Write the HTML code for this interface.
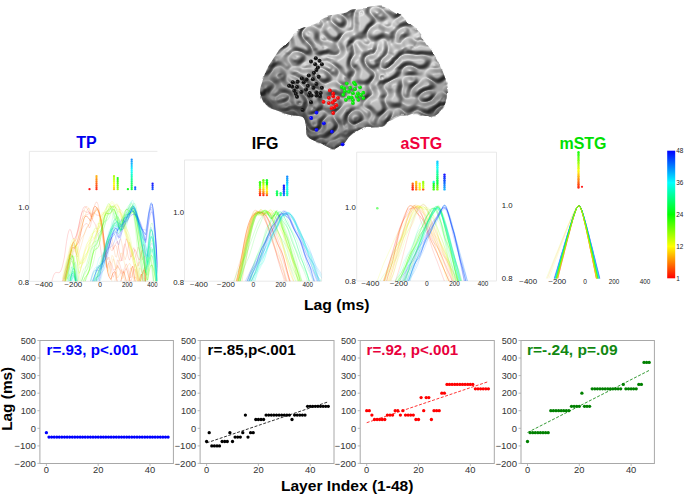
<!DOCTYPE html>
<html><head><meta charset="utf-8"><style>html,body{margin:0;padding:0;background:#fff;}svg{display:block;}</style></head>
<body><svg width="685" height="494" viewBox="0 0 685 494">
<rect width="685" height="494" fill="#fff"/>
<defs>
<clipPath id="bc"><path d="M260.1,90.7 C260.1,88.0 261.1,86.0 262.1,82.6 C263.1,79.2 264.5,74.2 266.2,70.5 C267.9,66.8 270.0,63.9 272.3,60.3 C274.6,56.7 277.6,51.9 280.0,49.0 C282.4,46.1 284.5,45.9 287.0,43.2 C289.5,40.5 292.3,35.2 295.2,32.7 C298.1,30.2 301.2,29.4 304.5,28.0 C307.8,26.6 311.7,26.2 315.0,24.5 C318.3,22.8 321.1,19.1 324.4,17.5 C327.7,15.8 331.4,15.4 334.9,14.6 C338.4,13.8 342.5,13.7 345.4,12.8 C348.3,11.9 348.9,10.1 352.4,9.3 C355.9,8.5 361.8,8.4 366.3,7.9 C370.8,7.5 376.0,6.6 379.5,6.6 C383.0,6.6 383.9,6.4 387.4,7.9 C390.9,9.4 397.0,13.2 400.5,15.8 C404.0,18.4 405.3,21.1 408.4,23.7 C411.5,26.3 415.9,28.1 419.0,31.6 C422.1,35.1 424.2,40.8 426.8,44.7 C429.4,48.7 432.1,50.9 434.7,55.3 C437.3,59.7 440.6,66.2 442.6,71.0 C444.6,75.8 445.9,79.8 446.6,84.2 C447.3,88.6 447.3,93.5 446.6,97.4 C445.9,101.4 444.6,104.8 442.6,107.9 C440.6,111.0 437.8,114.5 434.7,115.8 C431.6,117.1 427.3,116.2 424.2,115.8 C421.1,115.4 419.4,113.2 416.3,113.2 C413.2,113.2 408.5,115.3 405.8,115.8 C403.1,116.3 402.2,115.3 400.0,116.0 C397.8,116.7 394.7,118.7 392.6,119.7 C390.5,120.7 389.2,120.8 387.6,121.9 C386.0,123.0 385.1,125.5 383.2,126.3 C381.2,127.1 378.8,126.9 375.9,127.0 C373.0,127.1 368.8,126.4 365.7,127.0 C362.6,127.6 359.7,129.1 357.0,130.7 C354.3,132.3 351.8,134.3 349.6,136.5 C347.4,138.7 345.7,142.1 343.8,143.8 C341.9,145.5 339.9,145.8 338.0,146.7 C336.1,147.5 334.8,149.4 332.1,148.9 C329.4,148.4 325.3,145.4 321.9,143.8 C318.5,142.2 314.2,140.9 311.7,139.4 C309.1,137.9 307.6,137.4 306.6,135.0 C305.6,132.6 306.5,127.8 305.8,124.8 C305.1,121.8 305.2,118.6 302.6,117.0 C300.1,115.4 294.6,116.0 290.5,115.0 C286.4,114.0 282.0,112.2 278.3,110.9 C274.6,109.6 270.9,108.9 268.2,106.9 C265.5,104.9 263.5,101.5 262.1,98.8 C260.8,96.1 260.1,93.4 260.1,90.7Z"/></clipPath>
<filter id="gy" x="250" y="0" width="205" height="155" filterUnits="userSpaceOnUse" color-interpolation-filters="sRGB"><feTurbulence type="turbulence" baseFrequency="0.062 0.072" numOctaves="1" seed="8" result="t"/><feColorMatrix in="t" type="matrix" values="0 0 0 0 0  0 0 0 0 0  0 0 0 0 0  4 0 0 0 -0.2" result="h"/><feGaussianBlur in="h" stdDeviation="1.3" result="hb"/><feDiffuseLighting in="hb" surfaceScale="4" diffuseConstant="1.0" lighting-color="#ffffff" result="lit0"><feDistantLight azimuth="235" elevation="62"/></feDiffuseLighting><feComponentTransfer in="lit0" result="lit"><feFuncR type="linear" slope="0.64" intercept="0.19"/><feFuncG type="linear" slope="0.64" intercept="0.19"/><feFuncB type="linear" slope="0.64" intercept="0.19"/></feComponentTransfer><feSpecularLighting in="hb" surfaceScale="4" specularConstant="0.35" specularExponent="16" lighting-color="#ffffff" result="spec"><feDistantLight azimuth="240" elevation="60"/></feSpecularLighting><feComposite in="lit" in2="spec" operator="arithmetic" k1="0" k2="1" k3="0.28" k4="0" result="both"/><feTurbulence type="fractalNoise" baseFrequency="0.09" numOctaves="2" seed="4" result="dn"/><feDisplacementMap in="SourceGraphic" in2="dn" scale="5" xChannelSelector="R" yChannelSelector="G" result="shape"/><feComposite in="both" in2="shape" operator="in"/></filter>
<radialGradient id="bsh" gradientUnits="userSpaceOnUse" cx="365" cy="25" r="140"><stop offset="0" stop-color="#000" stop-opacity="0"/><stop offset="0.55" stop-color="#000" stop-opacity="0.06"/><stop offset="1" stop-color="#000" stop-opacity="0.5"/></radialGradient>
<radialGradient id="ball" cx="0.35" cy="0.35" r="0.7"><stop offset="0" stop-color="#fff" stop-opacity="0.35"/><stop offset="0.35" stop-color="#fff" stop-opacity="0"/><stop offset="1" stop-color="#000" stop-opacity="0.25"/></radialGradient>
</defs>
<path d="M260.1,90.7 C260.1,88.0 261.1,86.0 262.1,82.6 C263.1,79.2 264.5,74.2 266.2,70.5 C267.9,66.8 270.0,63.9 272.3,60.3 C274.6,56.7 277.6,51.9 280.0,49.0 C282.4,46.1 284.5,45.9 287.0,43.2 C289.5,40.5 292.3,35.2 295.2,32.7 C298.1,30.2 301.2,29.4 304.5,28.0 C307.8,26.6 311.7,26.2 315.0,24.5 C318.3,22.8 321.1,19.1 324.4,17.5 C327.7,15.8 331.4,15.4 334.9,14.6 C338.4,13.8 342.5,13.7 345.4,12.8 C348.3,11.9 348.9,10.1 352.4,9.3 C355.9,8.5 361.8,8.4 366.3,7.9 C370.8,7.5 376.0,6.6 379.5,6.6 C383.0,6.6 383.9,6.4 387.4,7.9 C390.9,9.4 397.0,13.2 400.5,15.8 C404.0,18.4 405.3,21.1 408.4,23.7 C411.5,26.3 415.9,28.1 419.0,31.6 C422.1,35.1 424.2,40.8 426.8,44.7 C429.4,48.7 432.1,50.9 434.7,55.3 C437.3,59.7 440.6,66.2 442.6,71.0 C444.6,75.8 445.9,79.8 446.6,84.2 C447.3,88.6 447.3,93.5 446.6,97.4 C445.9,101.4 444.6,104.8 442.6,107.9 C440.6,111.0 437.8,114.5 434.7,115.8 C431.6,117.1 427.3,116.2 424.2,115.8 C421.1,115.4 419.4,113.2 416.3,113.2 C413.2,113.2 408.5,115.3 405.8,115.8 C403.1,116.3 402.2,115.3 400.0,116.0 C397.8,116.7 394.7,118.7 392.6,119.7 C390.5,120.7 389.2,120.8 387.6,121.9 C386.0,123.0 385.1,125.5 383.2,126.3 C381.2,127.1 378.8,126.9 375.9,127.0 C373.0,127.1 368.8,126.4 365.7,127.0 C362.6,127.6 359.7,129.1 357.0,130.7 C354.3,132.3 351.8,134.3 349.6,136.5 C347.4,138.7 345.7,142.1 343.8,143.8 C341.9,145.5 339.9,145.8 338.0,146.7 C336.1,147.5 334.8,149.4 332.1,148.9 C329.4,148.4 325.3,145.4 321.9,143.8 C318.5,142.2 314.2,140.9 311.7,139.4 C309.1,137.9 307.6,137.4 306.6,135.0 C305.6,132.6 306.5,127.8 305.8,124.8 C305.1,121.8 305.2,118.6 302.6,117.0 C300.1,115.4 294.6,116.0 290.5,115.0 C286.4,114.0 282.0,112.2 278.3,110.9 C274.6,109.6 270.9,108.9 268.2,106.9 C265.5,104.9 263.5,101.5 262.1,98.8 C260.8,96.1 260.1,93.4 260.1,90.7Z" fill="#000" filter="url(#gy)"/>
<path d="M260.1,90.7 C260.1,88.0 261.1,86.0 262.1,82.6 C263.1,79.2 264.5,74.2 266.2,70.5 C267.9,66.8 270.0,63.9 272.3,60.3 C274.6,56.7 277.6,51.9 280.0,49.0 C282.4,46.1 284.5,45.9 287.0,43.2 C289.5,40.5 292.3,35.2 295.2,32.7 C298.1,30.2 301.2,29.4 304.5,28.0 C307.8,26.6 311.7,26.2 315.0,24.5 C318.3,22.8 321.1,19.1 324.4,17.5 C327.7,15.8 331.4,15.4 334.9,14.6 C338.4,13.8 342.5,13.7 345.4,12.8 C348.3,11.9 348.9,10.1 352.4,9.3 C355.9,8.5 361.8,8.4 366.3,7.9 C370.8,7.5 376.0,6.6 379.5,6.6 C383.0,6.6 383.9,6.4 387.4,7.9 C390.9,9.4 397.0,13.2 400.5,15.8 C404.0,18.4 405.3,21.1 408.4,23.7 C411.5,26.3 415.9,28.1 419.0,31.6 C422.1,35.1 424.2,40.8 426.8,44.7 C429.4,48.7 432.1,50.9 434.7,55.3 C437.3,59.7 440.6,66.2 442.6,71.0 C444.6,75.8 445.9,79.8 446.6,84.2 C447.3,88.6 447.3,93.5 446.6,97.4 C445.9,101.4 444.6,104.8 442.6,107.9 C440.6,111.0 437.8,114.5 434.7,115.8 C431.6,117.1 427.3,116.2 424.2,115.8 C421.1,115.4 419.4,113.2 416.3,113.2 C413.2,113.2 408.5,115.3 405.8,115.8 C403.1,116.3 402.2,115.3 400.0,116.0 C397.8,116.7 394.7,118.7 392.6,119.7 C390.5,120.7 389.2,120.8 387.6,121.9 C386.0,123.0 385.1,125.5 383.2,126.3 C381.2,127.1 378.8,126.9 375.9,127.0 C373.0,127.1 368.8,126.4 365.7,127.0 C362.6,127.6 359.7,129.1 357.0,130.7 C354.3,132.3 351.8,134.3 349.6,136.5 C347.4,138.7 345.7,142.1 343.8,143.8 C341.9,145.5 339.9,145.8 338.0,146.7 C336.1,147.5 334.8,149.4 332.1,148.9 C329.4,148.4 325.3,145.4 321.9,143.8 C318.5,142.2 314.2,140.9 311.7,139.4 C309.1,137.9 307.6,137.4 306.6,135.0 C305.6,132.6 306.5,127.8 305.8,124.8 C305.1,121.8 305.2,118.6 302.6,117.0 C300.1,115.4 294.6,116.0 290.5,115.0 C286.4,114.0 282.0,112.2 278.3,110.9 C274.6,109.6 270.9,108.9 268.2,106.9 C265.5,104.9 263.5,101.5 262.1,98.8 C260.8,96.1 260.1,93.4 260.1,90.7Z" fill="url(#bsh)"/>
<defs><filter id="sb2" x="-20%" y="-20%" width="140%" height="140%"><feGaussianBlur stdDeviation="1.8"/></filter><filter id="sb1" x="-20%" y="-20%" width="140%" height="140%"><feGaussianBlur stdDeviation="1.0"/></filter></defs>
<g clip-path="url(#bc)">
<path d="M261,97 C266,106 276,113 290,117 C298,119 304,121 308,124 L309,116 C300,112 290,110 281,106 C272,102 266,97 263,92Z" fill="#2e2e2e" opacity="0.55" filter="url(#sb2)"/>
<path d="M304,112 C305,120 306,128 308,136 C314,141 322,145 332,150 C340,147 346,141 350,136 C356,131 362,128 372,127 C380,127 386,125 392,120" fill="none" stroke="#2a2a2a" stroke-width="5" opacity="0.5" filter="url(#sb2)"/>
<path d="M398,117 C410,115 425,117 436,115 C441,110 445,104 447,96" fill="none" stroke="#2a2a2a" stroke-width="4" opacity="0.35" filter="url(#sb2)"/>
<path d="M285,104 C295,108 303,108 312,104 C318,100 324,97 330,92" fill="none" stroke="#333" stroke-width="3" opacity="0.35" filter="url(#sb1)"/>
<path d="M313,116 C325,111 340,104 352,102 C368,100 385,99 400,100" fill="none" stroke="#e0e0e0" stroke-width="3" opacity="0.35" filter="url(#sb1)"/>
</g>
<circle cx="315.8" cy="58.3" r="2.0" fill="#0a0a0a"/>
<circle cx="315.8" cy="58.3" r="2.0" fill="url(#ball)"/>
<circle cx="319.5" cy="60.7" r="2.0" fill="#0a0a0a"/>
<circle cx="319.5" cy="60.7" r="2.0" fill="url(#ball)"/>
<circle cx="311.0" cy="61.5" r="2.0" fill="#0a0a0a"/>
<circle cx="311.0" cy="61.5" r="2.0" fill="url(#ball)"/>
<circle cx="315.2" cy="64.3" r="2.0" fill="#0a0a0a"/>
<circle cx="315.2" cy="64.3" r="2.0" fill="url(#ball)"/>
<circle cx="321.9" cy="64.3" r="2.0" fill="#0a0a0a"/>
<circle cx="321.9" cy="64.3" r="2.0" fill="url(#ball)"/>
<circle cx="317.9" cy="67.6" r="2.0" fill="#0a0a0a"/>
<circle cx="317.9" cy="67.6" r="2.0" fill="url(#ball)"/>
<circle cx="316.4" cy="70.0" r="2.0" fill="#0a0a0a"/>
<circle cx="316.4" cy="70.0" r="2.0" fill="url(#ball)"/>
<circle cx="314.0" cy="72.8" r="2.0" fill="#0a0a0a"/>
<circle cx="314.0" cy="72.8" r="2.0" fill="url(#ball)"/>
<circle cx="308.8" cy="75.5" r="2.0" fill="#0a0a0a"/>
<circle cx="308.8" cy="75.5" r="2.0" fill="url(#ball)"/>
<circle cx="318.6" cy="76.7" r="2.0" fill="#0a0a0a"/>
<circle cx="318.6" cy="76.7" r="2.0" fill="url(#ball)"/>
<circle cx="301.9" cy="78.5" r="2.0" fill="#0a0a0a"/>
<circle cx="301.9" cy="78.5" r="2.0" fill="url(#ball)"/>
<circle cx="306.5" cy="79.5" r="2.0" fill="#0a0a0a"/>
<circle cx="306.5" cy="79.5" r="2.0" fill="url(#ball)"/>
<circle cx="312.8" cy="79.2" r="2.0" fill="#0a0a0a"/>
<circle cx="312.8" cy="79.2" r="2.0" fill="url(#ball)"/>
<circle cx="292.8" cy="82.2" r="2.0" fill="#0a0a0a"/>
<circle cx="292.8" cy="82.2" r="2.0" fill="url(#ball)"/>
<circle cx="297.6" cy="81.8" r="2.0" fill="#0a0a0a"/>
<circle cx="297.6" cy="81.8" r="2.0" fill="url(#ball)"/>
<circle cx="303.7" cy="82.2" r="2.0" fill="#0a0a0a"/>
<circle cx="303.7" cy="82.2" r="2.0" fill="url(#ball)"/>
<circle cx="316.4" cy="84.0" r="2.0" fill="#0a0a0a"/>
<circle cx="316.4" cy="84.0" r="2.0" fill="url(#ball)"/>
<circle cx="289.1" cy="85.8" r="2.0" fill="#0a0a0a"/>
<circle cx="289.1" cy="85.8" r="2.0" fill="url(#ball)"/>
<circle cx="292.1" cy="86.4" r="2.0" fill="#0a0a0a"/>
<circle cx="292.1" cy="86.4" r="2.0" fill="url(#ball)"/>
<circle cx="297.0" cy="87.0" r="2.0" fill="#0a0a0a"/>
<circle cx="297.0" cy="87.0" r="2.0" fill="url(#ball)"/>
<circle cx="307.9" cy="85.8" r="2.0" fill="#0a0a0a"/>
<circle cx="307.9" cy="85.8" r="2.0" fill="url(#ball)"/>
<circle cx="313.4" cy="87.7" r="2.0" fill="#0a0a0a"/>
<circle cx="313.4" cy="87.7" r="2.0" fill="url(#ball)"/>
<circle cx="321.9" cy="87.7" r="2.0" fill="#0a0a0a"/>
<circle cx="321.9" cy="87.7" r="2.0" fill="url(#ball)"/>
<circle cx="294.3" cy="90.7" r="2.0" fill="#0a0a0a"/>
<circle cx="294.3" cy="90.7" r="2.0" fill="url(#ball)"/>
<circle cx="301.3" cy="91.9" r="2.0" fill="#0a0a0a"/>
<circle cx="301.3" cy="91.9" r="2.0" fill="url(#ball)"/>
<circle cx="306.1" cy="89.5" r="2.0" fill="#0a0a0a"/>
<circle cx="306.1" cy="89.5" r="2.0" fill="url(#ball)"/>
<circle cx="295.8" cy="93.7" r="2.0" fill="#0a0a0a"/>
<circle cx="295.8" cy="93.7" r="2.0" fill="url(#ball)"/>
<circle cx="309.8" cy="93.1" r="2.0" fill="#0a0a0a"/>
<circle cx="309.8" cy="93.1" r="2.0" fill="url(#ball)"/>
<circle cx="316.4" cy="92.5" r="2.0" fill="#0a0a0a"/>
<circle cx="316.4" cy="92.5" r="2.0" fill="url(#ball)"/>
<circle cx="320.7" cy="93.1" r="2.0" fill="#0a0a0a"/>
<circle cx="320.7" cy="93.1" r="2.0" fill="url(#ball)"/>
<circle cx="297.0" cy="96.8" r="2.0" fill="#0a0a0a"/>
<circle cx="297.0" cy="96.8" r="2.0" fill="url(#ball)"/>
<circle cx="309.2" cy="95.5" r="2.0" fill="#0a0a0a"/>
<circle cx="309.2" cy="95.5" r="2.0" fill="url(#ball)"/>
<circle cx="311.6" cy="95.5" r="2.0" fill="#0a0a0a"/>
<circle cx="311.6" cy="95.5" r="2.0" fill="url(#ball)"/>
<circle cx="316.4" cy="95.5" r="2.0" fill="#0a0a0a"/>
<circle cx="316.4" cy="95.5" r="2.0" fill="url(#ball)"/>
<circle cx="320.1" cy="95.9" r="2.0" fill="#0a0a0a"/>
<circle cx="320.1" cy="95.9" r="2.0" fill="url(#ball)"/>
<circle cx="311.0" cy="102.2" r="2.0" fill="#0a0a0a"/>
<circle cx="311.0" cy="102.2" r="2.0" fill="url(#ball)"/>
<circle cx="302.6" cy="110.1" r="2.0" fill="#0a0a0a"/>
<circle cx="302.6" cy="110.1" r="2.0" fill="url(#ball)"/>
<circle cx="329.9" cy="90.4" r="1.9" fill="#f00"/>
<circle cx="329.9" cy="90.4" r="1.9" fill="url(#ball)"/>
<circle cx="333.2" cy="93.4" r="1.9" fill="#f00"/>
<circle cx="333.2" cy="93.4" r="1.9" fill="url(#ball)"/>
<circle cx="333.2" cy="96.3" r="1.9" fill="#f00"/>
<circle cx="333.2" cy="96.3" r="1.9" fill="url(#ball)"/>
<circle cx="328.9" cy="97.8" r="1.9" fill="#f00"/>
<circle cx="328.9" cy="97.8" r="1.9" fill="url(#ball)"/>
<circle cx="338.0" cy="97.8" r="1.9" fill="#f00"/>
<circle cx="338.0" cy="97.8" r="1.9" fill="url(#ball)"/>
<circle cx="334.7" cy="100.3" r="1.9" fill="#f00"/>
<circle cx="334.7" cy="100.3" r="1.9" fill="url(#ball)"/>
<circle cx="323.5" cy="101.8" r="1.9" fill="#f00"/>
<circle cx="323.5" cy="101.8" r="1.9" fill="url(#ball)"/>
<circle cx="328.9" cy="103.1" r="1.9" fill="#f00"/>
<circle cx="328.9" cy="103.1" r="1.9" fill="url(#ball)"/>
<circle cx="332.7" cy="102.5" r="1.9" fill="#f00"/>
<circle cx="332.7" cy="102.5" r="1.9" fill="url(#ball)"/>
<circle cx="336.4" cy="105.2" r="1.9" fill="#f00"/>
<circle cx="336.4" cy="105.2" r="1.9" fill="url(#ball)"/>
<circle cx="334.2" cy="107.2" r="1.9" fill="#f00"/>
<circle cx="334.2" cy="107.2" r="1.9" fill="url(#ball)"/>
<circle cx="331.6" cy="108.2" r="1.9" fill="#f00"/>
<circle cx="331.6" cy="108.2" r="1.9" fill="url(#ball)"/>
<circle cx="333.2" cy="113.0" r="1.9" fill="#f00"/>
<circle cx="333.2" cy="113.0" r="1.9" fill="url(#ball)"/>
<circle cx="346.8" cy="83.6" r="1.9" fill="#0e0"/>
<circle cx="346.8" cy="83.6" r="1.9" fill="url(#ball)"/>
<circle cx="353.9" cy="82.6" r="1.9" fill="#0e0"/>
<circle cx="353.9" cy="82.6" r="1.9" fill="url(#ball)"/>
<circle cx="355.2" cy="84.3" r="1.9" fill="#0e0"/>
<circle cx="355.2" cy="84.3" r="1.9" fill="url(#ball)"/>
<circle cx="341.8" cy="87.1" r="1.9" fill="#0e0"/>
<circle cx="341.8" cy="87.1" r="1.9" fill="url(#ball)"/>
<circle cx="344.3" cy="88.4" r="1.9" fill="#0e0"/>
<circle cx="344.3" cy="88.4" r="1.9" fill="url(#ball)"/>
<circle cx="350.2" cy="87.7" r="1.9" fill="#0e0"/>
<circle cx="350.2" cy="87.7" r="1.9" fill="url(#ball)"/>
<circle cx="354.9" cy="89.2" r="1.9" fill="#0e0"/>
<circle cx="354.9" cy="89.2" r="1.9" fill="url(#ball)"/>
<circle cx="360.0" cy="87.3" r="1.9" fill="#0e0"/>
<circle cx="360.0" cy="87.3" r="1.9" fill="url(#ball)"/>
<circle cx="344.8" cy="91.2" r="1.9" fill="#0e0"/>
<circle cx="344.8" cy="91.2" r="1.9" fill="url(#ball)"/>
<circle cx="348.8" cy="91.7" r="1.9" fill="#0e0"/>
<circle cx="348.8" cy="91.7" r="1.9" fill="url(#ball)"/>
<circle cx="352.9" cy="93.2" r="1.9" fill="#0e0"/>
<circle cx="352.9" cy="93.2" r="1.9" fill="url(#ball)"/>
<circle cx="358.0" cy="93.4" r="1.9" fill="#0e0"/>
<circle cx="358.0" cy="93.4" r="1.9" fill="url(#ball)"/>
<circle cx="363.3" cy="92.7" r="1.9" fill="#0e0"/>
<circle cx="363.3" cy="92.7" r="1.9" fill="url(#ball)"/>
<circle cx="343.3" cy="94.7" r="1.9" fill="#0e0"/>
<circle cx="343.3" cy="94.7" r="1.9" fill="url(#ball)"/>
<circle cx="361.0" cy="95.0" r="1.9" fill="#0e0"/>
<circle cx="361.0" cy="95.0" r="1.9" fill="url(#ball)"/>
<circle cx="348.8" cy="97.5" r="1.9" fill="#0e0"/>
<circle cx="348.8" cy="97.5" r="1.9" fill="url(#ball)"/>
<circle cx="351.6" cy="97.5" r="1.9" fill="#0e0"/>
<circle cx="351.6" cy="97.5" r="1.9" fill="url(#ball)"/>
<circle cx="356.9" cy="96.3" r="1.9" fill="#0e0"/>
<circle cx="356.9" cy="96.3" r="1.9" fill="url(#ball)"/>
<circle cx="345.8" cy="99.8" r="1.9" fill="#0e0"/>
<circle cx="345.8" cy="99.8" r="1.9" fill="url(#ball)"/>
<circle cx="352.9" cy="100.1" r="1.9" fill="#0e0"/>
<circle cx="352.9" cy="100.1" r="1.9" fill="url(#ball)"/>
<circle cx="358.3" cy="99.8" r="1.9" fill="#0e0"/>
<circle cx="358.3" cy="99.8" r="1.9" fill="url(#ball)"/>
<circle cx="363.3" cy="98.1" r="1.9" fill="#0e0"/>
<circle cx="363.3" cy="98.1" r="1.9" fill="url(#ball)"/>
<circle cx="352.9" cy="103.1" r="1.9" fill="#0e0"/>
<circle cx="352.9" cy="103.1" r="1.9" fill="url(#ball)"/>
<circle cx="316.5" cy="112.6" r="1.9" fill="#00f"/>
<circle cx="316.5" cy="112.6" r="1.9" fill="url(#ball)"/>
<circle cx="311.2" cy="118.0" r="1.9" fill="#00f"/>
<circle cx="311.2" cy="118.0" r="1.9" fill="url(#ball)"/>
<circle cx="323.8" cy="123.3" r="1.9" fill="#00f"/>
<circle cx="323.8" cy="123.3" r="1.9" fill="url(#ball)"/>
<circle cx="316.5" cy="129.8" r="1.9" fill="#00f"/>
<circle cx="316.5" cy="129.8" r="1.9" fill="url(#ball)"/>
<circle cx="331.9" cy="131.6" r="1.9" fill="#00f"/>
<circle cx="331.9" cy="131.6" r="1.9" fill="url(#ball)"/>
<circle cx="342.6" cy="144.3" r="1.9" fill="#00f"/>
<circle cx="342.6" cy="144.3" r="1.9" fill="url(#ball)"/>
<defs>
<clipPath id="pc0"><rect x="29.4" y="151.4" width="128.0" height="129.9"/></clipPath>
<clipPath id="pc1"><rect x="184.5" y="160.0" width="137.1" height="121.2"/></clipPath>
<clipPath id="pc2"><rect x="356.7" y="152.2" width="139.8" height="128.8"/></clipPath>
<clipPath id="pc3"><rect x="500.0" y="150.0" width="160.0" height="128.6"/></clipPath>
</defs>
<path d="M29.4,151.4 V281.3 H157.4 " fill="none" stroke="#e6e6e6" stroke-width="0.9"/>
<path d="M29.4,151.4 H157.4" fill="none" stroke="#e6e6e6" stroke-width="0.9"/>
<g clip-path="url(#pc0)" fill="none" stroke-width="0.6" stroke-linejoin="round">
<path d="M51.4,283.2 52.5,278.7 53.6,275.4 54.7,273.4 55.8,272.5 56.8,272.4 57.9,272.7 59.0,272.7 60.1,272.0 61.2,270.0 62.3,266.8 63.3,262.4 64.4,257.3 65.5,249.1 66.6,241.3 67.7,235.0 68.8,230.9 69.8,229.3 70.9,230.3 72.0,234.4 73.1,238.6 74.2,238.5 75.3,237.4 76.4,235.1 77.4,231.6 78.5,227.0 79.6,221.9 80.7,216.8 81.8,212.4 82.9,209.0 83.9,207.1 85.0,206.5 86.1,207.2 87.2,208.8 88.3,210.8 89.4,213.0 90.4,215.4 91.5,217.8 92.6,219.9 93.7,221.7 94.8,223.5 95.9,225.8 96.9,229.0 98.0,233.4 99.1,239.2 100.2,246.1 101.3,253.9 102.4,262.0 103.5,252.5 104.5,257.1 105.6,253.9 106.7,249.4 107.8,243.9 108.9,238.7 110.0,240.5 111.0,242.7 112.1,245.7 113.2,249.4 114.3,246.3 115.4,244.3 116.5,242.7 117.5,241.3 118.6,247.5 119.7,253.0 120.8,257.6 121.9,261.0 123.0,256.1 124.0,250.2 125.1,244.2 126.2,238.7 127.3,241.0 128.4,245.4 129.5,250.7 130.6,256.8 131.6,256.6 132.7,254.8 133.8,252.4 134.9,249.4 136.0,251.4 137.1,254.8 138.1,257.6 139.2,260.1 140.3,257.3 141.4,252.3 142.5,248.0 143.6,244.4 144.6,246.6 145.7,289.3" stroke="#ff0000" stroke-opacity="0.22" stroke-width="0.7"/>
<path d="M62.3,281.2 63.3,276.9 64.4,273.0 65.5,269.7 66.6,266.9 67.7,264.0 68.8,260.6 69.8,256.5 70.9,252.1 72.0,247.2 73.1,243.2 74.2,241.2 75.3,238.6 76.4,235.8 77.4,232.2 78.5,227.6 79.6,222.3 80.7,217.2 81.8,213.2 82.9,211.0 83.9,210.6 85.0,211.3 86.1,212.2 87.2,212.3 88.3,211.9 89.4,212.2 90.4,213.7 91.5,217.0 92.6,213.5 93.7,212.4 94.8,213.2 95.9,214.5 96.9,215.2 98.0,215.2 99.1,215.4 100.2,216.4 101.3,219.5 102.4,225.6 103.5,234.7 104.5,245.9 105.6,257.4 106.7,267.7 107.8,268.3 108.9,261.6 110.0,261.8 111.0,262.6 112.1,265.2 113.2,270.2 114.3,269.8 115.4,269.4 116.5,268.3 117.5,265.3 118.6,267.4 119.7,269.3 120.8,271.2 121.9,274.3 123.0,272.6 124.0,270.9 125.1,269.8 126.2,268.3 127.3,271.5 128.4,275.6 129.5,278.6 130.6,281.5 131.6,279.4 132.7,275.5 133.8,272.2 134.9,269.2 136.0,270.7 137.1,274.7 138.1,278.1 139.2,281.5 140.3,280.8 141.4,277.0 142.5,273.7 143.6,270.3 144.6,270.3 145.7,289.3" stroke="#ff1600" stroke-opacity="0.22" stroke-width="0.7"/>
<path d="M64.4,284.2 65.5,280.6 66.6,276.8 67.7,273.0 68.8,269.2 69.8,265.5 70.9,262.0 72.0,256.8 73.1,252.5 74.2,249.8 75.3,248.2 76.4,244.7 77.4,241.3 78.5,237.9 79.6,234.7 80.7,231.8 81.8,229.3 82.9,227.2 83.9,225.5 85.0,224.2 86.1,223.6 87.2,223.6 88.3,225.0 89.4,228.0 90.4,226.2 91.5,221.4 92.6,217.0 93.7,213.1 94.8,210.1 95.9,208.3 96.9,207.8 98.0,209.2 99.1,212.4 100.2,216.9 101.3,222.2 102.4,228.1 103.5,234.5 104.5,241.3 105.6,248.7 106.7,256.6 107.8,259.8 108.9,257.0 110.0,261.7 111.0,267.2 112.1,272.5 113.2,277.3 114.3,274.7 115.4,270.1 116.5,265.1 117.5,259.8 118.6,260.9 119.7,264.3 120.8,268.1 121.9,272.6 123.0,271.9 124.0,269.2 125.1,266.6 126.2,263.8 127.3,265.9 128.4,270.4 129.5,274.3 130.6,277.9 131.6,276.7 132.7,272.0 133.8,267.8 134.9,264.1 136.0,265.1 137.1,270.5 138.1,276.1 139.2,281.6 140.3,282.9 141.4,279.2 142.5,274.8 143.6,269.7 144.6,267.5 145.7,289.3" stroke="#ff2b00" stroke-opacity="0.22" stroke-width="0.7"/>
<path d="M61.2,284.9 62.3,282.1 63.3,279.5 64.4,277.1 65.5,274.5 66.6,271.7 67.7,268.7 68.8,263.2 69.8,257.0 70.9,251.4 72.0,246.7 73.1,243.1 74.2,241.0 75.3,240.8 76.4,239.1 77.4,234.6 78.5,230.2 79.6,226.1 80.7,222.4 81.8,219.6 82.9,217.5 83.9,216.2 85.0,215.4 86.1,215.0 87.2,214.5 88.3,214.0 89.4,213.3 90.4,213.1 91.5,214.1 92.6,214.6 93.7,209.1 94.8,204.8 95.9,202.3 96.9,202.0 98.0,204.4 99.1,210.1 100.2,218.0 101.3,227.0 102.4,236.1 103.5,244.7 104.5,252.4 105.6,249.4 106.7,243.1 107.8,241.0 108.9,243.1 110.0,245.9 111.0,249.8 112.1,250.9 113.2,248.6 114.3,246.9 115.4,245.3 116.5,246.6 117.5,252.1 118.6,256.8 119.7,260.7 120.8,261.1 121.9,255.9 123.0,250.7 124.0,245.8 125.1,243.7 126.2,247.9 127.3,252.4 128.4,257.2 129.5,260.2 130.6,256.8 131.6,253.4 132.7,249.9 133.8,247.7 134.9,252.4 136.0,257.2 137.1,262.1 138.1,266.1 139.2,262.6 140.3,258.7 141.4,254.4 142.5,250.0 143.6,253.0 144.6,256.0 145.7,289.3" stroke="#ff4100" stroke-opacity="0.22" stroke-width="0.7"/>
<path d="M64.4,283.5 65.5,276.4 66.6,271.0 67.7,266.5 68.8,262.1 69.8,257.4 70.9,252.6 72.0,248.8 73.1,247.1 74.2,248.7 75.3,246.4 76.4,245.3 77.4,244.3 78.5,242.3 79.6,238.7 80.7,233.6 81.8,227.9 82.9,222.6 83.9,218.7 85.0,216.7 86.1,216.2 87.2,216.6 88.3,217.7 89.4,219.2 90.4,221.2 91.5,217.0 92.6,211.3 93.7,207.7 94.8,206.4 95.9,206.7 96.9,208.0 98.0,210.0 99.1,212.7 100.2,216.2 101.3,220.9 102.4,227.2 103.5,235.5 104.5,245.3 105.6,255.9 106.7,266.0 107.8,272.9 108.9,276.1 110.0,278.6 111.0,279.4 112.1,275.4 113.2,272.9 114.3,271.7 115.4,272.2 116.5,278.4 117.5,283.0 118.6,286.1 M120.8,281.7 121.9,277.0 123.0,273.6 124.0,271.5 125.1,276.7 126.2,280.8 127.3,283.5 128.4,285.0 129.5,278.3 130.6,272.6 131.6,268.5 132.7,266.2 133.8,272.6 134.9,279.3 136.0,285.0 137.1,289.3 M139.2,280.7 140.3,276.7 141.4,274.0 142.5,279.1 143.6,285.8" stroke="#ff5700" stroke-opacity="0.42" stroke-width="0.9"/>
<path d="M64.4,280.3 65.5,273.9 66.6,266.9 67.7,260.1 68.8,254.0 69.8,249.3 70.9,246.3 72.0,245.0 73.1,244.9 74.2,245.9 75.3,249.3 76.4,255.1 77.4,252.2 78.5,247.0 79.6,242.8 80.7,239.7 81.8,237.7 82.9,236.2 83.9,234.6 85.0,232.4 86.1,229.6 87.2,226.8 88.3,224.8 89.4,223.7 90.4,219.3 91.5,216.3 92.6,214.5 93.7,213.2 94.8,211.9 95.9,210.5 96.9,209.5 98.0,209.9 99.1,212.2 100.2,216.8 101.3,223.5 102.4,231.8 103.5,239.5 104.5,245.4 105.6,250.3 106.7,253.8 107.8,251.9 108.9,246.1 110.0,240.9 111.0,237.0 112.1,238.2 113.2,244.6 114.3,250.9 115.4,256.4 116.5,257.2 117.5,252.0 118.6,246.1 119.7,240.5 120.8,238.7 121.9,243.6 123.0,249.6 124.0,256.0 125.1,259.7 126.2,256.5 127.3,251.9 128.4,246.3 129.5,242.2 130.6,245.2 131.6,249.3 132.7,254.8 133.8,259.7 134.9,257.9 136.0,255.3 137.1,251.4 138.1,247.1 139.2,249.5 140.3,252.0 141.4,255.5 142.5,260.0 143.6,257.7 144.6,255.9 145.7,289.3" stroke="#ff6d00" stroke-opacity="0.22" stroke-width="0.7"/>
<path d="M63.3,283.0 64.4,279.6 65.5,276.6 66.6,273.6 67.7,267.8 68.8,260.8 69.8,254.3 70.9,248.7 72.0,244.7 73.1,242.8 74.2,243.3 75.3,247.4 76.4,244.8 77.4,241.4 78.5,237.2 79.6,232.1 80.7,226.5 81.8,220.7 82.9,215.4 83.9,211.0 85.0,208.0 86.1,206.5 87.2,206.6 88.3,207.8 89.4,210.2 90.4,213.9 91.5,218.5 92.6,218.9 93.7,215.5 94.8,212.4 95.9,210.2 96.9,209.1 98.0,210.3 99.1,214.0 100.2,219.4 101.3,225.8 102.4,232.8 103.5,240.3 104.5,248.4 105.6,257.5 106.7,267.0 107.8,264.6 108.9,263.1 110.0,269.6 111.0,276.5 112.1,282.6 113.2,287.6 M114.3,284.2 115.4,278.7 116.5,272.6 117.5,266.4 118.6,267.3 119.7,270.3 120.8,274.2 121.9,278.8 123.0,277.6 124.0,274.6 125.1,271.6 126.2,268.4 127.3,270.8 128.4,275.8 129.5,281.0 130.6,286.5 M132.7,284.3 133.8,281.2 134.9,277.3 136.0,277.1 137.1,279.5 138.1,281.4 139.2,283.2 140.3,281.4 141.4,276.6 142.5,272.9 143.6,270.4 144.6,272.4 145.7,289.3" stroke="#ff8200" stroke-opacity="0.22" stroke-width="0.7"/>
<path d="M65.5,279.1 66.6,272.5 67.7,265.7 68.8,259.2 69.8,253.1 70.9,248.0 72.0,244.3 73.1,242.5 74.2,242.9 75.3,247.0 76.4,254.8 77.4,257.0 78.5,254.1 79.6,250.9 80.7,247.3 81.8,243.4 82.9,239.3 83.9,235.3 85.0,231.7 86.1,228.8 87.2,226.9 88.3,226.2 89.4,224.0 90.4,221.4 91.5,219.0 92.6,216.7 93.7,214.5 94.8,212.5 95.9,210.9 96.9,210.3 98.0,211.6 99.1,214.4 100.2,218.6 101.3,224.0 102.4,230.3 103.5,237.5 104.5,245.2 105.6,253.2 106.7,261.2 107.8,269.1 108.9,276.4 110.0,272.2 111.0,267.7 112.1,263.1 113.2,258.7 114.3,262.8 115.4,267.4 116.5,272.5 117.5,278.1 118.6,276.3 119.7,274.2 120.8,272.0 121.9,269.4 123.0,273.5 124.0,277.9 125.1,281.8 126.2,285.2 127.3,281.7 128.4,276.8 129.5,272.2 130.6,267.8 131.6,270.1 132.7,274.6 133.8,279.2 134.9,283.7 136.0,282.3 137.1,278.0 138.1,273.3 139.2,268.3 140.3,268.4 141.4,271.4 142.5,274.7 143.6,278.5 144.6,278.3 145.7,289.3" stroke="#ff9800" stroke-opacity="0.22" stroke-width="0.7"/>
<path d="M63.3,281.8 64.4,276.6 65.5,271.8 66.6,267.7 67.7,263.9 68.8,260.3 69.8,256.9 70.9,253.8 72.0,251.1 73.1,249.3 74.2,250.3 75.3,252.4 76.4,246.5 77.4,241.2 78.5,236.6 79.6,232.7 80.7,229.3 81.8,226.0 82.9,222.8 83.9,219.4 85.0,216.0 86.1,212.8 87.2,210.2 88.3,208.7 89.4,208.6 90.4,210.6 91.5,214.5 92.6,216.7 93.7,214.1 94.8,211.6 95.9,209.3 96.9,207.7 98.0,207.9 99.1,210.8 100.2,216.1 101.3,223.4 102.4,232.3 103.5,242.4 104.5,253.1 105.6,261.1 106.7,266.6 107.8,271.4 108.9,269.3 110.0,264.9 111.0,260.1 112.1,255.4 113.2,256.7 114.3,260.5 115.4,264.6 116.5,268.7 117.5,267.3 118.6,262.8 119.7,258.1 120.8,253.1 121.9,253.1 123.0,256.8 124.0,261.2 125.1,266.4 126.2,268.1 127.3,266.4 128.4,265.0 129.5,263.3 130.6,264.9 131.6,270.1 132.7,274.5 133.8,278.2 134.9,278.3 136.0,273.3 137.1,268.4 138.1,263.7 139.2,262.0 140.3,265.8 141.4,269.5 142.5,273.0 143.6,274.1 144.6,269.1 145.7,289.3" stroke="#ffae00" stroke-opacity="0.22" stroke-width="0.7"/>
<path d="M63.3,279.2 64.4,272.6 65.5,266.8 66.6,261.9 67.7,258.1 68.8,255.4 69.8,253.9 70.9,253.7 72.0,254.7 73.1,257.6 74.2,262.9 75.3,269.8 76.4,277.9 77.4,282.1 78.5,277.8 79.6,273.2 80.7,268.4 81.8,263.7 82.9,259.2 83.9,255.2 85.0,251.7 86.1,248.9 87.2,246.6 88.3,244.8 89.4,243.4 90.4,242.2 91.5,241.1 92.6,239.9 93.7,238.5 94.8,236.8 95.9,234.9 96.9,232.7 98.0,230.3 99.1,227.9 100.2,225.3 101.3,222.8 102.4,220.5 103.5,218.2 104.5,216.1 105.6,214.2 106.7,212.5 107.8,211.0 108.9,209.7 110.0,208.7 111.0,208.0 112.1,207.3 113.2,206.5 114.3,205.7 115.4,205.0 116.5,204.8 117.5,205.6 118.6,207.5 119.7,210.2 120.8,213.7 121.9,217.6 123.0,221.9 124.0,226.4 125.1,230.9 126.2,235.3 127.3,239.6 128.4,243.8 129.5,247.9 130.6,251.9 131.6,256.0 132.7,260.1 133.8,264.5 134.9,269.1 136.0,274.0 137.1,279.0 138.1,284.2 139.2,289.3" stroke="#ffc300" stroke-opacity="0.22" stroke-width="0.7"/>
<path d="M65.5,283.2 66.6,277.7 67.7,271.7 68.8,265.2 69.8,258.5 70.9,252.0 72.0,246.2 73.1,241.8 74.2,239.4 75.3,240.0 76.4,244.1 77.4,251.1 78.5,260.4 79.6,268.3 80.7,266.9 81.8,265.4 82.9,263.8 83.9,261.9 85.0,259.8 86.1,257.5 87.2,255.2 88.3,253.0 89.4,250.8 90.4,248.5 91.5,246.2 92.6,243.6 93.7,240.7 94.8,237.4 95.9,233.7 96.9,229.8 98.0,225.8 99.1,222.0 100.2,218.6 101.3,216.0 102.4,214.1 103.5,213.0 104.5,212.6 105.6,212.8 106.7,213.1 107.8,213.5 108.9,213.6 110.0,213.4 111.0,213.0 112.1,212.1 113.2,210.7 114.3,209.0 115.4,207.4 116.5,206.0 117.5,205.7 118.6,206.6 119.7,208.7 120.8,211.6 121.9,215.2 123.0,219.1 124.0,223.1 125.1,227.2 126.2,231.3 127.3,235.5 128.4,239.9 129.5,244.4 130.6,249.2 131.6,254.3 132.7,259.3 133.8,264.3 134.9,269.1 136.0,273.4 137.1,277.2 138.1,280.5 139.2,283.3 140.3,286.0" stroke="#ffd900" stroke-opacity="0.22" stroke-width="0.7"/>
<path d="M65.5,282.2 66.6,276.2 67.7,269.7 68.8,262.9 69.8,256.1 70.9,249.8 72.0,244.4 73.1,240.5 74.2,238.5 75.3,238.9 76.4,242.6 77.4,249.3 78.5,258.3 79.6,263.1 80.7,261.6 81.8,259.7 82.9,257.3 83.9,254.4 85.0,251.1 86.1,247.6 87.2,244.2 88.3,241.0 89.4,238.2 90.4,236.0 91.5,234.3 92.6,233.0 93.7,232.0 94.8,231.2 95.9,230.2 96.9,229.0 98.0,227.4 99.1,225.3 100.2,222.8 101.3,220.0 102.4,217.0 103.5,214.0 104.5,211.3 105.6,209.0 106.7,207.2 107.8,206.0 108.9,205.5 110.0,205.6 111.0,206.0 112.1,206.4 113.2,206.8 114.3,207.1 115.4,207.4 116.5,207.6 117.5,208.5 118.6,210.2 119.7,212.8 120.8,216.0 121.9,219.7 123.0,223.6 124.0,227.7 125.1,231.8 126.2,235.7 127.3,239.3 128.4,242.7 129.5,245.8 130.6,248.9 131.6,252.0 132.7,255.4 133.8,259.1 134.9,263.3 136.0,268.0 137.1,273.3 138.1,279.0 139.2,284.8 140.3,289.3" stroke="#ffef00" stroke-opacity="0.22" stroke-width="0.7"/>
<path d="M64.4,284.3 65.5,280.3 66.6,275.5 67.7,269.7 68.8,263.4 69.8,257.2 70.9,252.2 72.0,248.7 73.1,246.6 74.2,245.6 75.3,245.1 76.4,244.9 77.4,246.4 78.5,250.0 79.6,256.1 80.7,264.1 81.8,262.8 82.9,262.7 83.9,262.7 85.0,261.7 86.1,258.9 87.2,254.1 88.3,248.3 89.4,242.6 90.4,238.5 91.5,236.6 92.6,236.8 93.7,238.0 94.8,238.6 95.9,237.5 96.9,234.0 98.0,228.6 99.1,222.3 100.2,216.8 101.3,213.3 102.4,212.2 103.5,213.1 104.5,214.8 105.6,215.9 106.7,215.4 107.8,213.1 108.9,209.7 110.0,206.4 111.0,204.0 112.1,203.1 113.2,204.0 114.3,206.0 115.4,208.4 116.5,210.2 117.5,211.0 118.6,211.3 119.7,211.6 120.8,212.4 121.9,213.9 123.0,216.2 124.0,219.3 125.1,222.8 126.2,226.7 127.3,230.9 128.4,235.3 129.5,240.2 130.6,245.2 131.6,250.0 132.7,254.2 133.8,257.5 134.9,259.9 136.0,261.8 137.1,264.0 138.1,267.4 139.2,272.4 140.3,279.0 141.4,286.5" stroke="#faff00" stroke-opacity="0.22" stroke-width="0.7"/>
<path d="M62.3,278.8 63.3,272.6 64.4,267.5 65.5,263.3 66.6,259.6 67.7,255.7 68.8,251.4 69.8,246.9 70.9,242.8 72.0,239.9 73.1,238.9 74.2,240.8 75.3,246.2 76.4,254.2 77.4,263.7 78.5,273.7 79.6,272.4 80.7,268.8 81.8,265.3 82.9,262.2 83.9,259.7 85.0,257.5 86.1,255.3 87.2,252.6 88.3,249.0 89.4,244.8 90.4,240.4 91.5,236.6 92.6,233.8 93.7,232.3 94.8,231.8 95.9,231.7 96.9,231.3 98.0,230.2 99.1,228.2 100.2,225.6 101.3,222.8 102.4,220.3 103.5,218.3 104.5,216.5 105.6,214.7 106.7,212.4 107.8,209.5 108.9,206.4 110.0,203.7 111.0,202.0 112.1,201.5 113.2,202.3 114.3,204.2 115.4,206.6 116.5,208.9 117.5,211.3 118.6,213.6 119.7,215.9 120.8,218.5 121.9,221.7 123.0,225.6 124.0,230.0 125.1,234.2 126.2,238.0 127.3,240.9 128.4,243.2 129.5,245.4 130.6,248.1 131.6,251.8 132.7,256.7 133.8,262.4 134.9,268.4 136.0,274.0 137.1,278.8 138.1,282.9 139.2,286.6" stroke="#e4ff00" stroke-opacity="0.22" stroke-width="0.7"/>
<path d="M63.3,281.6 64.4,274.8 65.5,269.0 66.6,264.1 67.7,260.0 68.8,256.2 69.8,252.4 70.9,248.4 72.0,244.8 73.1,242.1 74.2,241.8 75.3,245.3 76.4,252.2 77.4,261.9 78.5,265.3 79.6,264.6 80.7,263.0 81.8,260.4 82.9,256.8 83.9,252.7 85.0,248.7 86.1,245.5 87.2,243.2 88.3,241.8 89.4,240.9 90.4,239.8 91.5,238.1 92.6,235.6 93.7,232.4 94.8,229.2 95.9,226.3 96.9,224.4 98.0,223.6 99.1,223.5 100.2,223.6 101.3,223.2 102.4,221.8 103.5,219.3 104.5,216.0 105.6,212.4 106.7,209.2 107.8,207.0 108.9,206.2 110.0,206.6 111.0,207.3 112.1,207.8 113.2,207.5 114.3,206.5 115.4,205.0 116.5,203.8 117.5,204.1 118.6,206.1 119.7,209.6 120.8,214.3 121.9,219.3 123.0,224.0 124.0,227.7 125.1,230.5 126.2,232.7 127.3,234.7 128.4,237.2 129.5,240.6 130.6,244.9 131.6,249.9 132.7,255.0 133.8,259.5 134.9,263.3 136.0,266.2 137.1,268.6 138.1,271.2 139.2,274.4 140.3,278.7 141.4,283.8 142.5,289.3" stroke="#ceff00" stroke-opacity="0.22" stroke-width="0.7"/>
<path d="M66.6,282.6 67.7,275.0 68.8,267.9 69.8,261.6 70.9,256.5 72.0,252.5 73.1,249.5 74.2,247.4 75.3,246.3 76.4,247.2 77.4,250.5 78.5,256.2 79.6,264.2 80.7,263.7 81.8,261.9 82.9,260.6 83.9,259.2 85.0,257.5 86.1,255.3 87.2,252.6 88.3,250.0 89.4,247.8 90.4,246.2 91.5,245.1 92.6,244.1 93.7,242.6 94.8,240.3 95.9,236.8 96.9,232.6 98.0,227.9 99.1,223.5 100.2,219.7 101.3,216.8 102.4,214.7 103.5,212.9 104.5,211.1 105.6,209.1 106.7,207.0 107.8,205.3 108.9,204.3 110.0,204.6 111.0,206.1 112.1,208.3 113.2,210.5 114.3,212.3 115.4,213.1 116.5,212.9 117.5,212.1 118.6,211.7 119.7,212.2 120.8,213.7 121.9,216.2 123.0,219.3 124.0,222.5 125.1,225.4 126.2,227.8 127.3,230.0 128.4,232.4 129.5,235.5 130.6,239.6 131.6,244.7 132.7,250.5 133.8,256.5 134.9,262.2 136.0,267.1 137.1,271.2 138.1,274.8 139.2,278.4 140.3,282.3 141.4,286.7" stroke="#b8ff00" stroke-opacity="0.22" stroke-width="0.7"/>
<path d="M63.3,281.3 64.4,273.3 65.5,266.9 66.6,262.4 67.7,259.4 68.8,257.0 69.8,254.5 70.9,251.4 72.0,248.0 73.1,245.2 74.2,244.2 75.3,246.8 76.4,252.9 77.4,261.5 78.5,271.6 79.6,273.1 80.7,269.5 81.8,265.3 82.9,261.0 83.9,257.5 85.0,255.1 86.1,253.8 87.2,252.7 88.3,251.1 89.4,248.2 90.4,244.0 91.5,239.0 92.6,234.2 93.7,230.5 94.8,228.6 95.9,228.2 96.9,228.7 98.0,228.9 99.1,227.9 100.2,225.5 101.3,222.0 102.4,218.1 103.5,214.8 104.5,212.7 105.6,211.7 106.7,211.3 107.8,211.1 108.9,210.4 110.0,209.3 111.0,207.8 112.1,206.4 113.2,205.9 114.3,206.5 115.4,207.7 116.5,208.8 117.5,209.6 118.6,209.9 119.7,209.7 120.8,209.8 121.9,211.0 123.0,213.9 124.0,218.7 125.1,224.9 126.2,231.4 127.3,237.2 128.4,241.5 129.5,244.4 130.6,246.4 131.6,248.5 132.7,251.5 133.8,255.7 134.9,260.8 136.0,266.2 137.1,271.0 138.1,274.8 139.2,277.7 140.3,280.2 141.4,283.0 142.5,286.7" stroke="#a3ff00" stroke-opacity="0.22" stroke-width="0.7"/>
<path d="M67.7,282.7 68.8,278.4 69.8,274.3 70.9,270.0 72.0,265.4 73.1,260.9 74.2,257.3 75.3,255.5 76.4,257.1 77.4,262.4 78.5,271.0 79.6,281.7 80.7,288.5 M82.9,285.0 83.9,282.5 85.0,279.8 86.1,277.0 87.2,274.3 88.3,271.5 89.4,268.4 90.4,264.7 91.5,260.3 92.6,255.6 93.7,250.9 94.8,246.8 95.9,243.7 96.9,241.5 98.0,240.0 99.1,238.7 100.2,236.8 101.3,233.9 102.4,230.0 103.5,225.5 104.5,220.8 105.6,216.4 106.7,212.9 107.8,210.2 108.9,208.3 110.0,207.0 111.0,206.3 112.1,206.2 113.2,207.1 114.3,209.2 115.4,212.3 116.5,216.3 117.5,220.7 118.6,224.9 119.7,228.4 120.8,229.7 121.9,226.0 123.0,222.1 124.0,218.5 125.1,215.9 126.2,214.4 127.3,213.8 128.4,213.9 129.5,213.9 130.6,213.7 131.6,213.2 132.7,212.7 133.8,213.4 134.9,215.7 136.0,219.3 137.1,223.9 138.1,229.0 139.2,234.2 140.3,239.3 141.4,244.5 142.5,250.1 143.6,256.5 144.6,263.9 145.7,272.2 146.8,275.3 147.9,265.3 149.0,256.0 150.1,247.8 151.1,242.0 152.2,240.0 153.3,242.5 154.4,249.2 155.5,259.0 156.6,271.3 157.7,285.0 158.7,289.3" stroke="#8dff00" stroke-opacity="0.22" stroke-width="0.7"/>
<path d="M64.4,284.9 65.5,280.4 66.6,274.5 67.7,267.4 68.8,260.1 69.8,253.9 70.9,250.4 72.0,250.3 73.1,254.6 74.2,262.7 75.3,272.9 76.4,283.6 77.4,289.3 M79.6,284.8 80.7,279.1 81.8,274.3 82.9,270.8 83.9,268.7 85.0,267.5 86.1,266.6 87.2,265.3 88.3,263.3 89.4,260.4 90.4,256.8 91.5,252.6 92.6,248.0 93.7,243.5 94.8,239.3 95.9,235.7 96.9,233.0 98.0,231.4 99.1,230.6 100.2,230.2 101.3,229.3 102.4,227.2 103.5,223.5 104.5,218.5 105.6,212.7 106.7,207.5 107.8,204.1 108.9,203.3 110.0,205.1 111.0,208.8 112.1,213.3 113.2,217.0 114.3,219.0 115.4,219.1 116.5,218.0 117.5,217.1 118.6,217.6 119.7,220.3 120.8,220.1 121.9,221.1 123.0,222.4 124.0,222.8 125.1,221.6 126.2,218.6 127.3,214.4 128.4,209.9 129.5,206.0 130.6,203.6 131.6,203.1 132.7,205.4 133.8,210.4 134.9,217.4 136.0,225.3 137.1,233.3 138.1,240.9 139.2,247.7 140.3,253.6 141.4,259.0 142.5,264.4 143.6,270.5 144.6,278.0 145.7,287.4 M146.8,281.4 147.9,273.1 149.0,265.7 150.1,258.9 151.1,253.1 152.2,249.5 153.3,249.1 154.4,252.4 155.5,259.8 156.6,271.1 157.7,285.9" stroke="#77ff00" stroke-opacity="0.22" stroke-width="0.7"/>
<path d="M64.4,283.2 65.5,279.6 66.6,275.9 67.7,271.5 68.8,266.3 69.8,261.0 70.9,257.0 72.0,255.4 73.1,258.2 74.2,265.5 75.3,276.2 76.4,288.5 M82.9,284.2 83.9,279.9 85.0,277.4 86.1,276.1 87.2,275.1 88.3,273.3 89.4,270.1 90.4,265.6 91.5,260.4 92.6,255.5 93.7,251.8 94.8,249.7 95.9,248.9 96.9,248.6 98.0,247.6 99.1,244.9 100.2,240.3 101.3,234.0 102.4,227.1 103.5,220.9 104.5,216.3 105.6,213.8 106.7,213.2 107.8,213.6 108.9,214.0 110.0,213.6 111.0,212.2 112.1,210.5 113.2,209.3 114.3,209.5 115.4,211.5 116.5,215.3 117.5,220.3 118.6,225.2 119.7,229.1 120.8,231.4 121.9,228.1 123.0,222.0 124.0,216.2 125.1,211.8 126.2,209.4 127.3,209.2 128.4,210.3 129.5,211.9 130.6,212.8 131.6,212.7 132.7,211.7 133.8,211.6 134.9,213.0 136.0,216.5 137.1,222.2 138.1,229.7 139.2,237.9 140.3,245.9 141.4,252.8 142.5,258.3 143.6,262.7 144.6,267.1 145.7,272.4 146.8,279.5 147.9,279.7 149.0,272.3 150.1,267.4 151.1,265.0 152.2,265.3 153.3,268.2 154.4,273.2 155.5,280.3 156.6,289.3" stroke="#62ff00" stroke-opacity="0.42" stroke-width="0.9"/>
<path d="M67.7,279.3 68.8,272.4 69.8,266.3 70.9,262.2 72.0,261.0 73.1,263.9 74.2,270.2 75.3,279.0 76.4,288.8 M80.7,284.2 81.8,280.5 82.9,277.8 83.9,275.8 85.0,274.1 86.1,271.8 87.2,268.4 88.3,263.9 89.4,258.4 90.4,252.8 91.5,247.9 92.6,244.4 93.7,242.4 94.8,241.6 95.9,241.4 96.9,240.9 98.0,239.5 99.1,237.0 100.2,233.6 101.3,229.8 102.4,226.4 103.5,223.7 104.5,221.7 105.6,220.1 106.7,218.4 107.8,216.1 108.9,213.1 110.0,209.9 111.0,207.2 112.1,205.8 113.2,206.5 114.3,209.1 115.4,213.2 116.5,218.2 117.5,223.0 118.6,226.9 119.7,228.1 120.8,224.2 121.9,219.8 123.0,215.7 124.0,212.6 125.1,210.7 126.2,209.8 127.3,209.3 128.4,208.9 129.5,208.1 130.6,207.3 131.6,207.5 132.7,210.5 133.8,216.4 134.9,224.8 136.0,235.0 137.1,246.1 138.1,257.1 139.2,267.2 140.3,275.9 141.4,283.4 142.5,289.3 M145.7,281.8 146.8,271.5 147.9,263.7 149.0,258.9 150.1,257.6 151.1,260.2 152.2,266.0 153.3,274.5 154.4,285.3 155.5,289.3" stroke="#4cff00" stroke-opacity="0.22" stroke-width="0.7"/>
<path d="M69.8,285.2 70.9,278.9 72.0,272.5 73.1,266.9 74.2,263.1 75.3,262.1 76.4,265.1 77.4,272.0 78.5,281.5 79.6,289.3 M85.0,282.8 86.1,277.8 87.2,274.1 88.3,271.7 89.4,270.3 90.4,269.3 91.5,267.9 92.6,265.3 93.7,261.3 94.8,256.2 95.9,250.5 96.9,245.1 98.0,240.5 99.1,237.2 100.2,235.2 101.3,233.8 102.4,232.4 103.5,230.2 104.5,226.8 105.6,222.3 106.7,217.1 107.8,212.1 108.9,208.2 110.0,206.2 111.0,206.3 112.1,208.4 113.2,211.6 114.3,215.0 115.4,218.0 116.5,220.1 117.5,221.5 118.6,222.5 119.7,223.9 120.8,225.0 121.9,222.0 123.0,220.1 124.0,218.9 125.1,217.9 126.2,216.7 127.3,214.9 128.4,212.6 129.5,210.1 130.6,208.0 131.6,207.1 132.7,208.7 133.8,212.9 134.9,219.2 136.0,226.8 137.1,235.0 138.1,243.2 139.2,251.1 140.3,258.6 141.4,265.9 142.5,273.2 143.6,280.7 144.6,288.5 M147.9,274.9 149.0,265.3 150.1,258.3 151.1,254.9 152.2,255.9 153.3,261.0 154.4,269.0 155.5,279.0 156.6,289.3" stroke="#36ff00" stroke-opacity="0.22" stroke-width="0.7"/>
<path d="M65.5,279.8 66.6,271.8 67.7,264.6 68.8,258.8 69.8,255.1 70.9,253.9 72.0,255.6 73.1,260.7 74.2,268.7 75.3,278.5 76.4,289.2 M83.9,285.0 85.0,281.9 86.1,279.1 87.2,276.4 88.3,273.4 89.4,269.8 90.4,265.5 91.5,260.6 92.6,255.2 93.7,249.7 94.8,244.5 95.9,240.1 96.9,236.7 98.0,234.2 99.1,232.7 100.2,231.8 101.3,231.0 102.4,229.8 103.5,228.1 104.5,225.6 105.6,222.3 106.7,218.6 107.8,214.9 108.9,211.8 110.0,209.8 111.0,209.2 112.1,210.2 113.2,212.5 114.3,215.6 115.4,219.0 116.5,222.2 117.5,225.1 118.6,227.4 119.7,229.5 120.8,228.7 121.9,225.1 123.0,222.0 124.0,219.7 125.1,218.3 126.2,217.5 127.3,217.0 128.4,216.6 129.5,215.8 130.6,214.6 131.6,212.9 132.7,211.1 133.8,210.5 134.9,211.3 136.0,213.5 137.1,217.3 138.1,222.4 139.2,228.9 140.3,236.4 141.4,244.5 142.5,252.8 143.6,260.9 144.6,268.5 145.7,266.7 146.8,256.9 147.9,249.6 149.0,246.3 150.1,248.1 151.1,254.6 152.2,264.7 153.3,277.2 154.4,289.3" stroke="#21ff00" stroke-opacity="0.22" stroke-width="0.7"/>
<path d="M64.4,278.9 65.5,271.9 66.6,266.2 67.7,262.0 68.8,259.4 69.8,258.3 70.9,258.6 72.0,260.3 73.1,264.1 74.2,270.0 75.3,277.3 76.4,285.8 M80.7,283.5 81.8,280.4 82.9,277.2 83.9,273.9 85.0,270.3 86.1,266.4 87.2,262.2 88.3,258.1 89.4,254.4 90.4,251.2 91.5,248.9 92.6,247.3 93.7,246.4 94.8,245.8 95.9,245.1 96.9,243.8 98.0,241.8 99.1,238.7 100.2,234.9 101.3,230.3 102.4,225.6 103.5,221.1 104.5,217.1 105.6,213.9 106.7,211.6 107.8,210.1 108.9,209.2 110.0,208.7 111.0,208.6 112.1,208.8 113.2,209.5 114.3,210.7 115.4,212.4 116.5,214.6 117.5,217.4 118.6,220.7 119.7,224.5 120.8,225.1 121.9,223.6 123.0,221.7 124.0,219.3 125.1,216.5 126.2,213.4 127.3,210.4 128.4,207.8 129.5,206.1 130.6,205.5 131.6,206.1 132.7,209.0 133.8,214.0 134.9,220.4 136.0,227.3 137.1,234.1 138.1,240.7 139.2,246.9 140.3,253.0 141.4,259.3 142.5,266.1 143.6,273.8 144.6,282.3 145.7,289.3 M146.8,284.4 147.9,274.5 149.0,265.8 150.1,259.2 151.1,255.5 152.2,255.9 153.3,260.3 154.4,268.0 155.5,277.9 156.6,289.3" stroke="#0bff00" stroke-opacity="0.22" stroke-width="0.7"/>
<path d="M67.7,278.8 68.8,271.4 69.8,264.7 70.9,259.5 72.0,256.4 73.1,256.0 74.2,258.5 75.3,264.2 76.4,271.9 77.4,280.6 78.5,289.3 M81.8,280.7 82.9,276.8 83.9,274.0 85.0,272.2 86.1,270.9 87.2,269.5 88.3,267.4 89.4,264.6 90.4,261.0 91.5,257.0 92.6,253.2 93.7,250.0 94.8,247.3 95.9,245.0 96.9,242.7 98.0,239.9 99.1,236.6 100.2,232.9 101.3,229.1 102.4,225.7 103.5,223.2 104.5,221.7 105.6,221.0 106.7,220.6 107.8,219.8 108.9,218.1 110.0,215.4 111.0,212.0 112.1,208.8 113.2,206.5 114.3,205.9 115.4,207.2 116.5,210.0 117.5,213.8 118.6,218.0 119.7,222.1 120.8,224.3 121.9,222.3 123.0,220.2 124.0,218.4 125.1,217.1 126.2,216.0 127.3,215.0 128.4,213.7 129.5,211.7 130.6,209.2 131.6,206.6 132.7,205.8 133.8,207.6 134.9,212.3 136.0,219.4 137.1,228.6 138.1,239.0 139.2,249.6 140.3,259.8 141.4,269.0 142.5,277.2 143.6,284.8 144.6,288.6 M145.7,276.5 146.8,266.6 147.9,259.9 149.0,257.2 150.1,258.9 151.1,264.2 152.2,272.1 153.3,281.9 154.4,289.3" stroke="#00ff0b" stroke-opacity="0.22" stroke-width="0.7"/>
<path d="M66.6,280.4 67.7,277.4 68.8,275.8 69.8,274.4 70.9,272.6 72.0,270.4 73.1,268.4 74.2,268.9 75.3,273.0 76.4,280.6 77.4,289.3 M95.9,282.7 96.9,277.3 98.0,273.4 99.1,270.8 100.2,268.6 101.3,265.9 102.4,262.1 103.5,257.1 104.5,251.6 105.6,246.2 106.7,241.7 107.8,238.5 108.9,236.3 110.0,234.6 111.0,232.7 112.1,230.1 113.2,226.6 114.3,222.8 115.4,219.6 116.5,217.8 117.5,217.9 118.6,219.9 119.7,223.5 120.8,227.9 121.9,229.5 123.0,228.2 124.0,226.4 125.1,223.9 126.2,221.0 127.3,217.8 128.4,214.6 129.5,211.6 130.6,209.0 131.6,207.1 132.7,206.2 133.8,206.5 134.9,208.4 136.0,211.7 137.1,215.8 138.1,220.1 139.2,224.4 140.3,228.8 141.4,233.4 142.5,238.4 143.6,243.9 144.6,249.7 145.7,255.5 146.8,260.9 147.9,262.2 149.0,251.0 150.1,241.9 151.1,236.6 152.2,236.7 153.3,242.5 154.4,252.9 155.5,266.2 156.6,280.8 157.7,289.3" stroke="#00ff21" stroke-opacity="0.22" stroke-width="0.7"/>
<path d="M69.8,280.8 70.9,276.4 72.0,273.7 73.1,273.0 74.2,275.1 75.3,280.0 76.4,287.3 M95.9,283.7 96.9,278.8 98.0,274.1 99.1,269.7 100.2,265.5 101.3,261.8 102.4,258.4 103.5,255.4 104.5,252.5 105.6,249.7 106.7,246.8 107.8,243.7 108.9,240.2 110.0,236.2 111.0,231.9 112.1,227.5 113.2,223.2 114.3,219.5 115.4,216.9 116.5,215.7 117.5,216.1 118.6,218.0 119.7,221.3 120.8,225.6 121.9,226.8 123.0,226.5 124.0,226.2 125.1,225.5 126.2,224.2 127.3,222.2 128.4,219.4 129.5,216.0 130.6,212.1 131.6,208.4 132.7,205.2 133.8,203.1 134.9,203.6 136.0,206.5 137.1,211.4 138.1,217.9 139.2,225.5 140.3,233.9 141.4,242.6 142.5,251.2 143.6,259.4 144.6,266.8 145.7,273.4 146.8,264.1 147.9,251.1 149.0,239.2 150.1,229.6 151.1,223.8 152.2,223.1 153.3,227.3 154.4,235.5 155.5,246.7 156.6,259.9 157.7,274.5 158.7,289.3" stroke="#00ff36" stroke-opacity="0.22" stroke-width="0.7"/>
<path d="M69.8,281.0 70.9,277.6 72.0,275.7 73.1,275.2 74.2,276.6 75.3,280.4 76.4,286.1 M91.5,283.8 92.6,281.2 93.7,279.5 94.8,278.5 95.9,277.8 96.9,276.1 98.0,273.4 99.1,270.0 100.2,266.0 101.3,261.7 102.4,257.3 103.5,253.2 104.5,249.4 105.6,245.8 106.7,242.3 107.8,238.8 108.9,235.3 110.0,231.8 111.0,228.7 112.1,226.1 113.2,224.4 114.3,223.6 115.4,223.6 116.5,224.4 117.5,225.6 118.6,227.1 119.7,225.7 120.8,222.1 121.9,218.9 123.0,216.5 124.0,215.2 125.1,214.7 126.2,214.7 127.3,214.7 128.4,214.2 129.5,213.0 130.6,211.1 131.6,209.2 132.7,208.0 133.8,208.8 134.9,211.6 136.0,216.0 137.1,221.5 138.1,227.5 139.2,233.6 140.3,239.3 141.4,244.5 142.5,249.4 143.6,254.0 144.6,258.7 145.7,263.6 146.8,268.7 147.9,258.9 149.0,248.8 150.1,241.1 151.1,237.0 152.2,237.6 153.3,242.7 154.4,251.5 155.5,262.8 156.6,275.7 157.7,289.3" stroke="#00ff4c" stroke-opacity="0.22" stroke-width="0.7"/>
<path d="M69.8,281.5 70.9,277.2 72.0,274.0 73.1,272.3 74.2,273.1 75.3,276.9 76.4,283.3 77.4,289.3 M90.4,282.5 91.5,279.1 92.6,275.9 93.7,273.2 94.8,271.1 95.9,269.4 96.9,268.2 98.0,267.3 99.1,266.4 100.2,265.6 101.3,264.5 102.4,263.2 103.5,261.4 104.5,257.5 105.6,253.3 106.7,249.1 107.8,244.9 108.9,241.0 110.0,237.5 111.0,234.6 112.1,232.3 113.2,230.7 114.3,230.0 115.4,230.1 116.5,231.1 117.5,232.5 118.6,234.1 119.7,231.9 120.8,228.4 121.9,224.7 123.0,220.7 124.0,216.9 125.1,213.3 126.2,210.2 127.3,207.6 128.4,205.8 129.5,204.6 130.6,204.1 131.6,204.3 132.7,205.1 133.8,207.1 134.9,210.6 136.0,215.2 137.1,220.2 138.1,225.4 139.2,230.8 140.3,236.3 141.4,242.0 142.5,248.0 143.6,254.4 144.6,261.1 145.7,268.2 146.8,275.5 147.9,266.2 149.0,257.4 150.1,250.9 151.1,247.7 152.2,248.6 153.3,253.3 154.4,260.8 155.5,269.9 156.6,280.3 157.7,289.3" stroke="#00ff62" stroke-opacity="0.22" stroke-width="0.7"/>
<path d="M69.8,281.8 70.9,276.3 72.0,272.4 73.1,271.1 74.2,273.4 75.3,279.4 76.4,288.3 M93.7,284.4 94.8,280.8 95.9,278.2 96.9,276.9 98.0,276.4 99.1,275.8 100.2,273.3 101.3,269.8 102.4,265.1 103.5,259.3 104.5,253.1 105.6,247.2 106.7,242.2 107.8,238.5 108.9,235.9 110.0,234.0 111.0,232.3 112.1,230.1 113.2,227.4 114.3,224.5 115.4,222.2 116.5,221.3 117.5,222.1 118.6,225.0 119.7,229.2 120.8,229.5 121.9,229.8 123.0,229.2 124.0,227.4 125.1,224.4 126.2,220.5 127.3,216.3 128.4,212.8 129.5,210.3 130.6,209.1 131.6,209.1 132.7,210.0 133.8,211.9 134.9,214.5 136.0,217.2 137.1,219.9 138.1,222.9 139.2,226.9 140.3,232.3 141.4,239.3 142.5,247.4 143.6,256.2 144.6,264.8 145.7,272.5 146.8,264.4 147.9,252.3 149.0,241.4 150.1,233.2 151.1,229.5 152.2,231.5 153.3,238.6 154.4,249.2 155.5,261.5 156.6,274.1 157.7,286.3" stroke="#00ff77" stroke-opacity="0.42" stroke-width="0.9"/>
<path d="M70.9,281.4 72.0,277.2 73.1,275.4 74.2,276.8 75.3,282.2 76.4,289.3 M93.7,285.1 94.8,280.4 95.9,275.8 96.9,271.8 98.0,268.8 99.1,266.5 100.2,264.8 101.3,263.1 102.4,260.9 103.5,257.9 104.5,253.9 105.6,249.1 106.7,244.0 107.8,239.0 108.9,234.6 110.0,231.1 111.0,228.7 112.1,227.1 113.2,226.1 114.3,225.6 115.4,225.5 116.5,225.8 117.5,226.5 118.6,227.8 119.7,229.7 120.8,227.9 121.9,225.8 123.0,224.3 124.0,223.1 125.1,222.0 126.2,220.6 127.3,218.8 128.4,216.6 129.5,214.0 130.6,211.4 131.6,209.1 132.7,207.4 133.8,207.0 134.9,208.3 136.0,211.0 137.1,214.7 138.1,219.0 139.2,223.5 140.3,228.1 141.4,232.9 142.5,237.8 143.6,242.9 144.6,248.2 145.7,253.7 146.8,259.2 147.9,264.8 149.0,258.8 150.1,252.0 151.1,249.0 152.2,250.4 153.3,256.1 154.4,264.9 155.5,275.5 156.6,287.3" stroke="#00ff8d" stroke-opacity="0.22" stroke-width="0.7"/>
<path d="M68.8,279.4 69.8,273.2 70.9,268.8 72.0,266.8 73.1,267.5 74.2,271.5 75.3,278.4 76.4,287.1 M92.6,285.0 93.7,279.9 94.8,275.4 95.9,271.8 96.9,269.1 98.0,266.9 99.1,264.7 100.2,262.0 101.3,258.8 102.4,255.0 103.5,251.2 104.5,247.4 105.6,244.0 106.7,241.0 107.8,238.1 108.9,235.0 110.0,231.7 111.0,228.1 112.1,224.6 113.2,221.7 114.3,219.9 115.4,219.7 116.5,221.0 117.5,223.6 118.6,226.7 119.7,229.5 120.8,230.5 121.9,226.3 123.0,221.7 124.0,217.5 125.1,214.2 126.2,212.4 127.3,212.0 128.4,212.4 129.5,213.0 130.6,213.0 131.6,212.4 132.7,211.1 133.8,210.1 134.9,210.2 136.0,211.7 137.1,214.7 138.1,219.1 139.2,224.8 140.3,231.2 141.4,237.7 142.5,243.9 143.6,249.6 144.6,254.7 145.7,259.2 146.8,263.3 147.9,253.2 149.0,242.3 150.1,234.0 151.1,229.8 152.2,230.8 153.3,236.7 154.4,246.6 155.5,259.0 156.6,272.8 157.7,287.0" stroke="#00ffa3" stroke-opacity="0.22" stroke-width="0.7"/>
<path d="M69.8,281.9 70.9,276.2 72.0,271.5 73.1,268.7 74.2,268.4 75.3,271.3 76.4,277.4 77.4,285.7 M93.7,281.6 94.8,278.0 95.9,275.5 96.9,274.1 98.0,273.3 99.1,271.1 100.2,268.4 101.3,265.2 102.4,261.4 103.5,257.4 104.5,253.5 105.6,249.9 106.7,246.3 107.8,242.4 108.9,237.7 110.0,232.2 111.0,226.1 112.1,220.4 113.2,215.8 114.3,213.3 115.4,213.2 116.5,215.5 117.5,219.4 118.6,223.8 119.7,227.6 120.8,230.3 121.9,226.6 123.0,222.3 124.0,218.4 125.1,215.7 126.2,214.3 127.3,213.9 128.4,213.8 129.5,213.5 130.6,212.5 131.6,211.2 132.7,209.9 133.8,209.7 134.9,211.0 136.0,213.5 137.1,216.6 138.1,220.0 139.2,223.2 140.3,226.1 141.4,229.2 142.5,233.0 143.6,238.0 144.6,244.4 145.7,251.9 146.8,259.8 147.9,266.9 149.0,264.6 150.1,256.8 151.1,251.2 152.2,249.5 153.3,252.3 154.4,259.5 155.5,270.1 156.6,283.2 157.7,289.3" stroke="#00ffb8" stroke-opacity="0.22" stroke-width="0.7"/>
<path d="M67.7,283.1 68.8,278.0 69.8,274.9 70.9,274.3 72.0,276.3 73.1,281.1 74.2,287.6 M98.0,280.8 99.1,274.6 100.2,268.2 101.3,262.4 102.4,257.7 103.5,254.0 104.5,251.0 105.6,248.1 106.7,245.1 107.8,242.0 108.9,239.0 110.0,236.6 111.0,234.9 112.1,233.6 113.2,232.5 114.3,231.1 115.4,229.1 116.5,226.6 117.5,224.5 118.6,223.3 119.7,224.2 120.8,224.2 121.9,224.3 123.0,226.0 124.0,228.0 125.1,228.8 126.2,227.3 127.3,223.3 128.4,217.2 129.5,210.3 130.6,204.4 131.6,200.8 132.7,200.3 133.8,203.0 134.9,208.3 136.0,214.6 137.1,220.5 138.1,225.2 139.2,228.6 140.3,231.2 141.4,233.8 142.5,237.1 143.6,241.4 144.6,246.4 145.7,251.6 146.8,256.7 147.9,256.6 149.0,246.4 150.1,238.9 151.1,235.7 152.2,238.0 153.3,245.2 154.4,255.6 155.5,267.4 156.6,279.2 157.7,289.3" stroke="#00ffce" stroke-opacity="0.22" stroke-width="0.7"/>
<path d="M66.6,285.2 67.7,277.8 68.8,271.8 69.8,267.9 70.9,266.8 72.0,268.6 73.1,273.5 74.2,280.5 75.3,288.9 M90.4,284.8 91.5,284.0 92.6,282.7 93.7,280.4 94.8,276.9 95.9,271.5 96.9,265.9 98.0,261.3 99.1,258.1 100.2,256.6 101.3,256.0 102.4,255.6 103.5,254.1 104.5,251.0 105.6,246.3 106.7,240.7 107.8,235.3 108.9,231.2 110.0,229.1 111.0,228.8 112.1,229.5 113.2,230.2 114.3,229.7 115.4,227.8 116.5,224.9 117.5,222.0 118.6,220.3 119.7,220.8 120.8,222.0 121.9,222.1 123.0,222.9 124.0,223.2 125.1,221.9 126.2,218.6 127.3,213.9 128.4,208.7 129.5,204.4 130.6,202.1 131.6,202.2 132.7,204.4 133.8,208.1 134.9,212.4 136.0,216.2 137.1,218.9 138.1,220.8 139.2,222.8 140.3,225.6 141.4,230.0 142.5,235.9 143.6,242.7 144.6,249.5 145.7,255.6 146.8,260.3 147.9,263.8 149.0,260.6 150.1,251.7 151.1,247.1 152.2,248.0 153.3,254.0 154.4,263.3 155.5,274.4 156.6,286.2" stroke="#00ffe4" stroke-opacity="0.22" stroke-width="0.7"/>
<path d="M70.9,282.1 72.0,278.9 73.1,277.5 74.2,278.1 75.3,280.8 76.4,285.5 M95.9,284.4 96.9,281.8 98.0,278.5 99.1,274.5 100.2,270.1 101.3,265.6 102.4,261.3 103.5,257.4 104.5,253.8 105.6,250.6 106.7,247.3 107.8,243.7 108.9,239.9 110.0,235.8 111.0,231.8 112.1,228.4 113.2,225.9 114.3,224.8 115.4,225.2 116.5,227.1 117.5,230.1 118.6,233.5 119.7,232.3 120.8,230.2 121.9,227.8 123.0,225.1 124.0,222.6 125.1,220.4 126.2,218.6 127.3,217.1 128.4,215.6 129.5,214.0 130.6,212.1 131.6,210.2 132.7,208.6 133.8,208.1 134.9,208.8 136.0,210.7 137.1,213.6 138.1,217.4 139.2,221.8 140.3,226.3 141.4,230.8 142.5,234.9 143.6,238.8 144.6,242.7 145.7,246.7 146.8,251.3 147.9,252.4 149.0,244.0 150.1,238.4 151.1,236.3 152.2,238.3 153.3,243.8 154.4,251.8 155.5,261.3 156.6,272.0 157.7,283.6 158.7,289.3" stroke="#00fffa" stroke-opacity="0.22" stroke-width="0.7"/>
<path d="M69.8,284.8 70.9,277.3 72.0,270.6 73.1,265.6 74.2,263.5 75.3,265.3 76.4,271.2 77.4,280.3 78.5,289.3 M99.1,283.5 100.2,281.3 101.3,278.1 102.4,273.2 103.5,267.0 104.5,260.0 105.6,253.2 106.7,247.3 107.8,242.8 108.9,239.6 110.0,237.0 111.0,234.7 112.1,232.2 113.2,229.6 114.3,227.4 115.4,226.2 116.5,226.2 117.5,227.5 118.6,229.6 119.7,232.3 120.8,231.3 121.9,228.4 123.0,225.6 124.0,223.3 125.1,221.6 126.2,220.5 127.3,219.5 128.4,218.0 129.5,215.6 130.6,212.4 131.6,208.7 132.7,205.7 133.8,204.6 134.9,206.7 136.0,211.4 137.1,218.0 138.1,225.2 139.2,231.7 140.3,236.7 141.4,240.1 142.5,242.5 143.6,244.9 144.6,248.6 145.7,254.3 146.8,262.0 147.9,265.1 149.0,258.8 150.1,253.9 151.1,251.0 152.2,250.8 153.3,253.8 154.4,260.0 155.5,269.1 156.6,281.0 157.7,289.3" stroke="#00efff" stroke-opacity="0.22" stroke-width="0.7"/>
<path d="M70.9,281.5 72.0,277.3 73.1,274.3 74.2,273.2 75.3,274.8 76.4,279.6 77.4,287.1 M90.4,282.8 91.5,278.0 92.6,273.8 93.7,270.5 94.8,268.3 95.9,267.2 96.9,267.1 98.0,267.6 99.1,268.3 100.2,268.8 101.3,268.7 102.4,267.7 103.5,265.7 104.5,262.4 105.6,256.9 106.7,251.0 107.8,245.0 108.9,239.3 110.0,234.2 111.0,230.0 112.1,226.7 113.2,224.4 114.3,223.2 115.4,223.2 116.5,224.2 117.5,226.1 118.6,228.7 119.7,227.3 120.8,225.4 121.9,223.5 123.0,221.6 124.0,219.9 125.1,218.3 126.2,216.9 127.3,215.5 128.4,214.1 129.5,212.5 130.6,210.9 131.6,209.2 132.7,207.9 133.8,207.8 134.9,208.8 136.0,210.9 137.1,214.0 138.1,218.2 139.2,223.4 140.3,229.6 141.4,236.6 142.5,244.0 143.6,251.4 144.6,258.4 145.7,264.6 146.8,269.9 147.9,262.1 149.0,250.7 150.1,241.1 151.1,234.9 152.2,233.4 153.3,236.6 154.4,243.7 155.5,253.9 156.6,266.4 157.7,280.5 158.7,289.3" stroke="#00d9ff" stroke-opacity="0.22" stroke-width="0.7"/>
<path d="M70.9,282.1 72.0,275.3 73.1,270.5 74.2,268.9 75.3,271.7 76.4,278.7 77.4,288.6 M94.8,282.3 95.9,280.6 96.9,280.0 98.0,279.3 99.1,277.2 100.2,273.3 101.3,267.8 102.4,261.6 103.5,256.1 104.5,252.2 105.6,249.9 106.7,248.6 107.8,247.2 108.9,244.6 110.0,240.1 111.0,234.3 112.1,228.0 113.2,222.8 114.3,219.7 115.4,219.4 116.5,221.5 117.5,224.9 118.6,228.3 119.7,230.9 120.8,229.1 121.9,224.6 123.0,220.6 124.0,218.0 125.1,217.1 126.2,217.4 127.3,218.0 128.4,217.8 129.5,216.1 130.6,213.1 131.6,209.6 132.7,207.0 133.8,206.6 134.9,208.6 136.0,212.5 137.1,217.2 138.1,221.6 139.2,224.9 140.3,227.1 141.4,228.7 142.5,230.6 143.6,233.6 144.6,238.2 145.7,244.1 146.8,250.5 147.9,256.5 149.0,249.8 150.1,242.4 151.1,237.9 152.2,237.8 153.3,242.6 154.4,251.6 155.5,263.3 156.6,276.5 157.7,289.3" stroke="#00c3ff" stroke-opacity="0.22" stroke-width="0.7"/>
<path d="M70.9,285.1 72.0,279.9 73.1,276.7 74.2,275.9 75.3,278.1 76.4,283.4 77.4,289.3 M91.5,284.8 92.6,282.7 93.7,281.0 94.8,279.8 95.9,278.7 96.9,277.5 98.0,276.0 99.1,274.1 100.2,271.5 101.3,268.3 102.4,264.7 103.5,259.6 104.5,254.7 105.6,250.3 106.7,246.6 107.8,243.6 108.9,241.5 110.0,239.9 111.0,238.6 112.1,237.4 113.2,236.1 114.3,234.7 115.4,233.4 116.5,232.4 117.5,232.1 118.6,228.1 119.7,224.4 120.8,221.4 121.9,219.4 123.0,218.2 124.0,217.8 125.1,217.8 126.2,217.8 127.3,217.3 128.4,216.0 129.5,214.0 130.6,211.4 131.6,208.6 132.7,206.5 133.8,205.9 134.9,207.2 136.0,210.2 137.1,214.7 138.1,220.5 139.2,227.1 140.3,233.8 141.4,240.2 142.5,245.8 143.6,250.3 144.6,253.7 145.7,256.2 146.8,258.3 147.9,249.4 149.0,237.9 150.1,230.0 151.1,227.0 152.2,229.8 153.3,237.6 154.4,248.8 155.5,261.7 156.6,275.0 157.7,288.1" stroke="#00aeff" stroke-opacity="0.22" stroke-width="0.7"/>
<path d="M72.0,283.5 73.1,282.6 74.2,282.6 75.3,283.6 76.4,286.1 M95.9,283.4 96.9,277.5 98.0,272.3 99.1,268.7 100.2,266.7 101.3,265.6 102.4,264.5 103.5,262.4 104.5,258.8 105.6,253.9 106.7,248.5 107.8,243.6 108.9,239.8 110.0,237.2 111.0,235.4 112.1,233.5 113.2,231.0 114.3,227.7 115.4,224.4 116.5,222.0 117.5,221.6 118.6,223.7 119.7,225.9 120.8,226.2 121.9,226.4 123.0,225.5 124.0,222.9 125.1,219.0 126.2,214.5 127.3,210.7 128.4,208.3 129.5,207.7 130.6,208.4 131.6,209.8 132.7,211.4 133.8,213.0 134.9,214.7 136.0,216.8 137.1,219.8 138.1,224.2 139.2,230.0 140.3,236.3 141.4,242.4 142.5,247.1 143.6,250.2 144.6,252.1 145.7,253.6 146.8,255.8 147.9,243.6 149.0,234.8 150.1,229.7 151.1,228.6 152.2,231.2 153.3,236.7 154.4,244.0 155.5,252.8 156.6,263.2 157.7,275.6 158.7,289.3" stroke="#0098ff" stroke-opacity="0.22" stroke-width="0.7"/>
<path d="M67.7,282.8 68.8,279.9 69.8,277.7 70.9,275.6 72.0,273.9 73.1,273.6 74.2,275.7 75.3,280.7 76.4,289.1 M92.6,285.1 93.7,281.1 94.8,276.2 95.9,271.4 96.9,267.7 98.0,265.8 99.1,265.5 100.2,266.3 101.3,267.2 102.4,267.0 103.5,265.3 104.5,262.1 105.6,256.7 106.7,251.0 107.8,246.1 108.9,242.4 110.0,240.0 111.0,238.4 112.1,237.1 113.2,235.6 114.3,233.8 115.4,232.1 116.5,231.0 117.5,229.8 118.6,227.2 119.7,225.5 120.8,224.8 121.9,224.6 123.0,224.3 124.0,223.5 125.1,221.9 126.2,219.5 127.3,216.5 128.4,213.4 129.5,210.4 130.6,208.0 131.6,206.5 132.7,205.9 133.8,206.5 134.9,208.4 136.0,211.2 137.1,214.4 138.1,217.8 139.2,221.1 140.3,224.4 141.4,227.9 142.5,231.7 143.6,236.0 144.6,240.8 145.7,246.0 146.8,251.2 147.9,255.9 149.0,257.4 150.1,249.2 151.1,244.0 152.2,243.1 153.3,246.8 154.4,254.4 155.5,265.4 156.6,278.6 157.7,288.7" stroke="#0082ff" stroke-opacity="0.22" stroke-width="0.7"/>
<path d="M96.9,284.4 98.0,280.5 99.1,277.2 100.2,274.6 101.3,272.9 102.4,271.7 103.5,270.7 104.5,268.0 105.6,264.8 106.7,260.7 107.8,255.7 108.9,250.2 110.0,244.5 111.0,239.3 112.1,235.0 113.2,232.1 114.3,230.9 115.4,231.2 116.5,233.0 117.5,236.8 118.6,236.9 119.7,234.5 120.8,231.3 121.9,227.4 123.0,223.5 124.0,219.8 125.1,217.0 126.2,215.2 127.3,214.4 128.4,214.3 129.5,214.6 130.6,214.9 131.6,214.9 132.7,214.6 133.8,214.2 134.9,214.1 136.0,214.3 137.1,215.2 138.1,217.0 139.2,219.8 140.3,223.5 141.4,227.8 142.5,232.2 143.6,236.2 144.6,239.5 145.7,241.9 146.8,233.7 147.9,223.9 149.0,215.0 150.1,208.1 151.1,204.3 152.2,204.7 153.3,211.3 154.4,222.8 155.5,237.4 156.6,253.5 157.7,270.1 158.7,274.5 159.8,276.5 160.9,278.2" stroke="#006dff" stroke-opacity="0.22" stroke-width="0.7"/>
<path d="M91.5,283.7 92.6,280.8 93.7,277.9 94.8,275.1 95.9,272.5 96.9,270.3 98.0,268.4 99.1,266.7 100.2,265.4 101.3,264.2 102.4,263.1 103.5,261.9 104.5,260.5 105.6,258.8 106.7,255.3 107.8,251.6 108.9,247.6 110.0,243.6 111.0,239.5 112.1,235.8 113.2,232.5 114.3,229.9 115.4,228.4 116.5,228.4 117.5,230.7 118.6,229.1 119.7,227.6 120.8,226.2 121.9,224.9 123.0,223.5 124.0,222.0 125.1,220.4 126.2,218.7 127.3,217.0 128.4,215.2 129.5,213.6 130.6,212.2 131.6,211.3 132.7,211.1 133.8,211.7 134.9,213.3 136.0,215.5 137.1,218.0 138.1,220.6 139.2,223.2 140.3,225.6 141.4,227.9 142.5,229.9 143.6,231.6 144.6,233.2 145.7,234.7 146.8,228.0 147.9,219.1 149.0,211.4 150.1,205.7 151.1,202.8 152.2,203.8 153.3,210.7 154.4,222.4 155.5,237.3 156.6,254.2 157.7,270.9 158.7,275.2 159.8,279.1 160.9,282.6" stroke="#0057ff" stroke-opacity="0.42" stroke-width="0.9"/>
<path d="M90.4,281.1 91.5,277.1 92.6,273.8 93.7,271.5 94.8,270.4 95.9,270.2 96.9,270.5 98.0,270.8 99.1,270.6 100.2,269.5 101.3,267.3 102.4,264.1 103.5,260.3 104.5,256.3 105.6,252.8 106.7,250.1 107.8,248.4 108.9,247.6 110.0,247.4 111.0,246.8 112.1,245.8 113.2,244.1 114.3,241.9 115.4,238.6 116.5,234.2 117.5,229.6 118.6,225.5 119.7,222.4 120.8,220.5 121.9,219.8 123.0,220.1 124.0,220.9 125.1,221.5 126.2,221.4 127.3,220.2 128.4,217.9 129.5,214.8 130.6,211.4 131.6,208.5 132.7,206.8 133.8,206.9 134.9,208.9 136.0,212.4 137.1,216.7 138.1,221.1 139.2,224.9 140.3,227.6 141.4,229.2 142.5,229.7 143.6,229.7 144.6,229.7 145.7,230.4 146.8,224.5 147.9,217.1 149.0,211.9 150.1,209.2 151.1,209.0 152.2,211.8 153.3,219.0 154.4,229.4 155.5,241.6 156.6,254.7 157.7,267.1 158.7,268.0 159.8,269.7 160.9,272.6" stroke="#0041ff" stroke-opacity="0.22" stroke-width="0.7"/>
<path d="M99.1,282.9 100.2,278.5 101.3,274.7 102.4,270.2 103.5,266.3 104.5,262.5 105.6,258.5 106.7,254.1 107.8,249.3 108.9,244.4 110.0,239.9 111.0,236.3 112.1,234.1 113.2,233.3 114.3,234.0 115.4,236.0 116.5,238.8 117.5,242.9 118.6,244.7 119.7,241.3 120.8,236.9 121.9,231.9 123.0,227.1 124.0,222.9 125.1,219.7 126.2,217.4 127.3,215.8 128.4,214.5 129.5,213.2 130.6,211.6 131.6,210.0 132.7,208.7 133.8,208.4 134.9,209.6 136.0,212.2 137.1,216.1 138.1,220.9 139.2,226.0 140.3,230.8 141.4,234.7 142.5,237.6 143.6,239.3 144.6,240.3 145.7,240.0 146.8,229.5 147.9,220.5 149.0,213.5 150.1,208.9 151.1,207.1 152.2,208.7 153.3,215.1 154.4,225.3 155.5,237.6 156.6,251.4 157.7,266.2 158.7,274.9 159.8,278.0 160.9,282.1" stroke="#002bff" stroke-opacity="0.22" stroke-width="0.7"/>
<path d="M92.6,285.0 93.7,283.4 94.8,282.0 95.9,280.4 96.9,278.4 98.0,276.0 99.1,272.9 100.2,269.2 101.3,264.9 102.4,260.2 103.5,255.2 104.5,250.2 105.6,245.5 106.7,241.1 107.8,237.3 108.9,234.2 110.0,231.8 111.0,230.0 112.1,228.8 113.2,228.0 114.3,227.8 115.4,228.1 116.5,229.1 117.5,231.9 118.6,236.3 119.7,237.8 120.8,235.0 121.9,232.2 123.0,229.4 124.0,226.7 125.1,224.4 126.2,222.3 127.3,220.4 128.4,218.8 129.5,217.4 130.6,216.1 131.6,215.1 132.7,214.4 133.8,214.3 134.9,214.7 136.0,215.5 137.1,216.6 138.1,218.0 139.2,219.8 140.3,222.1 141.4,224.9 142.5,228.2 143.6,232.0 144.6,236.2 145.7,240.4 146.8,233.4 147.9,226.7 149.0,220.6 150.1,215.5 151.1,212.2 152.2,211.8 153.3,216.4 154.4,225.3 155.5,237.1 156.6,250.9 157.7,266.2 158.7,270.6 159.8,273.5 160.9,276.9" stroke="#0016ff" stroke-opacity="0.22" stroke-width="0.7"/>
<path d="M99.1,281.7 100.2,275.4 101.3,269.1 102.4,263.2 103.5,258.5 104.5,255.1 105.6,252.8 106.7,251.0 107.8,249.1 108.9,246.7 110.0,243.7 111.0,240.2 112.1,236.8 113.2,234.1 114.3,232.4 115.4,231.8 116.5,232.4 117.5,234.8 118.6,238.4 119.7,235.8 120.8,232.1 121.9,228.7 123.0,226.2 124.0,224.5 125.1,223.5 126.2,222.5 127.3,221.0 128.4,218.7 129.5,215.7 130.6,212.5 131.6,209.8 132.7,208.4 133.8,208.6 134.9,210.4 136.0,213.0 137.1,215.9 138.1,218.7 139.2,221.4 140.3,224.0 141.4,227.1 142.5,230.7 143.6,234.8 144.6,239.1 145.7,243.0 146.8,237.3 147.9,228.4 149.0,219.3 150.1,211.3 151.1,205.7 152.2,204.2 153.3,209.1 154.4,219.4 155.5,233.3 156.6,249.1 157.7,263.7 158.7,266.8 159.8,270.0 160.9,273.5" stroke="#0000ff" stroke-opacity="0.22" stroke-width="0.7"/>
</g>
<g font-family="Liberation Sans, sans-serif" font-size="6.6" fill="#222">
<text x="44.1" y="287.2" text-anchor="middle" textLength="17.8" lengthAdjust="spacingAndGlyphs">−400</text>
<text x="73.3" y="287.2" text-anchor="middle" textLength="17.8" lengthAdjust="spacingAndGlyphs">−200</text>
<text x="100.2" y="287.2" text-anchor="middle" textLength="3.7" lengthAdjust="spacingAndGlyphs">0</text>
<text x="127.2" y="287.2" text-anchor="middle" textLength="10.6" lengthAdjust="spacingAndGlyphs">200</text>
<text x="152.6" y="287.2" text-anchor="middle" textLength="10.6" lengthAdjust="spacingAndGlyphs" clip-path="url(#tpclip)">400</text>
<text x="29.0" y="210.1" text-anchor="end" textLength="10.8" lengthAdjust="spacingAndGlyphs">1.0</text>
<text x="29.0" y="284.9" text-anchor="end" textLength="10.8" lengthAdjust="spacingAndGlyphs">0.8</text>
</g>
<text x="86.4" y="147.6" text-anchor="middle" font-family="Liberation Sans, sans-serif" font-weight="bold" font-size="16" fill="#0000ee">TP</text>
<path d="M184.5,160.0 V281.2 H321.6 V160.0" fill="none" stroke="#e6e6e6" stroke-width="0.9"/>
<path d="M184.5,160.0 H321.6" fill="none" stroke="#e6e6e6" stroke-width="0.9"/>
<g clip-path="url(#pc1)" fill="none" stroke-width="0.6" stroke-linejoin="round">
<path d="M237.1,284.4 238.2,278.7 239.3,273.4 240.4,268.4 241.5,263.7 242.6,259.0 243.6,254.3 244.7,249.3 245.8,244.1 246.9,238.8 248.0,233.5 249.1,228.5 250.1,224.0 251.2,220.1 252.3,217.1 253.4,214.9 254.5,213.5 255.6,213.2 256.7,213.1 257.7,212.7 258.8,212.0 259.9,211.3 261.0,211.1 262.1,212.0 263.2,213.8 264.2,216.4 265.3,219.5 266.4,222.9 267.5,226.2 268.6,229.4 269.7,232.5 270.7,235.4 271.8,238.4 272.9,241.6 274.0,245.2 275.1,249.0 276.2,253.1 277.2,257.3 278.3,261.3 279.4,264.9 280.5,268.2 281.6,271.2 282.7,273.9 283.8,276.6 284.8,279.5 285.9,282.7 287.0,286.1" stroke="#ff0000" stroke-opacity="0.22" stroke-width="0.7"/>
<path d="M237.1,284.0 238.2,280.1 239.3,276.3 240.4,272.3 241.5,267.9 242.6,263.0 243.6,257.7 244.7,252.3 245.8,247.0 246.9,242.0 248.0,237.3 249.1,232.8 250.1,228.6 251.2,224.6 252.3,220.7 253.4,217.1 254.5,214.2 255.6,212.3 256.7,211.5 257.7,211.8 258.8,212.3 259.9,212.7 261.0,212.9 262.1,212.8 263.2,212.6 264.2,212.7 265.3,213.6 266.4,215.5 267.5,218.2 268.6,221.2 269.7,224.3 270.7,227.2 271.8,229.7 272.9,231.9 274.0,233.9 275.1,236.0 276.2,238.5 277.2,241.4 278.3,244.8 279.4,248.5 280.5,252.3 281.6,256.0 282.7,259.5 283.8,262.9 284.8,266.3 285.9,269.7 287.0,273.3 288.1,277.0 289.2,280.7 290.3,284.3 291.3,287.7" stroke="#ff1600" stroke-opacity="0.22" stroke-width="0.7"/>
<path d="M237.1,284.7 238.2,280.3 239.3,275.8 240.4,270.9 241.5,265.5 242.6,259.7 243.6,253.8 244.7,248.2 245.8,243.2 246.9,238.8 248.0,234.9 249.1,231.3 250.1,227.8 251.2,224.1 252.3,220.5 253.4,217.3 254.5,214.8 255.6,213.4 256.7,213.3 257.7,213.7 258.8,213.8 259.9,213.5 261.0,213.1 262.1,213.2 263.2,213.8 264.2,215.2 265.3,217.5 266.4,220.8 267.5,224.7 268.6,229.0 269.7,233.1 270.7,236.9 271.8,240.2 272.9,243.2 274.0,246.0 275.1,249.0 276.2,252.2 277.2,255.6 278.3,258.8 279.4,261.9 280.5,264.6 281.6,267.1 282.7,269.7 283.8,272.7 284.8,276.3 285.9,280.5 287.0,285.2" stroke="#ff2b00" stroke-opacity="0.22" stroke-width="0.7"/>
<path d="M237.1,280.2 238.2,274.9 239.3,269.5 240.4,263.9 241.5,258.4 242.6,253.1 243.6,248.1 244.7,243.4 245.8,239.0 246.9,234.9 248.0,230.7 249.1,226.6 250.1,222.4 251.2,218.3 252.3,214.6 253.4,211.8 254.5,210.4 255.6,210.2 256.7,210.6 257.7,211.5 258.8,212.7 259.9,214.0 261.0,215.0 262.1,215.6 263.2,215.5 264.2,214.9 265.3,213.8 266.4,212.5 267.5,211.5 268.6,211.5 269.7,212.9 270.7,215.3 271.8,218.5 272.9,222.3 274.0,226.2 275.1,230.1 276.2,233.8 277.2,237.2 278.3,240.5 279.4,243.7 280.5,247.1 281.6,250.7 282.7,254.6 283.8,258.7 284.8,262.8 285.9,266.9 287.0,270.8 288.1,274.5 289.2,278.0 290.3,281.5 291.3,285.0 292.4,288.7" stroke="#ff4100" stroke-opacity="0.22" stroke-width="0.7"/>
<path d="M236.1,282.2 237.1,277.6 238.2,273.0 239.3,268.2 240.4,262.9 241.5,257.3 242.6,251.3 243.6,245.3 244.7,239.5 245.8,234.2 246.9,229.5 248.0,225.6 249.1,222.4 250.1,219.9 251.2,217.8 252.3,216.2 253.4,215.1 254.5,214.6 255.6,214.3 256.7,213.7 257.7,213.1 258.8,212.7 259.9,212.6 261.0,212.7 262.1,213.1 263.2,213.6 264.2,214.1 265.3,215.1 266.4,216.5 267.5,218.0 268.6,219.9 269.7,222.0 270.7,224.5 271.8,227.4 272.9,230.6 274.0,233.9 275.1,237.2 276.2,240.3 277.2,243.0 278.3,245.4 279.4,247.5 280.5,249.6 281.6,251.9 282.7,254.7 283.8,257.9 284.8,261.8 285.9,266.0 287.0,270.4 288.1,274.7 289.2,278.7 290.3,282.3 291.3,285.3" stroke="#ff5700" stroke-opacity="0.42" stroke-width="0.9"/>
<path d="M241.5,282.4 242.6,276.3 243.6,270.9 244.7,265.9 245.8,260.8 246.9,255.4 248.0,249.4 249.1,243.2 250.1,237.1 251.2,231.6 252.3,226.8 253.4,223.0 254.5,219.8 255.6,217.1 256.7,214.8 257.7,213.2 258.8,212.2 259.9,211.4 261.0,211.4 262.1,212.7 263.2,215.1 264.2,218.1 265.3,221.1 266.4,223.7 267.5,225.8 268.6,227.6 269.7,229.5 270.7,232.0 271.8,235.2 272.9,239.1 274.0,243.3 275.1,247.2 276.2,250.6 277.2,253.3 278.3,255.5 279.4,257.7 280.5,260.2 281.6,263.4 282.7,267.1 283.8,271.3 284.8,275.3 285.9,279.0 287.0,282.1 288.1,284.7 289.2,287.2" stroke="#ff6d00" stroke-opacity="0.22" stroke-width="0.7"/>
<path d="M233.9,285.0 235.0,279.4 236.1,274.3 237.1,270.1 238.2,266.6 239.3,263.3 240.4,259.9 241.5,255.9 242.6,251.3 243.6,246.1 244.7,240.7 245.8,235.6 246.9,231.2 248.0,227.7 249.1,224.9 250.1,222.7 251.2,220.6 252.3,218.4 253.4,216.1 254.5,214.2 255.6,212.9 256.7,211.9 257.7,211.4 258.8,211.6 259.9,212.3 261.0,213.5 262.1,215.3 263.2,217.3 264.2,219.1 265.3,220.8 266.4,222.6 267.5,224.8 268.6,227.5 269.7,231.0 270.7,234.9 271.8,239.0 272.9,243.1 274.0,246.8 275.1,250.2 276.2,253.3 277.2,256.4 278.3,259.6 279.4,263.2 280.5,267.1 281.6,271.3 282.7,275.5 283.8,279.5 284.8,283.2 285.9,286.7" stroke="#ff8200" stroke-opacity="0.22" stroke-width="0.7"/>
<path d="M236.1,284.8 237.1,279.8 238.2,274.7 239.3,269.4 240.4,263.9 241.5,258.2 242.6,252.3 243.6,246.5 244.7,241.0 245.8,235.8 246.9,231.1 248.0,226.8 249.1,223.1 250.1,219.8 251.2,217.0 252.3,214.8 253.4,213.5 254.5,213.1 255.6,212.8 256.7,212.5 257.7,212.2 258.8,212.2 259.9,212.3 261.0,212.7 262.1,213.1 263.2,213.6 264.2,214.2 265.3,215.4 266.4,217.1 267.5,219.2 268.6,221.5 269.7,224.0 270.7,226.9 271.8,229.9 272.9,233.3 274.0,236.8 275.1,240.6 276.2,244.3 277.2,248.1 278.3,251.7 279.4,255.3 280.5,258.7 281.6,262.1 282.7,265.6 283.8,269.1 284.8,272.8 285.9,276.7 287.0,280.6 288.1,284.7 289.2,288.7" stroke="#ff9800" stroke-opacity="0.22" stroke-width="0.7"/>
<path d="M237.1,282.5 238.2,278.4 239.3,273.9 240.4,269.0 241.5,263.6 242.6,258.2 243.6,252.7 244.7,247.3 245.8,242.0 246.9,236.8 248.0,231.8 249.1,227.2 250.1,223.2 251.2,220.0 252.3,217.7 253.4,216.3 254.5,215.4 255.6,215.1 256.7,214.4 257.7,213.0 258.8,211.3 259.9,209.9 261.0,209.5 262.1,210.0 263.2,211.5 264.2,213.3 265.3,214.7 266.4,215.3 267.5,214.8 268.6,213.5 269.7,212.2 270.7,212.0 271.8,213.3 272.9,216.0 274.0,219.6 275.1,223.4 276.2,226.9 277.2,229.9 278.3,232.5 279.4,234.9 280.5,237.7 281.6,241.0 282.7,245.0 283.8,249.2 284.8,253.4 285.9,257.2 287.0,260.4 288.1,263.2 289.2,265.9 290.3,268.9 291.3,272.3 292.4,276.1 293.5,280.2 294.6,284.3 295.7,288.2" stroke="#ffae00" stroke-opacity="0.22" stroke-width="0.7"/>
<path d="M239.3,281.3 240.4,276.1 241.5,271.1 242.6,266.2 243.6,261.6 244.7,257.1 245.8,252.7 246.9,248.2 248.0,243.6 249.1,238.9 250.1,233.9 251.2,228.9 252.3,224.1 253.4,219.6 254.5,215.7 255.6,212.9 256.7,211.4 257.7,211.3 258.8,212.2 259.9,213.1 261.0,214.0 262.1,214.7 263.2,214.9 264.2,214.6 265.3,213.9 266.4,213.0 267.5,212.0 268.6,211.1 269.7,210.5 270.7,210.3 271.8,210.8 272.9,212.3 274.0,214.6 275.1,217.2 276.2,220.0 277.2,222.8 278.3,225.3 279.4,227.6 280.5,229.8 281.6,231.9 282.7,234.1 283.8,236.5 284.8,239.1 285.9,242.0 287.0,245.0 288.1,248.0 289.2,251.1 290.3,254.1 291.3,256.9 292.4,259.6 293.5,262.3 294.6,265.1 295.7,267.9 296.8,271.0 297.8,274.2 298.9,277.5 300.0,280.9 301.1,284.2 302.2,287.3" stroke="#ffc300" stroke-opacity="0.22" stroke-width="0.7"/>
<path d="M239.3,285.1 240.4,277.6 241.5,270.4 242.6,264.2 243.6,259.1 244.7,254.7 245.8,250.6 246.9,246.2 248.0,241.3 249.1,235.8 250.1,230.1 251.2,224.6 252.3,219.8 253.4,216.1 254.5,213.7 255.6,212.6 256.7,212.6 257.7,212.6 258.8,212.4 259.9,212.1 261.0,212.1 262.1,212.3 263.2,212.8 264.2,213.4 265.3,213.8 266.4,213.6 267.5,213.0 268.6,212.3 269.7,212.3 270.7,213.4 271.8,215.6 272.9,218.8 274.0,222.6 275.1,226.6 276.2,230.3 277.2,233.4 278.3,236.0 279.4,238.2 280.5,240.5 281.6,243.1 282.7,246.3 283.8,250.0 284.8,254.1 285.9,258.4 287.0,262.5 288.1,266.4 289.2,269.9 290.3,273.1 291.3,276.1 292.4,279.1 293.5,282.1 294.6,285.2" stroke="#ffd900" stroke-opacity="0.22" stroke-width="0.7"/>
<path d="M238.2,281.3 239.3,275.3 240.4,269.1 241.5,262.9 242.6,256.8 243.6,251.0 244.7,245.6 245.8,240.7 246.9,236.3 248.0,232.2 249.1,228.1 250.1,223.9 251.2,219.7 252.3,215.9 253.4,212.8 254.5,211.1 255.6,210.9 256.7,211.4 257.7,212.4 258.8,213.5 259.9,214.5 261.0,215.0 262.1,214.9 263.2,214.4 264.2,213.6 265.3,212.7 266.4,212.0 267.5,211.6 268.6,212.0 269.7,213.2 270.7,215.0 271.8,217.1 272.9,219.6 274.0,222.4 275.1,225.4 276.2,228.6 277.2,232.0 278.3,235.4 279.4,238.6 280.5,241.5 281.6,244.3 282.7,247.0 283.8,249.9 284.8,253.3 285.9,257.1 287.0,261.3 288.1,265.5 289.2,269.6 290.3,273.1 291.3,275.9 292.4,278.3 293.5,280.3 294.6,282.4 295.7,285.0 296.8,288.0" stroke="#ffef00" stroke-opacity="0.22" stroke-width="0.7"/>
<path d="M236.1,283.2 237.1,278.7 238.2,274.3 239.3,270.1 240.4,265.8 241.5,261.4 242.6,256.9 243.6,252.2 244.7,247.2 245.8,242.2 246.9,237.2 248.0,232.3 249.1,227.8 250.1,223.7 251.2,220.1 252.3,217.3 253.4,215.3 254.5,214.2 255.6,214.0 256.7,214.7 257.7,215.3 258.8,215.6 259.9,215.6 261.0,215.2 262.1,214.7 263.2,213.9 264.2,213.1 265.3,212.4 266.4,211.8 267.5,211.5 268.6,211.9 269.7,213.0 270.7,214.7 271.8,216.7 272.9,218.9 274.0,221.3 275.1,223.7 276.2,226.2 277.2,228.7 278.3,231.4 279.4,234.2 280.5,237.3 281.6,240.5 282.7,243.9 283.8,247.3 284.8,250.7 285.9,254.0 287.0,257.2 288.1,260.1 289.2,262.7 290.3,265.2 291.3,267.5 292.4,269.9 293.5,272.3 294.6,274.9 295.7,277.8 296.8,280.9 297.8,284.3 298.9,287.8" stroke="#faff00" stroke-opacity="0.22" stroke-width="0.7"/>
<path d="M241.5,283.8 242.6,277.9 243.6,272.0 244.7,266.1 245.8,260.3 246.9,254.6 248.0,249.0 249.1,243.6 250.1,238.4 251.2,233.4 252.3,228.7 253.4,224.2 254.5,220.2 255.6,216.8 256.7,214.1 257.7,212.5 258.8,212.1 259.9,212.0 261.0,211.9 262.1,211.9 263.2,211.8 264.2,211.9 265.3,211.9 266.4,212.1 267.5,212.4 268.6,212.7 269.7,213.1 270.7,213.5 271.8,213.9 272.9,214.4 274.0,215.4 275.1,217.0 276.2,219.0 277.2,221.2 278.3,223.5 279.4,225.9 280.5,228.2 281.6,230.6 282.7,232.9 283.8,235.4 284.8,237.9 285.9,240.5 287.0,243.4 288.1,246.4 289.2,249.6 290.3,253.1 291.3,256.7 292.4,260.5 293.5,264.4 294.6,268.4 295.7,272.5 296.8,276.4 297.8,280.3 298.9,284.1 300.0,287.7" stroke="#e4ff00" stroke-opacity="0.22" stroke-width="0.7"/>
<path d="M237.1,283.3 238.2,279.3 239.3,275.1 240.4,270.4 241.5,265.0 242.6,259.3 243.6,253.7 244.7,248.8 245.8,244.6 246.9,241.2 248.0,237.9 249.1,234.4 250.1,230.2 251.2,225.4 252.3,220.5 253.4,216.2 254.5,213.2 255.6,211.8 256.7,212.2 257.7,213.6 258.8,214.6 259.9,214.6 261.0,213.6 262.1,212.1 263.2,210.7 264.2,210.2 265.3,210.7 266.4,212.0 267.5,213.6 268.6,214.8 269.7,214.8 270.7,213.9 271.8,212.2 272.9,210.7 274.0,210.1 275.1,211.3 276.2,214.1 277.2,217.9 278.3,221.6 279.4,224.5 280.5,226.4 281.6,227.8 282.7,229.4 283.8,231.8 284.8,235.5 285.9,240.2 287.0,245.4 288.1,250.2 289.2,253.9 290.3,256.6 291.3,258.4 292.4,260.3 293.5,262.9 294.6,266.6 295.7,271.4 296.8,276.7 297.8,281.6 298.9,285.6" stroke="#ceff00" stroke-opacity="0.22" stroke-width="0.7"/>
<path d="M238.2,283.8 239.3,276.6 240.4,269.9 241.5,264.3 242.6,260.1 243.6,257.0 244.7,254.1 245.8,250.4 246.9,245.4 248.0,239.1 249.1,232.4 250.1,226.3 251.2,221.7 252.3,218.8 253.4,217.4 254.5,216.8 255.6,216.2 256.7,215.3 257.7,213.7 258.8,211.6 259.9,209.9 261.0,209.4 262.1,210.3 263.2,212.3 264.2,214.4 265.3,215.6 266.4,215.3 267.5,213.7 268.6,211.6 269.7,209.8 270.7,209.4 271.8,210.4 272.9,212.4 274.0,214.8 275.1,217.1 276.2,218.5 277.2,219.1 278.3,219.5 279.4,220.5 280.5,222.9 281.6,227.0 282.7,232.1 283.8,237.3 284.8,241.7 285.9,244.6 287.0,246.4 288.1,247.6 289.2,249.2 290.3,252.2 291.3,256.6 292.4,261.9 293.5,267.3 294.6,271.8 295.7,275.0 296.8,276.8 297.8,278.2 298.9,280.0 300.0,283.1 301.1,287.5" stroke="#b8ff00" stroke-opacity="0.22" stroke-width="0.7"/>
<path d="M237.1,280.9 238.2,276.0 239.3,271.1 240.4,266.2 241.5,261.4 242.6,256.7 243.6,252.1 244.7,247.6 245.8,243.3 246.9,239.2 248.0,235.3 249.1,231.6 250.1,228.1 251.2,224.8 252.3,221.7 253.4,219.0 254.5,216.8 255.6,215.3 256.7,214.6 257.7,214.8 258.8,215.0 259.9,215.0 261.0,214.9 262.1,214.6 263.2,214.2 264.2,213.7 265.3,213.2 266.4,212.6 267.5,212.7 268.6,213.5 269.7,214.1 270.7,214.4 271.8,214.3 272.9,213.8 274.0,213.0 275.1,212.0 276.2,211.6 277.2,213.2 278.3,215.7 279.4,218.7 280.5,221.9 281.6,225.3 282.7,228.8 283.8,232.3 284.8,235.8 285.9,239.2 287.0,242.6 288.1,245.8 289.2,248.9 290.3,251.9 291.3,254.8 292.4,257.6 293.5,260.3 294.6,263.0 295.7,265.8 296.8,268.5 297.8,271.3 298.9,274.2 300.0,277.2 301.1,280.3 302.2,283.5 303.3,286.8" stroke="#a3ff00" stroke-opacity="0.22" stroke-width="0.7"/>
<path d="M239.3,281.8 240.4,275.4 241.5,269.3 242.6,263.7 243.6,258.6 244.7,253.5 245.8,248.3 246.9,242.7 248.0,237.0 249.1,231.6 250.1,226.8 251.2,223.1 252.3,220.4 253.4,218.5 254.5,217.1 255.6,216.0 256.7,215.2 257.7,214.0 258.8,212.4 259.9,211.2 261.0,210.6 262.1,210.7 263.2,211.3 264.2,211.8 265.3,212.1 266.4,212.0 267.5,212.5 268.6,213.8 269.7,215.3 270.7,216.8 271.8,218.2 272.9,218.8 274.0,218.4 275.1,216.9 276.2,215.1 277.2,214.8 278.3,215.6 279.4,217.5 280.5,220.4 281.6,224.3 282.7,228.4 283.8,232.4 284.8,236.0 285.9,239.1 287.0,241.9 288.1,245.0 289.2,248.5 290.3,252.3 291.3,256.2 292.4,259.8 293.5,262.8 294.6,265.1 295.7,267.0 296.8,269.1 297.8,271.8 298.9,275.4 300.0,279.8 301.1,284.6 302.2,289.2" stroke="#8dff00" stroke-opacity="0.22" stroke-width="0.7"/>
<path d="M239.3,284.9 240.4,280.0 241.5,274.6 242.6,268.9 243.6,263.1 244.7,257.4 245.8,252.0 246.9,247.0 248.0,242.5 249.1,238.4 250.1,234.4 251.2,230.3 252.3,226.2 253.4,222.1 254.5,218.2 255.6,215.0 256.7,212.8 257.7,212.1 258.8,212.5 259.9,213.1 261.0,213.7 262.1,214.1 263.2,214.1 264.2,213.7 265.3,212.9 266.4,211.9 267.5,211.9 268.6,212.8 269.7,213.9 270.7,214.9 271.8,215.8 272.9,216.2 274.0,215.9 275.1,215.0 276.2,213.5 277.2,213.2 278.3,214.1 279.4,215.9 280.5,218.5 281.6,221.8 282.7,225.5 283.8,229.3 284.8,233.1 285.9,236.5 287.0,239.5 288.1,242.3 289.2,245.0 290.3,247.9 291.3,251.2 292.4,255.0 293.5,259.2 294.6,263.8 295.7,268.4 296.8,272.9 297.8,277.1 298.9,280.9 300.0,284.5 301.1,288.1" stroke="#77ff00" stroke-opacity="0.22" stroke-width="0.7"/>
<path d="M238.2,281.9 239.3,278.3 240.4,274.3 241.5,269.7 242.6,264.4 243.6,258.6 244.7,252.7 245.8,247.3 246.9,242.4 248.0,238.3 249.1,234.6 250.1,231.2 251.2,227.6 252.3,223.9 253.4,220.1 254.5,216.6 255.6,214.1 256.7,212.9 257.7,212.9 258.8,213.1 259.9,213.1 261.0,212.8 262.1,212.2 263.2,211.3 264.2,210.5 265.3,210.2 266.4,210.5 267.5,212.1 268.6,214.8 269.7,217.0 270.7,218.4 271.8,218.4 272.9,217.3 274.0,215.3 275.1,213.1 276.2,211.6 277.2,212.8 278.3,215.7 279.4,219.3 280.5,223.1 281.6,226.5 282.7,229.3 283.8,231.5 284.8,233.5 285.9,235.5 287.0,238.0 288.1,241.1 289.2,244.6 290.3,248.4 291.3,252.1 292.4,255.5 293.5,258.7 294.6,261.8 295.7,265.1 296.8,268.7 297.8,272.7 298.9,276.8 300.0,280.8 301.1,284.3 302.2,287.4" stroke="#62ff00" stroke-opacity="0.42" stroke-width="0.9"/>
<path d="M239.3,282.2 240.4,277.4 241.5,272.7 242.6,268.0 243.6,263.2 244.7,258.2 245.8,253.2 246.9,248.0 248.0,242.9 249.1,237.8 250.1,233.0 251.2,228.4 252.3,224.3 253.4,220.6 254.5,217.4 255.6,215.0 256.7,213.4 257.7,213.0 258.8,212.9 259.9,212.7 261.0,212.4 262.1,212.1 263.2,211.8 264.2,211.7 265.3,211.8 266.4,212.0 267.5,213.0 268.6,214.8 269.7,216.2 270.7,217.1 271.8,217.3 272.9,216.8 274.0,215.7 275.1,214.2 276.2,212.5 277.2,212.3 278.3,213.4 279.4,215.3 280.5,217.9 281.6,220.8 282.7,224.0 283.8,227.1 284.8,230.2 285.9,233.2 287.0,236.2 288.1,239.1 289.2,242.0 290.3,245.1 291.3,248.4 292.4,251.8 293.5,255.4 294.6,259.0 295.7,262.7 296.8,266.3 297.8,269.8 298.9,273.1 300.0,276.3 301.1,279.4 302.2,282.5 303.3,285.7" stroke="#4cff00" stroke-opacity="0.22" stroke-width="0.7"/>
<path d="M238.2,282.5 239.3,277.8 240.4,273.2 241.5,268.8 242.6,264.4 243.6,260.1 244.7,255.6 245.8,250.8 246.9,245.9 248.0,240.8 249.1,235.7 250.1,230.9 251.2,226.7 252.3,223.0 253.4,220.0 254.5,217.7 255.6,216.0 256.7,214.9 257.7,214.5 258.8,214.1 259.9,213.2 261.0,212.2 262.1,211.2 263.2,210.6 264.2,210.5 265.3,211.0 266.4,211.9 267.5,213.7 268.6,216.0 269.7,217.6 270.7,218.3 271.8,217.9 272.9,216.7 274.0,214.9 275.1,213.0 276.2,211.2 277.2,211.5 278.3,213.4 279.4,216.2 280.5,219.4 281.6,222.7 282.7,225.7 283.8,228.5 284.8,231.0 285.9,233.6 287.0,236.4 288.1,239.6 289.2,243.2 290.3,247.3 291.3,251.6 292.4,255.9 293.5,259.9 294.6,263.5 295.7,266.7 296.8,269.7 297.8,272.6 298.9,275.7 300.0,279.0 301.1,282.8 302.2,286.8" stroke="#36ff00" stroke-opacity="0.22" stroke-width="0.7"/>
<path d="M239.3,284.2 240.4,279.9 241.5,275.5 242.6,270.9 243.6,265.9 244.7,260.7 245.8,255.2 246.9,249.8 248.0,244.5 249.1,239.6 250.1,235.0 251.2,230.9 252.3,227.1 253.4,223.5 254.5,220.2 255.6,217.1 256.7,214.5 257.7,212.6 258.8,211.9 259.9,211.8 261.0,211.9 262.1,212.2 263.2,212.6 264.2,213.0 265.3,213.2 266.4,213.3 267.5,213.8 268.6,214.8 269.7,215.4 270.7,215.8 271.8,215.9 272.9,215.7 274.0,215.3 275.1,214.7 276.2,213.9 277.2,214.1 278.3,215.1 279.4,216.5 280.5,218.2 281.6,220.1 282.7,222.2 283.8,224.7 284.8,227.4 285.9,230.3 287.0,233.4 288.1,236.4 289.2,239.4 290.3,242.2 291.3,244.9 292.4,247.7 293.5,250.6 294.6,253.8 295.7,257.4 296.8,261.3 297.8,265.6 298.9,269.8 300.0,274.0 301.1,277.9 302.2,281.5 303.3,284.8 304.3,287.8" stroke="#21ff00" stroke-opacity="0.22" stroke-width="0.7"/>
<path d="M239.3,284.8 240.4,280.3 241.5,276.3 242.6,272.5 243.6,268.7 244.7,264.6 245.8,259.9 246.9,254.8 248.0,249.2 249.1,243.3 250.1,237.6 251.2,232.3 252.3,227.5 253.4,223.5 254.5,220.2 255.6,217.6 256.7,215.7 257.7,214.5 258.8,214.1 259.9,213.9 261.0,213.2 262.1,212.4 263.2,211.5 264.2,211.0 265.3,210.8 266.4,211.1 267.5,212.6 268.6,214.9 269.7,216.9 270.7,218.2 271.8,218.6 272.9,218.0 274.0,216.4 275.1,214.2 276.2,211.9 277.2,211.9 278.3,213.4 279.4,216.0 280.5,219.5 281.6,223.6 282.7,228.0 283.8,232.3 284.8,236.3 285.9,240.0 287.0,243.3 288.1,246.2 289.2,249.0 290.3,251.9 291.3,255.0 292.4,258.5 293.5,262.4 294.6,266.6 295.7,271.1 296.8,275.6 297.8,280.0 298.9,284.2 300.0,288.2" stroke="#0bff00" stroke-opacity="0.22" stroke-width="0.7"/>
<path d="M239.3,285.1 240.4,280.9 241.5,276.7 242.6,272.8 243.6,269.3 244.7,266.2 245.8,263.6 246.9,261.2 248.0,258.8 249.1,256.1 250.1,253.1 251.2,249.6 252.3,245.8 253.4,242.0 254.5,238.3 255.6,235.0 256.7,232.0 257.7,229.4 258.8,226.9 259.9,224.3 261.0,221.6 262.1,218.8 263.2,216.1 264.2,213.7 265.3,211.9 266.4,211.0 267.5,211.0 268.6,212.0 269.7,213.5 270.7,215.5 271.8,217.7 272.9,220.0 274.0,222.4 275.1,224.9 276.2,227.5 277.2,230.1 278.3,232.6 279.4,234.9 280.5,236.9 281.6,238.7 282.7,240.3 283.8,242.1 284.8,244.1 285.9,246.7 287.0,249.7 288.1,253.3 289.2,257.1 290.3,260.8 291.3,264.3 292.4,267.3 293.5,269.8 294.6,271.9 295.7,274.0 296.8,276.2 297.8,278.6 298.9,281.4 300.0,284.3 301.1,287.4" stroke="#00ff0b" stroke-opacity="0.22" stroke-width="0.7"/>
<path d="M232.8,283.7 233.9,280.7 235.0,277.9 236.1,275.2 237.1,272.6 238.2,270.2 239.3,267.9 240.4,265.8 241.5,263.6 242.6,261.5 243.6,259.3 244.7,257.1 245.8,254.7 246.9,252.2 248.0,249.6 249.1,246.8 250.1,243.8 251.2,240.8 252.3,237.7 253.4,234.7 254.5,231.7 255.6,228.8 256.7,226.1 257.7,223.6 258.8,221.4 259.9,219.4 261.0,217.7 262.1,216.2 263.2,215.1 264.2,214.3 265.3,213.8 266.4,213.8 267.5,214.1 268.6,214.9 269.7,216.1 270.7,217.6 271.8,219.3 272.9,221.1 274.0,223.0 275.1,225.0 276.2,227.2 277.2,229.4 278.3,231.8 279.4,234.4 280.5,237.2 281.6,240.1 282.7,243.2 283.8,246.4 284.8,249.7 285.9,253.1 287.0,256.5 288.1,259.9 289.2,263.2 290.3,266.5 291.3,269.6 292.4,272.6 293.5,275.6 294.6,278.4 295.7,281.2 296.8,284.0 297.8,286.7" stroke="#00ff21" stroke-opacity="0.22" stroke-width="0.7"/>
<path d="M246.9,284.8 248.0,282.2 249.1,279.6 250.1,276.8 251.2,273.5 252.3,269.8 253.4,265.8 254.5,262.0 255.6,258.7 256.7,256.1 257.7,254.1 258.8,252.3 259.9,250.4 261.0,247.8 262.1,244.3 263.2,240.2 264.2,235.8 265.3,231.8 266.4,228.6 267.5,226.4 268.6,225.1 269.7,224.1 270.7,222.9 271.8,221.0 272.9,218.4 274.0,215.4 275.1,212.6 276.2,210.7 277.2,210.2 278.3,211.2 279.4,213.3 280.5,216.0 281.6,218.7 282.7,220.9 283.8,222.6 284.8,224.0 285.9,225.5 287.0,227.4 288.1,229.9 289.2,233.0 290.3,236.3 291.3,239.6 292.4,242.6 293.5,245.3 294.6,247.7 295.7,250.2 296.8,252.9 297.8,255.9 298.9,259.0 300.0,262.1 301.1,264.9 302.2,267.4 303.3,269.7 304.3,272.1 305.4,274.9 306.5,278.1 307.6,281.7 308.7,285.5" stroke="#00ff36" stroke-opacity="0.22" stroke-width="0.7"/>
<path d="M250.1,281.8 251.2,278.0 252.3,274.5 253.4,271.5 254.5,268.7 255.6,265.9 256.7,263.0 257.7,259.9 258.8,256.4 259.9,252.8 261.0,249.1 262.1,245.5 263.2,242.1 264.2,239.0 265.3,236.0 266.4,233.1 267.5,230.1 268.6,227.1 269.7,224.0 270.7,221.1 271.8,218.5 272.9,216.3 274.0,214.8 275.1,214.0 276.2,213.9 277.2,214.3 278.3,215.0 279.4,215.8 280.5,216.5 281.6,217.2 282.7,218.1 283.8,219.2 284.8,220.9 285.9,223.1 287.0,225.9 288.1,229.1 289.2,232.5 290.3,235.9 291.3,239.1 292.4,242.2 293.5,245.0 294.6,247.8 295.7,250.6 296.8,253.4 297.8,256.3 298.9,259.0 300.0,261.6 301.1,263.8 302.2,265.9 303.3,267.7 304.3,269.5 305.4,271.6 306.5,274.1 307.6,277.2 308.7,280.7 309.8,284.6 310.9,288.6" stroke="#00ff4c" stroke-opacity="0.22" stroke-width="0.7"/>
<path d="M245.8,284.7 246.9,281.4 248.0,278.4 249.1,275.6 250.1,273.0 251.2,270.4 252.3,267.9 253.4,265.2 254.5,262.4 255.6,259.6 256.7,256.6 257.7,253.7 258.8,250.9 259.9,248.1 261.0,245.5 262.1,242.9 263.2,240.3 264.2,237.7 265.3,235.0 266.4,232.1 267.5,229.0 268.6,225.8 269.7,222.6 270.7,219.4 271.8,216.5 272.9,214.1 274.0,212.3 275.1,211.3 276.2,211.1 277.2,211.7 278.3,212.9 279.4,214.6 280.5,216.6 281.6,218.5 282.7,220.4 283.8,222.1 284.8,223.7 285.9,225.3 287.0,227.0 288.1,228.8 289.2,231.0 290.3,233.5 291.3,236.3 292.4,239.4 293.5,242.6 294.6,245.7 295.7,248.7 296.8,251.4 297.8,253.8 298.9,255.9 300.0,257.8 301.1,259.6 302.2,261.5 303.3,263.6 304.3,266.0 305.4,268.8 306.5,272.0 307.6,275.4 308.7,279.0 309.8,282.5 310.9,285.9" stroke="#00ff62" stroke-opacity="0.22" stroke-width="0.7"/>
<path d="M250.1,283.8 251.2,281.3 252.3,279.0 253.4,276.6 254.5,274.2 255.6,271.6 256.7,268.7 257.7,265.6 258.8,262.2 259.9,258.6 261.0,255.0 262.1,251.4 263.2,248.0 264.2,244.9 265.3,241.9 266.4,239.3 267.5,236.8 268.6,234.4 269.7,232.0 270.7,229.5 271.8,226.9 272.9,224.2 274.0,221.5 275.1,218.8 276.2,216.4 277.2,214.3 278.3,212.8 279.4,212.0 280.5,211.9 281.6,212.7 282.7,214.1 283.8,216.0 284.8,218.1 285.9,220.4 287.0,222.6 288.1,224.8 289.2,226.9 290.3,229.0 291.3,231.1 292.4,233.4 293.5,236.0 294.6,238.7 295.7,241.7 296.8,244.8 297.8,248.1 298.9,251.3 300.0,254.6 301.1,257.7 302.2,260.6 303.3,263.5 304.3,266.4 305.4,269.4 306.5,272.4 307.6,275.6 308.7,279.1 309.8,282.7 310.9,286.4" stroke="#00ff77" stroke-opacity="0.42" stroke-width="0.9"/>
<path d="M248.0,285.0 249.1,282.7 250.1,279.8 251.2,276.5 252.3,272.6 253.4,268.6 254.5,264.6 255.6,261.0 256.7,257.9 257.7,255.4 258.8,253.5 259.9,252.0 261.0,250.6 262.1,249.0 263.2,247.0 264.2,244.4 265.3,241.4 266.4,238.0 267.5,234.5 268.6,231.1 269.7,228.2 270.7,225.9 271.8,224.2 272.9,222.9 274.0,222.0 275.1,221.0 276.2,219.9 277.2,218.5 278.3,216.8 279.4,215.0 280.5,213.4 281.6,212.3 282.7,211.9 283.8,212.4 284.8,213.8 285.9,215.9 287.0,218.5 288.1,221.5 289.2,224.4 290.3,227.1 291.3,229.5 292.4,231.5 293.5,233.3 294.6,235.1 295.7,237.0 296.8,239.2 297.8,241.8 298.9,244.9 300.0,248.3 301.1,251.8 302.2,255.3 303.3,258.6 304.3,261.6 305.4,264.3 306.5,266.7 307.6,269.0 308.7,271.2 309.8,273.4 310.9,275.9 311.9,278.4 313.0,281.1 314.1,283.9 315.2,286.6" stroke="#00ff8d" stroke-opacity="0.22" stroke-width="0.7"/>
<path d="M252.3,283.7 253.4,280.4 254.5,277.4 255.6,274.9 256.7,272.8 257.7,270.9 258.8,269.0 259.9,266.9 261.0,264.6 262.1,261.9 263.2,258.9 264.2,255.8 265.3,252.9 266.4,250.2 267.5,247.8 268.6,245.7 269.7,243.7 270.7,241.6 271.8,239.4 272.9,236.8 274.0,234.0 275.1,231.0 276.2,228.0 277.2,225.3 278.3,223.1 279.4,221.3 280.5,220.0 281.6,219.0 282.7,218.0 283.8,217.0 284.8,216.0 285.9,214.9 287.0,214.0 288.1,213.5 289.2,213.6 290.3,214.4 291.3,215.8 292.4,217.7 293.5,219.9 294.6,222.0 295.7,224.1 296.8,225.9 297.8,227.5 298.9,229.1 300.0,230.9 301.1,233.0 302.2,235.6 303.3,238.7 304.3,242.2 305.4,245.9 306.5,249.5 307.6,252.9 308.7,255.9 309.8,258.5 310.9,260.9 311.9,263.3 313.0,265.7 314.1,268.4 315.2,271.2 316.3,274.2 317.4,277.1 318.4,279.8 319.5,282.1 320.6,284.0 321.7,285.7" stroke="#00ffa3" stroke-opacity="0.22" stroke-width="0.7"/>
<path d="M249.1,284.4 250.1,281.1 251.2,278.3 252.3,276.4 253.4,275.2 254.5,274.4 255.6,273.5 256.7,272.0 257.7,269.4 258.8,265.9 259.9,261.9 261.0,258.0 262.1,254.7 263.2,252.4 264.2,250.9 265.3,249.9 266.4,248.8 267.5,247.2 268.6,244.9 269.7,242.0 270.7,238.9 271.8,236.0 272.9,233.6 274.0,231.7 275.1,230.1 276.2,228.4 277.2,226.3 278.3,223.8 279.4,221.1 280.5,218.4 281.6,216.2 282.7,214.8 283.8,214.1 284.8,214.0 285.9,214.2 287.0,214.3 288.1,214.3 289.2,214.3 290.3,214.6 291.3,215.3 292.4,216.6 293.5,218.5 294.6,220.8 295.7,223.4 296.8,226.0 297.8,228.6 298.9,231.2 300.0,233.9 301.1,236.8 302.2,239.7 303.3,242.6 304.3,245.1 305.4,247.1 306.5,248.7 307.6,250.1 308.7,251.8 309.8,254.1 310.9,257.3 311.9,261.2 313.0,265.4 314.1,269.4 315.2,272.6 316.3,274.9 317.4,276.3 318.4,277.5 319.5,278.8 320.6,280.8 321.7,283.7 322.8,287.3" stroke="#00ffb8" stroke-opacity="0.22" stroke-width="0.7"/>
<path d="M254.5,282.9 255.6,278.4 256.7,273.8 257.7,269.8 258.8,266.8 259.9,265.0 261.0,264.1 262.1,263.5 263.2,262.5 264.2,260.4 265.3,257.2 266.4,253.0 267.5,248.6 268.6,244.6 269.7,241.5 270.7,239.4 271.8,238.1 272.9,237.2 274.0,235.9 275.1,234.0 276.2,231.2 277.2,227.9 278.3,224.4 279.4,221.3 280.5,218.9 281.6,217.3 282.7,216.2 283.8,215.4 284.8,214.5 285.9,213.6 287.0,212.8 288.1,212.4 289.2,212.6 290.3,213.7 291.3,215.6 292.4,218.0 293.5,220.5 294.6,222.8 295.7,224.6 296.8,226.0 297.8,227.4 298.9,229.0 300.0,231.3 301.1,234.3 302.2,237.8 303.3,241.6 304.3,244.9 305.4,247.6 306.5,249.6 307.6,250.9 308.7,252.0 309.8,253.5 310.9,255.7 311.9,258.7 313.0,262.5 314.1,266.5 315.2,270.3 316.3,273.4 317.4,275.8 318.4,277.4 319.5,278.6 320.6,280.0 321.7,281.8 322.8,284.3 323.9,287.6" stroke="#00ffce" stroke-opacity="0.22" stroke-width="0.7"/>
<path d="M249.1,284.6 250.1,282.9 251.2,281.2 252.3,279.2 253.4,276.9 254.5,274.3 255.6,271.4 256.7,268.6 257.7,265.9 258.8,263.7 259.9,262.0 261.0,260.5 262.1,259.2 263.2,257.7 264.2,255.7 265.3,253.1 266.4,249.9 267.5,246.3 268.6,242.8 269.7,239.5 270.7,236.7 271.8,234.6 272.9,233.0 274.0,231.6 275.1,230.2 276.2,228.4 277.2,226.2 278.3,223.5 279.4,220.7 280.5,218.0 281.6,215.7 282.7,214.1 283.8,213.3 284.8,213.2 285.9,213.6 287.0,214.3 288.1,215.1 289.2,215.9 290.3,216.6 291.3,217.5 292.4,218.5 293.5,219.9 294.6,221.7 295.7,223.9 296.8,226.4 297.8,229.0 298.9,231.6 300.0,234.1 301.1,236.4 302.2,238.6 303.3,240.8 304.3,243.1 305.4,245.5 306.5,248.2 307.6,251.0 308.7,253.9 309.8,256.8 310.9,259.7 311.9,262.6 313.0,265.5 314.1,268.5 315.2,271.6 316.3,274.8 317.4,277.9 318.4,280.8 319.5,283.5 320.6,285.9" stroke="#00ffe4" stroke-opacity="0.22" stroke-width="0.7"/>
<path d="M252.3,283.3 253.4,280.2 254.5,277.3 255.6,274.4 256.7,271.8 257.7,269.3 258.8,267.0 259.9,264.8 261.0,262.6 262.1,260.4 263.2,258.1 264.2,255.8 265.3,253.3 266.4,250.7 267.5,248.1 268.6,245.4 269.7,242.7 270.7,240.0 271.8,237.5 272.9,235.1 274.0,232.9 275.1,230.8 276.2,228.8 277.2,226.9 278.3,225.1 279.4,223.3 280.5,221.5 281.6,219.7 282.7,217.9 283.8,216.2 284.8,214.8 285.9,213.6 287.0,212.8 288.1,212.6 289.2,213.0 290.3,214.0 291.3,215.4 292.4,217.2 293.5,219.3 294.6,221.7 295.7,224.2 296.8,226.8 297.8,229.4 298.9,232.1 300.0,234.7 301.1,237.4 302.2,240.1 303.3,242.7 304.3,245.4 305.4,248.2 306.5,251.0 307.6,253.9 308.7,256.9 309.8,259.9 310.9,262.9 311.9,265.9 313.0,269.0 314.1,271.9 315.2,274.8 316.3,277.7 317.4,280.5 318.4,283.2 319.5,285.9" stroke="#00fffa" stroke-opacity="0.22" stroke-width="0.7"/>
<path d="M253.4,283.9 254.5,281.0 255.6,278.2 256.7,275.6 257.7,273.1 258.8,270.8 259.9,268.6 261.0,266.4 262.1,264.2 263.2,261.8 264.2,259.2 265.3,256.2 266.4,253.0 267.5,249.8 268.6,246.9 269.7,244.4 270.7,242.4 271.8,240.7 272.9,239.1 274.0,237.3 275.1,235.0 276.2,232.1 277.2,228.8 278.3,225.3 279.4,222.0 280.5,219.1 281.6,216.9 282.7,215.5 283.8,214.6 284.8,214.0 285.9,213.6 287.0,213.3 288.1,213.1 289.2,213.0 290.3,213.2 291.3,214.0 292.4,215.3 293.5,217.2 294.6,219.5 295.7,222.1 296.8,224.8 297.8,227.4 298.9,230.0 300.0,232.5 301.1,234.9 302.2,237.3 303.3,239.6 304.3,241.8 305.4,244.0 306.5,246.1 307.6,248.2 308.7,250.4 309.8,252.9 310.9,255.7 311.9,258.7 313.0,261.6 314.1,264.3 315.2,266.6 316.3,268.5 317.4,269.9 318.4,271.3 319.5,272.8 320.6,274.7 321.7,277.2 322.8,280.3 323.9,283.6 324.9,286.9" stroke="#00efff" stroke-opacity="0.22" stroke-width="0.7"/>
<path d="M248.0,283.7 249.1,280.8 250.1,277.8 251.2,274.6 252.3,271.7 253.4,269.1 254.5,266.8 255.6,265.0 256.7,263.4 257.7,262.0 258.8,260.4 259.9,258.6 261.0,256.6 262.1,254.3 263.2,251.9 264.2,249.6 265.3,247.5 266.4,245.6 267.5,243.9 268.6,242.4 269.7,240.8 270.7,238.9 271.8,236.7 272.9,234.2 274.0,231.3 275.1,228.3 276.2,225.4 277.2,222.8 278.3,220.6 279.4,218.8 280.5,217.4 281.6,216.3 282.7,215.4 283.8,214.4 284.8,213.5 285.9,212.7 287.0,212.2 288.1,212.2 289.2,212.8 290.3,214.2 291.3,216.2 292.4,218.6 293.5,221.3 294.6,223.8 295.7,226.2 296.8,228.3 297.8,230.0 298.9,231.5 300.0,233.0 301.1,234.6 302.2,236.6 303.3,239.0 304.3,241.7 305.4,244.6 306.5,247.5 307.6,250.4 308.7,253.0 309.8,255.5 310.9,257.8 311.9,260.1 313.0,262.6 314.1,265.4 315.2,268.5 316.3,271.8 317.4,275.3 318.4,278.6 319.5,281.7 320.6,284.4 321.7,286.6" stroke="#00d9ff" stroke-opacity="0.22" stroke-width="0.7"/>
<path d="M249.1,283.9 250.1,280.5 251.2,277.1 252.3,274.2 253.4,272.0 254.5,270.4 255.6,269.2 256.7,268.0 257.7,266.4 258.8,264.0 259.9,261.0 261.0,257.7 262.1,254.4 263.2,251.6 264.2,249.6 265.3,248.1 266.4,246.9 267.5,245.6 268.6,243.8 269.7,241.4 270.7,238.4 271.8,235.2 272.9,232.2 274.0,229.8 275.1,228.1 276.2,226.8 277.2,225.7 278.3,224.3 279.4,222.5 280.5,220.2 281.6,217.6 282.7,215.2 283.8,213.3 284.8,212.3 285.9,212.2 287.0,212.8 288.1,213.7 289.2,214.7 290.3,215.6 291.3,216.3 292.4,217.1 293.5,218.3 294.6,220.2 295.7,222.9 296.8,226.1 297.8,229.4 298.9,232.4 300.0,234.8 301.1,236.6 302.2,238.0 303.3,239.5 304.3,241.4 305.4,244.1 306.5,247.5 307.6,251.3 308.7,255.0 309.8,258.0 310.9,260.3 311.9,261.9 313.0,263.2 314.1,264.6 315.2,266.8 316.3,269.8 317.4,273.5 318.4,277.6 319.5,281.4 320.6,284.4 321.7,286.5" stroke="#00c3ff" stroke-opacity="0.22" stroke-width="0.7"/>
<path d="M248.0,283.2 249.1,280.8 250.1,278.5 251.2,276.2 252.3,273.9 253.4,271.6 254.5,269.5 255.6,267.6 256.7,265.9 257.7,264.4 258.8,262.9 259.9,261.3 261.0,259.2 262.1,256.7 263.2,253.7 264.2,250.4 265.3,247.0 266.4,244.0 267.5,241.4 268.6,239.5 269.7,238.1 270.7,237.0 271.8,235.9 272.9,234.5 274.0,232.7 275.1,230.3 276.2,227.5 277.2,224.5 278.3,221.7 279.4,219.4 280.5,217.6 281.6,216.4 282.7,215.7 283.8,215.3 284.8,214.9 285.9,214.6 287.0,214.2 288.1,214.0 289.2,214.0 290.3,214.4 291.3,215.2 292.4,216.4 293.5,218.0 294.6,219.8 295.7,221.8 296.8,223.9 297.8,226.1 298.9,228.5 300.0,231.0 301.1,233.7 302.2,236.5 303.3,239.4 304.3,242.2 305.4,244.7 306.5,246.9 307.6,248.6 308.7,250.2 309.8,251.7 310.9,253.4 311.9,255.5 313.0,258.1 314.1,261.2 315.2,264.5 316.3,267.7 317.4,270.6 318.4,273.0 319.5,274.9 320.6,276.3 321.7,277.6 322.8,279.1 323.9,281.0 324.9,283.6" stroke="#00aeff" stroke-opacity="0.22" stroke-width="0.7"/>
<path d="M246.9,284.5 248.0,282.7 249.1,280.8 250.1,278.8 251.2,276.5 252.3,274.1 253.4,271.5 254.5,268.9 255.6,266.4 256.7,264.0 257.7,261.8 258.8,259.9 259.9,258.0 261.0,256.3 262.1,254.4 263.2,252.4 264.2,250.3 265.3,248.0 266.4,245.6 267.5,243.2 268.6,240.8 269.7,238.5 270.7,236.4 271.8,234.4 272.9,232.5 274.0,230.7 275.1,228.8 276.2,226.8 277.2,224.8 278.3,222.7 279.4,220.6 280.5,218.7 281.6,217.0 282.7,215.6 283.8,214.6 284.8,213.8 285.9,213.3 287.0,213.2 288.1,213.3 289.2,213.7 290.3,214.3 291.3,215.1 292.4,216.2 293.5,217.7 294.6,219.5 295.7,221.7 296.8,224.3 297.8,226.9 298.9,229.6 300.0,232.2 301.1,234.5 302.2,236.5 303.3,238.2 304.3,239.7 305.4,241.1 306.5,242.8 307.6,244.7 308.7,247.0 309.8,249.7 310.9,252.7 311.9,255.9 313.0,259.0 314.1,261.8 315.2,264.3 316.3,266.3 317.4,268.0 318.4,269.5 319.5,271.0 320.6,272.6 321.7,274.5 322.8,276.8 323.9,279.5 324.9,282.5" stroke="#0098ff" stroke-opacity="0.22" stroke-width="0.7"/>
<path d="M251.2,282.9 252.3,280.1 253.4,277.4 254.5,274.7 255.6,272.3 256.7,269.9 257.7,267.5 258.8,265.1 259.9,262.7 261.0,260.3 262.1,258.1 263.2,256.0 264.2,254.1 265.3,252.3 266.4,250.4 267.5,248.2 268.6,245.7 269.7,242.9 270.7,239.9 271.8,236.9 272.9,234.3 274.0,232.0 275.1,230.2 276.2,228.7 277.2,227.0 278.3,225.1 279.4,222.7 280.5,219.8 281.6,216.9 282.7,214.2 283.8,212.2 284.8,211.1 285.9,211.1 287.0,212.0 288.1,213.5 289.2,215.1 290.3,216.6 291.3,217.7 292.4,218.7 293.5,219.8 294.6,221.4 295.7,223.7 296.8,226.7 297.8,230.3 298.9,234.0 300.0,237.5 301.1,240.4 302.2,242.6 303.3,244.2 304.3,245.6 305.4,247.2 306.5,249.4 307.6,252.2 308.7,255.7 309.8,259.4 310.9,263.1 311.9,266.4 313.0,269.3 314.1,271.6 315.2,273.8 316.3,276.1 317.4,278.6 318.4,281.7 319.5,285.1 320.6,288.8" stroke="#0082ff" stroke-opacity="0.22" stroke-width="0.7"/>
<path d="M249.1,284.7 250.1,282.7 251.2,280.7 252.3,278.4 253.4,275.8 254.5,273.0 255.6,270.0 256.7,267.1 257.7,264.5 258.8,262.4 259.9,260.6 261.0,258.8 262.1,256.7 263.2,253.9 264.2,250.5 265.3,246.7 266.4,242.8 267.5,239.4 268.6,236.8 269.7,234.9 270.7,233.5 271.8,232.0 272.9,230.0 274.0,227.3 275.1,224.0 276.2,220.7 277.2,217.7 278.3,215.7 279.4,214.7 280.5,214.6 281.6,215.0 282.7,215.3 283.8,215.3 284.8,215.0 285.9,214.6 287.0,214.7 288.1,215.5 289.2,217.4 290.3,220.0 291.3,223.1 292.4,226.2 293.5,228.8 294.6,230.7 295.7,232.1 296.8,233.4 297.8,235.0 298.9,237.2 300.0,240.0 301.1,243.2 302.2,246.7 303.3,250.0 304.3,253.0 305.4,255.6 306.5,258.1 307.6,260.6 308.7,263.3 309.8,266.2 310.9,269.3 311.9,272.4 313.0,275.5 314.1,278.6 315.2,281.6 316.3,284.4 317.4,287.1" stroke="#006dff" stroke-opacity="0.22" stroke-width="0.7"/>
<path d="M245.8,284.0 246.9,282.1 248.0,279.7 249.1,276.9 250.1,274.3 251.2,271.9 252.3,269.9 253.4,268.3 254.5,266.6 255.6,264.7 256.7,262.3 257.7,259.3 258.8,256.1 259.9,252.9 261.0,250.0 262.1,247.6 263.2,245.7 264.2,243.8 265.3,241.8 266.4,239.5 267.5,236.7 268.6,233.8 269.7,230.9 270.7,228.6 271.8,226.8 272.9,225.5 274.0,224.4 275.1,223.3 276.2,221.7 277.2,219.8 278.3,217.8 279.4,215.9 280.5,214.6 281.6,213.9 282.7,214.0 283.8,214.6 284.8,215.3 285.9,216.2 287.0,216.9 288.1,217.6 289.2,218.6 290.3,220.1 291.3,222.2 292.4,224.8 293.5,227.6 294.6,230.2 295.7,232.5 296.8,234.5 297.8,236.2 298.9,238.0 300.0,240.2 301.1,242.9 302.2,246.2 303.3,249.7 304.3,253.2 305.4,256.3 306.5,259.0 307.6,261.4 308.7,263.8 309.8,266.6 310.9,269.9 311.9,273.5 313.0,277.3 314.1,281.0 315.2,284.1 316.3,286.7" stroke="#0057ff" stroke-opacity="0.42" stroke-width="0.9"/>
<path d="M248.0,284.2 249.1,281.9 250.1,279.4 251.2,276.8 252.3,274.3 253.4,271.9 254.5,269.4 255.6,266.8 256.7,263.9 257.7,260.7 258.8,257.4 259.9,254.1 261.0,251.0 262.1,248.4 263.2,246.3 264.2,244.5 265.3,243.0 266.4,241.4 267.5,239.6 268.6,237.6 269.7,235.5 270.7,233.3 271.8,231.2 272.9,229.3 274.0,227.4 275.1,225.5 276.2,223.5 277.2,221.2 278.3,218.6 279.4,216.1 280.5,213.7 281.6,212.0 282.7,210.9 283.8,210.8 284.8,211.3 285.9,212.5 287.0,214.0 288.1,215.7 289.2,217.4 290.3,219.2 291.3,221.3 292.4,223.6 293.5,226.2 294.6,229.0 295.7,231.7 296.8,234.1 297.8,236.3 298.9,238.2 300.0,240.0 301.1,241.8 302.2,243.9 303.3,246.3 304.3,249.1 305.4,252.0 306.5,254.8 307.6,257.5 308.7,259.9 309.8,262.2 310.9,264.4 311.9,266.8 313.0,269.3 314.1,272.1 315.2,275.0 316.3,277.8 317.4,280.3 318.4,282.6 319.5,284.7 320.6,286.7" stroke="#0041ff" stroke-opacity="0.22" stroke-width="0.7"/>
<path d="M245.8,283.7 246.9,280.9 248.0,278.1 249.1,275.3 250.1,272.6 251.2,270.2 252.3,268.0 253.4,266.2 254.5,264.5 255.6,263.0 256.7,261.6 257.7,260.2 258.8,258.6 259.9,256.7 261.0,254.5 262.1,251.9 263.2,249.1 264.2,246.1 265.3,242.9 266.4,239.8 267.5,236.7 268.6,233.9 269.7,231.4 270.7,229.1 271.8,227.2 272.9,225.5 274.0,223.9 275.1,222.5 276.2,221.0 277.2,219.6 278.3,218.1 279.4,216.7 280.5,215.3 281.6,214.2 282.7,213.3 283.8,213.0 284.8,213.2 285.9,214.0 287.0,215.4 288.1,217.2 289.2,219.3 290.3,221.6 291.3,223.9 292.4,226.2 293.5,228.4 294.6,230.5 295.7,232.6 296.8,234.8 297.8,237.0 298.9,239.4 300.0,242.0 301.1,244.9 302.2,248.0 303.3,251.3 304.3,254.7 305.4,258.2 306.5,261.6 307.6,265.0 308.7,268.1 309.8,271.0 310.9,273.8 311.9,276.4 313.0,278.9 314.1,281.4 315.2,284.0 316.3,286.7" stroke="#002bff" stroke-opacity="0.22" stroke-width="0.7"/>
<path d="M248.0,283.4 249.1,280.4 250.1,277.6 251.2,275.0 252.3,272.7 253.4,270.7 254.5,268.8 255.6,267.0 256.7,265.1 257.7,263.0 258.8,260.7 259.9,258.1 261.0,255.3 262.1,252.3 263.2,249.4 264.2,246.4 265.3,243.7 266.4,241.1 267.5,238.8 268.6,236.6 269.7,234.6 270.7,232.7 271.8,230.8 272.9,228.9 274.0,226.9 275.1,224.9 276.2,222.8 277.2,220.7 278.3,218.6 279.4,216.5 280.5,214.6 281.6,213.0 282.7,211.9 283.8,211.3 284.8,211.4 285.9,212.2 287.0,213.8 288.1,215.8 289.2,218.3 290.3,220.9 291.3,223.5 292.4,225.9 293.5,228.1 294.6,230.0 295.7,231.7 296.8,233.4 297.8,235.1 298.9,237.1 300.0,239.5 301.1,242.3 302.2,245.4 303.3,248.8 304.3,252.3 305.4,255.7 306.5,258.8 307.6,261.6 308.7,264.0 309.8,266.0 310.9,267.9 311.9,269.8 313.0,271.8 314.1,274.1 315.2,276.8 316.3,279.7 317.4,282.9 318.4,286.2" stroke="#0016ff" stroke-opacity="0.22" stroke-width="0.7"/>
<path d="M243.6,284.9 244.7,282.5 245.8,280.3 246.9,278.0 248.0,275.9 249.1,273.7 250.1,271.5 251.2,269.2 252.3,267.0 253.4,264.8 254.5,262.8 255.6,260.8 256.7,259.0 257.7,257.1 258.8,255.1 259.9,252.8 261.0,250.3 262.1,247.6 263.2,244.9 264.2,242.2 265.3,239.8 266.4,237.7 267.5,236.1 268.6,234.7 269.7,233.4 270.7,231.9 271.8,230.1 272.9,228.0 274.0,225.4 275.1,222.7 276.2,220.1 277.2,217.8 278.3,216.0 279.4,214.7 280.5,214.0 281.6,213.6 282.7,213.5 283.8,213.5 284.8,213.6 285.9,213.7 287.0,214.2 288.1,215.0 289.2,216.4 290.3,218.2 291.3,220.5 292.4,223.1 293.5,225.6 294.6,227.9 295.7,229.9 296.8,231.5 297.8,232.9 298.9,234.4 300.0,236.2 301.1,238.5 302.2,241.3 303.3,244.5 304.3,247.7 305.4,250.8 306.5,253.4 307.6,255.5 308.7,257.0 309.8,258.3 310.9,259.5 311.9,261.2 313.0,263.3 314.1,266.1 315.2,269.2 316.3,272.5 317.4,275.7 318.4,278.5 319.5,280.8 320.6,282.7 321.7,284.3 322.8,285.9" stroke="#0000ff" stroke-opacity="0.22" stroke-width="0.7"/>
</g>
<g font-family="Liberation Sans, sans-serif" font-size="6.6" fill="#222">
<text x="199.0" y="287.0" text-anchor="middle" textLength="17.8" lengthAdjust="spacingAndGlyphs">−400</text>
<text x="226.0" y="287.0" text-anchor="middle" textLength="17.8" lengthAdjust="spacingAndGlyphs">−200</text>
<text x="253.4" y="287.0" text-anchor="middle" textLength="3.7" lengthAdjust="spacingAndGlyphs">0</text>
<text x="280.7" y="287.0" text-anchor="middle" textLength="10.6" lengthAdjust="spacingAndGlyphs">200</text>
<text x="307.7" y="287.0" text-anchor="middle" textLength="10.6" lengthAdjust="spacingAndGlyphs">400</text>
<text x="184.0" y="214.9" text-anchor="end" textLength="10.8" lengthAdjust="spacingAndGlyphs">1.0</text>
<text x="184.0" y="284.5" text-anchor="end" textLength="10.8" lengthAdjust="spacingAndGlyphs">0.8</text>
</g>
<text x="265.1" y="148.8" text-anchor="middle" font-family="Liberation Sans, sans-serif" font-weight="bold" font-size="16" fill="#000000">IFG</text>
<path d="M356.7,152.2 V281.0 H496.5 V152.2" fill="none" stroke="#e6e6e6" stroke-width="0.9"/>
<path d="M356.7,152.2 H496.5" fill="none" stroke="#e6e6e6" stroke-width="0.9"/>
<g clip-path="url(#pc2)" fill="none" stroke-width="0.6" stroke-linejoin="round">
<path d="M382.9,282.9 384.0,279.4 385.2,276.1 386.3,272.8 387.4,269.5 388.5,266.2 389.7,262.7 390.8,259.0 391.9,255.0 393.1,250.8 394.2,246.4 395.3,242.1 396.4,237.9 397.6,234.0 398.7,230.6 399.8,227.6 401.0,225.1 402.1,222.8 403.2,220.6 404.3,218.5 405.5,216.3 406.6,214.0 407.7,211.9 408.9,210.1 410.0,208.9 411.1,208.3 412.2,207.9 413.4,207.6 414.5,207.4 415.6,207.8 416.7,208.7 417.9,209.9 419.0,211.3 420.1,212.9 421.3,214.6 422.4,216.6 423.5,218.8 424.6,221.3 425.8,224.2 426.9,227.2 428.0,230.3 429.2,233.4 430.3,236.2 431.4,238.7 432.5,240.7 433.7,242.4 434.8,243.9 435.9,245.3 437.1,246.8 438.2,248.5 439.3,250.5 440.4,253.0 441.6,255.7 442.7,258.6 443.8,261.5 444.9,264.5 446.1,267.3 447.2,269.9 448.3,272.5 449.5,275.0 450.6,277.5 451.7,280.0 452.8,282.6 454.0,285.2" stroke="#ff0000" stroke-opacity="0.22" stroke-width="0.7"/>
<path d="M382.9,284.3 384.0,280.8 385.2,277.0 386.3,273.1 387.4,269.0 388.5,265.1 389.7,261.5 390.8,258.3 391.9,255.6 393.1,253.2 394.2,250.8 395.3,248.0 396.4,244.7 397.6,240.8 398.7,236.5 399.8,231.9 401.0,227.5 402.1,223.7 403.2,220.7 404.3,218.6 405.5,217.1 406.6,215.9 407.7,214.6 408.9,213.0 410.0,211.2 411.1,209.3 412.2,207.7 413.4,206.3 414.5,205.9 415.6,206.8 416.7,209.0 417.9,212.0 419.0,215.5 420.1,219.1 421.3,222.3 422.4,225.0 423.5,227.2 424.6,229.2 425.8,231.1 426.9,233.3 428.0,236.0 429.2,239.0 430.3,242.4 431.4,245.9 432.5,249.3 433.7,252.5 434.8,255.5 435.9,258.4 437.1,261.2 438.2,264.2 439.3,267.2 440.4,270.4 441.6,273.6 442.7,276.7 443.8,279.6 444.9,282.4 446.1,285.0 447.2,287.6" stroke="#ff1600" stroke-opacity="0.22" stroke-width="0.7"/>
<path d="M384.0,283.3 385.2,278.7 386.3,274.2 387.4,269.7 388.5,265.4 389.7,261.3 390.8,257.4 391.9,253.7 393.1,250.2 394.2,246.8 395.3,243.4 396.4,239.9 397.6,236.4 398.7,232.7 399.8,229.0 401.0,225.3 402.1,221.7 403.2,218.4 404.3,215.4 405.5,212.8 406.6,210.8 407.7,209.4 408.9,208.7 410.0,208.7 411.1,208.7 412.2,208.6 413.4,208.4 414.5,208.0 415.6,207.7 416.7,207.8 417.9,208.6 419.0,209.9 420.1,211.7 421.3,213.8 422.4,216.1 423.5,218.4 424.6,220.8 425.8,223.0 426.9,225.1 428.0,227.1 429.2,229.0 430.3,230.9 431.4,232.8 432.5,235.0 433.7,237.3 434.8,239.8 435.9,242.5 437.1,245.2 438.2,248.0 439.3,250.7 440.4,253.3 441.6,255.8 442.7,258.2 443.8,260.6 444.9,263.0 446.1,265.5 447.2,268.2 448.3,270.9 449.5,273.8 450.6,276.6 451.7,279.4 452.8,282.1 454.0,284.6 455.1,286.8" stroke="#ff2b00" stroke-opacity="0.22" stroke-width="0.7"/>
<path d="M394.2,284.9 395.3,281.3 396.4,277.8 397.6,274.3 398.7,270.7 399.8,267.0 401.0,263.1 402.1,258.9 403.2,254.6 404.3,250.1 405.5,245.7 406.6,241.4 407.7,237.2 408.9,233.2 410.0,229.5 411.1,226.1 412.2,222.7 413.4,219.6 414.5,216.5 415.6,213.6 416.7,210.9 417.9,208.7 419.0,207.2 420.1,206.4 421.3,205.7 422.4,205.1 423.5,204.8 424.6,205.2 425.8,206.6 426.9,208.7 428.0,211.3 429.2,214.3 430.3,217.4 431.4,220.6 432.5,223.6 433.7,226.5 434.8,229.2 435.9,231.8 437.1,234.4 438.2,237.0 439.3,239.8 440.4,242.7 441.6,245.7 442.7,248.9 443.8,252.0 444.9,255.2 446.1,258.1 447.2,260.9 448.3,263.4 449.5,265.7 450.6,267.9 451.7,270.0 452.8,272.1 454.0,274.4 455.1,276.9 456.2,279.8 457.4,283.0 458.5,286.5" stroke="#ff4100" stroke-opacity="0.22" stroke-width="0.7"/>
<path d="M386.3,282.7 387.4,278.0 388.5,274.2 389.7,270.9 390.8,267.6 391.9,264.0 393.1,259.8 394.2,254.8 395.3,249.3 396.4,243.7 397.6,238.3 398.7,233.6 399.8,229.5 401.0,226.2 402.1,223.2 403.2,220.4 404.3,217.3 405.5,214.1 406.6,210.9 407.7,208.1 408.9,206.4 410.0,205.7 411.1,205.7 412.2,206.2 413.4,207.3 414.5,208.8 415.6,210.7 416.7,212.6 417.9,214.1 419.0,215.4 420.1,216.5 421.3,217.7 422.4,219.2 423.5,221.2 424.6,223.7 425.8,226.7 426.9,229.8 428.0,233.0 429.2,236.0 430.3,238.8 431.4,241.4 432.5,243.7 433.7,246.0 434.8,248.3 435.9,250.7 437.1,253.1 438.2,255.6 439.3,258.1 440.4,260.7 441.6,263.3 442.7,266.0 443.8,268.8 444.9,271.6 446.1,274.3 447.2,277.0 448.3,279.5 449.5,282.0 450.6,284.4 451.7,286.9" stroke="#ff5700" stroke-opacity="0.42" stroke-width="0.9"/>
<path d="M382.9,284.5 384.0,281.9 385.2,279.1 386.3,276.1 387.4,272.8 388.5,269.3 389.7,265.8 390.8,262.4 391.9,259.3 393.1,256.5 394.2,254.1 395.3,252.0 396.4,250.0 397.6,247.9 398.7,245.5 399.8,242.8 401.0,239.6 402.1,236.1 403.2,232.3 404.3,228.5 405.5,224.8 406.6,221.5 407.7,218.6 408.9,216.1 410.0,213.9 411.1,212.1 412.2,210.4 413.4,208.9 414.5,207.7 415.6,207.1 416.7,206.8 417.9,207.2 419.0,208.4 420.1,210.3 421.3,212.8 422.4,215.7 423.5,218.8 424.6,221.9 425.8,224.7 426.9,227.3 428.0,229.6 429.2,231.7 430.3,233.8 431.4,236.1 432.5,238.7 433.7,241.6 434.8,244.9 435.9,248.5 437.1,252.2 438.2,255.7 439.3,259.0 440.4,262.0 441.6,264.6 442.7,266.9 443.8,269.0 444.9,271.3 446.1,273.7 447.2,276.5 448.3,279.6 449.5,283.0 450.6,286.6" stroke="#ff6d00" stroke-opacity="0.22" stroke-width="0.7"/>
<path d="M388.5,282.3 389.7,278.6 390.8,275.4 391.9,272.5 393.1,269.3 394.2,265.7 395.3,261.5 396.4,256.7 397.6,251.6 398.7,246.4 399.8,241.7 401.0,237.5 402.1,233.9 403.2,230.7 404.3,227.8 405.5,224.8 406.6,221.4 407.7,217.8 408.9,214.0 410.0,210.5 411.1,207.7 412.2,206.1 413.4,205.7 414.5,205.7 415.6,206.1 416.7,206.6 417.9,207.0 419.0,207.8 420.1,208.8 421.3,210.1 422.4,211.8 423.5,213.9 424.6,216.5 425.8,219.3 426.9,222.3 428.0,225.1 429.2,227.6 430.3,229.7 431.4,231.4 432.5,233.0 433.7,234.7 434.8,236.7 435.9,239.2 437.1,242.1 438.2,245.2 439.3,248.3 440.4,251.1 441.6,253.4 442.7,255.1 443.8,256.4 444.9,257.6 446.1,259.2 447.2,261.4 448.3,264.3 449.5,267.8 450.6,271.8 451.7,275.7 452.8,279.3 454.0,282.3 455.1,284.7 456.2,286.6" stroke="#ff8200" stroke-opacity="0.22" stroke-width="0.7"/>
<path d="M390.8,281.8 391.9,278.3 393.1,274.6 394.2,270.7 395.3,266.7 396.4,262.6 397.6,258.6 398.7,254.7 399.8,250.8 401.0,247.2 402.1,243.6 403.2,240.0 404.3,236.4 405.5,232.7 406.6,228.9 407.7,224.9 408.9,220.8 410.0,216.7 411.1,212.9 412.2,209.5 413.4,206.9 414.5,205.3 415.6,204.9 416.7,205.2 417.9,205.8 419.0,206.7 420.1,207.6 421.3,208.7 422.4,210.3 423.5,212.1 424.6,214.0 425.8,215.8 426.9,217.7 428.0,219.6 429.2,221.6 430.3,223.8 431.4,226.2 432.5,228.8 433.7,231.7 434.8,234.6 435.9,237.7 437.1,240.6 438.2,243.5 439.3,246.2 440.4,248.7 441.6,251.1 442.7,253.5 443.8,255.9 444.9,258.4 446.1,261.1 447.2,264.1 448.3,267.4 449.5,270.8 450.6,274.3 451.7,277.8 452.8,281.2 454.0,284.3 455.1,287.2" stroke="#ff9800" stroke-opacity="0.22" stroke-width="0.7"/>
<path d="M389.7,282.5 390.8,278.1 391.9,273.1 393.1,268.0 394.2,263.0 395.3,258.4 396.4,254.4 397.6,250.9 398.7,247.7 399.8,244.5 401.0,241.0 402.1,237.3 403.2,233.3 404.3,229.3 405.5,225.5 406.6,221.8 407.7,218.4 408.9,215.2 410.0,212.2 411.1,209.4 412.2,207.2 413.4,206.0 414.5,205.7 415.6,206.0 416.7,206.7 417.9,207.7 419.0,208.8 420.1,210.1 421.3,211.4 422.4,212.5 423.5,213.6 424.6,214.9 425.8,216.9 426.9,219.5 428.0,222.8 429.2,226.6 430.3,230.4 431.4,233.9 432.5,236.9 433.7,239.4 434.8,241.5 435.9,243.6 437.1,245.9 438.2,248.4 439.3,251.2 440.4,254.2 441.6,257.1 442.7,260.0 443.8,262.8 444.9,265.7 446.1,268.9 447.2,272.4 448.3,276.1 449.5,279.8 450.6,283.3 451.7,286.3" stroke="#ffae00" stroke-opacity="0.22" stroke-width="0.7"/>
<path d="M384.0,282.6 385.2,278.7 386.3,275.1 387.4,271.9 388.5,268.8 389.7,265.8 390.8,262.5 391.9,259.1 393.1,255.5 394.2,252.0 395.3,248.8 396.4,246.2 397.6,244.0 398.7,242.0 399.8,239.9 401.0,237.4 402.1,234.2 403.2,230.5 404.3,226.5 405.5,222.6 406.6,219.2 407.7,216.4 408.9,214.4 410.0,212.8 411.1,211.5 412.2,210.3 413.4,209.1 414.5,208.2 415.6,207.2 416.7,206.2 417.9,205.6 419.0,205.5 420.1,206.3 421.3,207.7 422.4,209.4 423.5,211.3 424.6,213.1 425.8,215.0 426.9,217.2 428.0,219.7 429.2,222.6 430.3,225.7 431.4,228.8 432.5,231.5 433.7,233.8 434.8,235.5 435.9,237.0 437.1,238.5 438.2,240.4 439.3,242.8 440.4,245.7 441.6,248.9 442.7,251.9 443.8,254.5 444.9,256.5 446.1,258.0 447.2,259.1 448.3,260.4 449.5,262.1 450.6,264.3 451.7,267.2 452.8,270.4 454.0,273.6 455.1,276.7 456.2,279.4 457.4,281.8 458.5,284.1 459.6,286.6" stroke="#ffc300" stroke-opacity="0.22" stroke-width="0.7"/>
<path d="M387.4,282.2 388.5,278.5 389.7,274.7 390.8,271.2 391.9,268.2 393.1,265.6 394.2,263.4 395.3,261.1 396.4,258.4 397.6,255.2 398.7,251.7 399.8,248.1 401.0,244.7 402.1,241.6 403.2,238.8 404.3,236.0 405.5,233.1 406.6,229.8 407.7,226.3 408.9,222.8 410.0,219.4 411.1,216.5 412.2,214.1 413.4,212.1 414.5,210.2 415.6,208.6 416.7,207.2 417.9,206.3 419.0,206.0 420.1,206.2 421.3,206.7 422.4,207.9 423.5,209.5 424.6,211.3 425.8,213.0 426.9,214.7 428.0,216.5 429.2,218.8 430.3,221.5 431.4,224.7 432.5,228.1 433.7,231.3 434.8,233.9 435.9,235.9 437.1,237.6 438.2,239.3 439.3,241.5 440.4,244.4 441.6,247.9 442.7,251.5 443.8,254.8 444.9,257.5 446.1,259.6 447.2,261.4 448.3,263.4 449.5,266.1 450.6,269.6 451.7,273.9 452.8,278.2 454.0,282.2 455.1,285.4" stroke="#ffd900" stroke-opacity="0.22" stroke-width="0.7"/>
<path d="M382.9,284.5 384.0,281.5 385.2,277.7 386.3,273.7 387.4,270.1 388.5,267.3 389.7,265.4 390.8,264.1 391.9,262.8 393.1,260.8 394.2,258.1 395.3,254.6 396.4,250.8 397.6,247.3 398.7,244.5 399.8,242.3 401.0,240.6 402.1,238.9 403.2,236.7 404.3,233.9 405.5,230.6 406.6,227.1 407.7,224.0 408.9,221.3 410.0,219.3 411.1,217.5 412.2,215.8 413.4,213.8 414.5,211.6 415.6,209.5 416.7,207.7 417.9,206.8 419.0,206.7 420.1,207.3 421.3,207.9 422.4,208.1 423.5,208.0 424.6,208.1 425.8,208.8 426.9,210.2 428.0,212.4 429.2,215.3 430.3,218.5 431.4,221.5 432.5,224.0 433.7,226.0 434.8,227.7 435.9,229.6 437.1,232.1 438.2,235.4 439.3,239.2 440.4,243.0 441.6,246.4 442.7,249.0 443.8,250.8 444.9,252.4 446.1,254.1 447.2,256.7 448.3,260.1 449.5,264.2 450.6,268.5 451.7,272.3 452.8,275.2 454.0,277.2 455.1,278.8 456.2,280.6 457.4,283.2 458.5,286.8" stroke="#ffef00" stroke-opacity="0.22" stroke-width="0.7"/>
<path d="M387.4,283.9 388.5,280.5 389.7,276.9 390.8,273.0 391.9,268.9 393.1,264.8 394.2,260.7 395.3,256.7 396.4,252.9 397.6,249.4 398.7,246.1 399.8,243.2 401.0,240.5 402.1,238.1 403.2,235.7 404.3,233.4 405.5,231.0 406.6,228.5 407.7,225.8 408.9,222.9 410.0,219.9 411.1,216.9 412.2,213.9 413.4,211.1 414.5,208.7 415.6,206.9 416.7,206.0 417.9,205.8 419.0,206.1 420.1,206.5 421.3,207.6 422.4,209.5 423.5,212.1 424.6,215.0 425.8,218.0 426.9,221.1 428.0,224.1 429.2,227.0 430.3,229.7 431.4,232.3 432.5,234.8 433.7,237.3 434.8,240.0 435.9,242.8 437.1,245.8 438.2,249.2 439.3,252.8 440.4,256.7 441.6,260.7 442.7,265.0 443.8,269.2 444.9,273.4 446.1,277.5 447.2,281.4 448.3,285.1" stroke="#faff00" stroke-opacity="0.22" stroke-width="0.7"/>
<path d="M376.1,283.6 377.3,280.8 378.4,277.8 379.5,274.7 380.7,271.5 381.8,268.5 382.9,265.6 384.0,262.8 385.2,260.2 386.3,257.8 387.4,255.3 388.5,252.9 389.7,250.3 390.8,247.8 391.9,245.1 393.1,242.5 394.2,239.9 395.3,237.6 396.4,235.4 397.6,233.5 398.7,231.8 399.8,230.3 401.0,228.8 402.1,227.2 403.2,225.5 404.3,223.6 405.5,221.3 406.6,218.9 407.7,216.3 408.9,213.7 410.0,211.3 411.1,209.2 412.2,207.6 413.4,206.6 414.5,206.3 415.6,206.4 416.7,206.5 417.9,206.6 419.0,206.7 420.1,206.7 421.3,206.6 422.4,206.5 423.5,206.6 424.6,207.4 425.8,208.9 426.9,211.0 428.0,213.5 429.2,216.4 430.3,219.5 431.4,222.6 432.5,225.6 433.7,228.4 434.8,231.0 435.9,233.3 437.1,235.4 438.2,237.4 439.3,239.4 440.4,241.5 441.6,243.8 442.7,246.4 443.8,249.2 444.9,252.1 446.1,255.3 447.2,258.4 448.3,261.5 449.5,264.6 450.6,267.5 451.7,270.4 452.8,273.3 454.0,276.2 455.1,279.3 456.2,282.5 457.4,285.9" stroke="#e4ff00" stroke-opacity="0.22" stroke-width="0.7"/>
<path d="M387.4,284.8 388.5,282.5 389.7,280.7 390.8,279.0 391.9,277.0 393.1,274.5 394.2,271.3 395.3,267.7 396.4,264.0 397.6,260.6 398.7,257.5 399.8,254.7 401.0,251.9 402.1,248.9 403.2,245.5 404.3,241.8 405.5,238.1 406.6,234.7 407.7,231.9 408.9,229.7 410.0,228.1 411.1,226.5 412.2,224.7 413.4,222.3 414.5,219.3 415.6,216.1 416.7,213.1 417.9,210.6 419.0,208.9 420.1,208.0 421.3,207.7 422.4,207.8 423.5,208.0 424.6,207.9 425.8,207.6 426.9,207.5 428.0,207.8 429.2,208.7 430.3,210.4 431.4,212.4 432.5,214.4 433.7,216.0 434.8,217.1 435.9,218.1 437.1,219.3 438.2,220.9 439.3,223.3 440.4,226.2 441.6,229.4 442.7,232.5 443.8,235.4 444.9,237.9 446.1,240.2 447.2,242.7 448.3,245.5 449.5,248.7 450.6,252.2 451.7,255.7 452.8,258.8 454.0,261.3 455.1,263.4 456.2,265.3 457.4,267.4 458.5,270.0 459.6,273.4 460.7,277.3 461.9,281.4 463.0,285.4" stroke="#ceff00" stroke-opacity="0.22" stroke-width="0.7"/>
<path d="M382.9,282.3 384.0,278.5 385.2,275.5 386.3,273.6 387.4,272.4 388.5,271.2 389.7,269.4 390.8,266.6 391.9,262.7 393.1,258.1 394.2,253.6 395.3,249.7 396.4,246.7 397.6,244.6 398.7,243.0 399.8,241.4 401.0,239.4 402.1,236.8 403.2,233.8 404.3,230.7 405.5,227.9 406.6,225.3 407.7,223.0 408.9,220.7 410.0,218.2 411.1,215.5 412.2,212.8 413.4,210.4 414.5,208.7 415.6,207.8 416.7,207.6 417.9,208.0 419.0,208.2 420.1,207.9 421.3,207.4 422.4,206.9 423.5,206.8 424.6,207.4 425.8,208.7 426.9,210.7 428.0,212.8 429.2,214.6 430.3,215.6 431.4,216.3 432.5,217.2 433.7,219.0 434.8,221.9 435.9,226.1 437.1,231.0 438.2,236.0 439.3,240.2 440.4,243.4 441.6,245.6 442.7,247.3 443.8,249.2 444.9,251.8 446.1,255.3 447.2,259.4 448.3,263.7 449.5,267.6 450.6,270.7 451.7,273.3 452.8,275.5 454.0,278.0 455.1,281.0 456.2,284.7 457.4,289.0" stroke="#b8ff00" stroke-opacity="0.22" stroke-width="0.7"/>
<path d="M384.0,283.2 385.2,280.6 386.3,277.9 387.4,275.0 388.5,272.0 389.7,269.1 390.8,266.5 391.9,264.4 393.1,262.7 394.2,261.3 395.3,259.6 396.4,257.6 397.6,254.9 398.7,251.6 399.8,247.9 401.0,244.3 402.1,241.0 403.2,238.3 404.3,236.2 405.5,234.5 406.6,232.7 407.7,230.8 408.9,228.5 410.0,225.8 411.1,223.0 412.2,220.3 413.4,217.8 414.5,215.7 415.6,213.8 416.7,212.0 417.9,210.1 419.0,208.1 420.1,206.3 421.3,205.1 422.4,204.3 423.5,204.2 424.6,204.8 425.8,206.0 426.9,208.0 428.0,210.3 429.2,212.6 430.3,214.5 431.4,216.2 432.5,217.9 433.7,219.7 434.8,222.0 435.9,224.7 437.1,227.7 438.2,230.8 439.3,233.8 440.4,236.6 441.6,239.2 442.7,241.7 443.8,244.5 444.9,247.7 446.1,251.2 447.2,254.9 448.3,258.4 449.5,261.5 450.6,263.9 451.7,265.7 452.8,267.2 454.0,268.6 455.1,270.5 456.2,273.0 457.4,276.2 458.5,279.8 459.6,283.5 460.7,287.1" stroke="#a3ff00" stroke-opacity="0.22" stroke-width="0.7"/>
<path d="M378.4,284.4 379.5,282.1 380.7,279.9 381.8,278.0 382.9,276.2 384.0,274.6 385.2,272.9 386.3,271.0 387.4,268.7 388.5,265.9 389.7,262.7 390.8,259.2 391.9,255.8 393.1,252.7 394.2,249.9 395.3,247.7 396.4,245.8 397.6,244.2 398.7,242.7 399.8,240.9 401.0,238.9 402.1,236.6 403.2,234.1 404.3,231.5 405.5,229.1 406.6,226.9 407.7,225.0 408.9,223.4 410.0,221.8 411.1,220.1 412.2,218.3 413.4,216.2 414.5,213.9 415.6,211.6 416.7,209.6 417.9,208.1 419.0,207.3 420.1,207.2 421.3,207.9 422.4,208.7 423.5,209.4 424.6,209.7 425.8,209.6 426.9,209.3 428.0,209.2 429.2,209.6 430.3,210.5 431.4,212.1 432.5,214.3 433.7,217.0 434.8,220.0 435.9,223.3 437.1,226.5 438.2,229.5 439.3,232.4 440.4,235.3 441.6,238.2 442.7,241.4 443.8,244.9 444.9,248.7 446.1,252.7 447.2,256.6 448.3,260.4 449.5,263.7 450.6,266.6 451.7,268.9 452.8,271.0 454.0,273.0 455.1,275.1 456.2,277.6 457.4,280.6 458.5,283.9 459.6,287.6" stroke="#8dff00" stroke-opacity="0.22" stroke-width="0.7"/>
<path d="M403.2,282.9 404.3,279.6 405.5,276.7 406.6,274.1 407.7,271.7 408.9,269.6 410.0,267.4 411.1,265.2 412.2,262.8 413.4,260.2 414.5,257.3 415.6,254.1 416.7,250.7 417.9,247.2 419.0,243.8 420.1,240.4 421.3,237.3 422.4,234.5 423.5,231.8 424.6,229.4 425.8,227.2 426.9,225.0 428.0,222.8 429.2,220.6 430.3,218.3 431.4,216.0 432.5,213.7 433.7,211.5 434.8,209.7 435.9,208.3 437.1,207.5 438.2,207.5 439.3,208.6 440.4,210.5 441.6,213.1 442.7,216.1 443.8,219.5 444.9,223.1 446.1,226.9 447.2,230.8 448.3,234.7 449.5,238.8 450.6,243.0 451.7,247.2 452.8,251.4 454.0,255.7 455.1,259.8 456.2,263.9 457.4,268.0 458.5,271.9 459.6,275.8 460.7,279.7 461.9,283.6 463.0,287.6" stroke="#77ff00" stroke-opacity="0.22" stroke-width="0.7"/>
<path d="M396.4,284.4 397.6,281.7 398.7,279.5 399.8,277.8 401.0,276.3 402.1,274.7 403.2,272.6 404.3,269.9 405.5,266.6 406.6,263.0 407.7,259.6 408.9,256.7 410.0,254.3 411.1,252.4 412.2,250.7 413.4,248.9 414.5,246.7 415.6,244.2 416.7,241.5 417.9,238.8 419.0,236.5 420.1,234.6 421.3,233.1 422.4,231.7 423.5,230.2 424.6,228.3 425.8,225.9 426.9,223.2 428.0,220.3 429.2,217.6 430.3,215.3 431.4,213.3 432.5,211.7 433.7,210.2 434.8,208.9 435.9,207.7 437.1,206.8 438.2,206.5 439.3,207.6 440.4,210.0 441.6,213.4 442.7,217.6 443.8,222.2 444.9,226.9 446.1,231.5 447.2,236.0 448.3,240.5 449.5,245.1 450.6,249.8 451.7,254.7 452.8,259.7 454.0,264.7 455.1,269.4 456.2,273.9 457.4,278.2 458.5,282.5 459.6,286.9" stroke="#62ff00" stroke-opacity="0.42" stroke-width="0.9"/>
<path d="M397.6,284.9 398.7,282.0 399.8,279.0 401.0,276.1 402.1,273.3 403.2,270.8 404.3,268.6 405.5,266.6 406.6,264.4 407.7,262.1 408.9,259.6 410.0,256.8 411.1,254.1 412.2,251.6 413.4,249.4 414.5,247.5 415.6,245.8 416.7,244.1 417.9,242.2 419.0,240.0 420.1,237.5 421.3,234.9 422.4,232.3 423.5,229.8 424.6,227.7 425.8,225.7 426.9,223.7 428.0,221.6 429.2,219.3 430.3,216.7 431.4,214.0 432.5,211.4 433.7,209.2 434.8,207.6 435.9,206.6 437.1,206.4 438.2,206.8 439.3,208.1 440.4,210.1 441.6,212.6 442.7,215.6 443.8,219.0 444.9,223.1 446.1,227.7 447.2,232.6 448.3,237.8 449.5,242.8 450.6,247.7 451.7,252.4 452.8,256.8 454.0,261.3 455.1,265.9 456.2,270.7 457.4,275.8 458.5,280.9 459.6,285.9" stroke="#4cff00" stroke-opacity="0.22" stroke-width="0.7"/>
<path d="M401.0,283.3 402.1,280.6 403.2,277.5 404.3,274.0 405.5,270.3 406.6,266.6 407.7,263.2 408.9,260.3 410.0,257.8 411.1,255.6 412.2,253.5 413.4,251.3 414.5,248.7 415.6,245.8 416.7,242.5 417.9,239.1 419.0,235.7 420.1,232.5 421.3,229.6 422.4,226.9 423.5,224.3 424.6,221.7 425.8,219.0 426.9,216.4 428.0,213.8 429.2,211.6 430.3,209.8 431.4,208.7 432.5,208.3 433.7,208.6 434.8,209.6 435.9,211.3 437.1,213.3 438.2,215.6 439.3,218.2 440.4,221.1 441.6,224.5 442.7,228.4 443.8,233.0 444.9,237.9 446.1,242.9 447.2,247.8 448.3,252.3 449.5,256.5 450.6,260.4 451.7,264.3 452.8,268.3 454.0,272.8 455.1,277.7 456.2,283.0 457.4,288.4" stroke="#36ff00" stroke-opacity="0.22" stroke-width="0.7"/>
<path d="M398.7,283.9 399.8,281.3 401.0,278.4 402.1,275.2 403.2,272.1 404.3,269.3 405.5,266.8 406.6,264.7 407.7,262.5 408.9,260.2 410.0,257.4 411.1,254.3 412.2,250.8 413.4,247.4 414.5,244.2 415.6,241.3 416.7,238.8 417.9,236.4 419.0,234.0 420.1,231.3 421.3,228.4 422.4,225.4 423.5,222.5 424.6,219.9 425.8,217.8 426.9,216.0 428.0,214.5 429.2,213.0 430.3,211.5 431.4,210.0 432.5,208.8 433.7,208.1 434.8,208.4 435.9,209.7 437.1,212.0 438.2,214.8 439.3,217.8 440.4,220.8 441.6,223.7 442.7,226.6 443.8,229.8 444.9,233.3 446.1,237.2 447.2,241.4 448.3,245.8 449.5,250.1 450.6,254.1 451.7,258.0 452.8,261.8 454.0,265.7 455.1,269.8 456.2,274.3 457.4,278.9 458.5,283.5 459.6,287.9" stroke="#21ff00" stroke-opacity="0.22" stroke-width="0.7"/>
<path d="M395.3,282.0 396.4,279.4 397.6,277.5 398.7,276.1 399.8,274.8 401.0,273.2 402.1,271.0 403.2,268.2 404.3,264.9 405.5,261.5 406.6,258.4 407.7,255.9 408.9,253.8 410.0,251.9 411.1,249.9 412.2,247.5 413.4,244.5 414.5,241.0 415.6,237.5 416.7,234.3 417.9,231.8 419.0,230.1 420.1,228.9 421.3,227.9 422.4,226.6 423.5,224.7 424.6,222.0 425.8,218.8 426.9,215.5 428.0,212.6 429.2,210.5 430.3,209.2 431.4,208.6 432.5,208.4 433.7,208.5 434.8,208.7 435.9,209.2 437.1,210.4 438.2,212.3 439.3,215.2 440.4,219.1 441.6,223.8 442.7,228.9 443.8,233.7 444.9,237.8 446.1,241.2 447.2,243.9 448.3,246.5 449.5,249.3 450.6,252.9 451.7,257.2 452.8,262.0 454.0,267.1 455.1,271.8 456.2,276.0 457.4,279.6 458.5,282.9 459.6,286.2" stroke="#0bff00" stroke-opacity="0.22" stroke-width="0.7"/>
<path d="M396.4,283.3 397.6,280.4 398.7,277.6 399.8,275.2 401.0,273.0 402.1,271.1 403.2,269.2 404.3,267.3 405.5,265.2 406.6,262.8 407.7,260.1 408.9,257.0 410.0,253.8 411.1,250.5 412.2,247.2 413.4,244.2 414.5,241.4 415.6,238.9 416.7,236.7 417.9,234.7 419.0,232.7 420.1,230.8 421.3,228.7 422.4,226.5 423.5,224.2 424.6,221.8 425.8,219.4 426.9,217.0 428.0,214.8 429.2,212.8 430.3,211.0 431.4,209.6 432.5,208.4 433.7,207.8 434.8,207.8 435.9,208.9 437.1,210.8 438.2,213.5 439.3,216.9 440.4,221.0 441.6,225.5 442.7,230.6 443.8,236.0 444.9,241.6 446.1,247.2 447.2,252.6 448.3,257.8 449.5,262.7 450.6,267.3 451.7,271.7 452.8,276.1 454.0,280.5 455.1,285.0" stroke="#00ff0b" stroke-opacity="0.22" stroke-width="0.7"/>
<path d="M403.2,282.5 404.3,279.8 405.5,277.2 406.6,274.5 407.7,271.7 408.9,268.8 410.0,265.8 411.1,263.0 412.2,260.5 413.4,258.2 414.5,256.0 415.6,253.7 416.7,251.0 417.9,247.9 419.0,244.5 420.1,241.1 421.3,237.9 422.4,235.2 423.5,232.9 424.6,230.7 425.8,228.5 426.9,225.9 428.0,222.7 429.2,219.2 430.3,215.7 431.4,212.7 432.5,210.4 433.7,209.0 434.8,208.5 435.9,208.7 437.1,209.2 438.2,209.8 439.3,210.8 440.4,212.3 441.6,214.3 442.7,217.1 443.8,220.8 444.9,225.3 446.1,230.2 447.2,235.2 448.3,240.0 449.5,244.3 450.6,248.2 451.7,251.9 452.8,255.7 454.0,259.9 455.1,264.6 456.2,269.7 457.4,275.0 458.5,280.3 459.6,285.4" stroke="#00ff21" stroke-opacity="0.22" stroke-width="0.7"/>
<path d="M401.0,284.5 402.1,282.8 403.2,281.3 404.3,279.6 405.5,277.4 406.6,274.6 407.7,271.1 408.9,267.1 410.0,262.9 411.1,259.0 412.2,255.5 413.4,252.6 414.5,250.5 415.6,248.9 416.7,247.6 417.9,246.1 419.0,244.2 420.1,241.7 421.3,238.5 422.4,235.0 423.5,231.3 424.6,227.8 425.8,224.8 426.9,222.5 428.0,220.8 429.2,219.5 430.3,218.3 431.4,217.0 432.5,215.3 433.7,213.1 434.8,210.7 435.9,208.2 437.1,206.3 438.2,205.4 439.3,206.0 440.4,208.2 441.6,211.6 442.7,215.9 443.8,220.7 444.9,225.4 446.1,229.8 447.2,233.6 448.3,236.9 449.5,240.0 450.6,243.0 451.7,246.5 452.8,250.4 454.0,255.1 455.1,260.3 456.2,265.7 457.4,271.1 458.5,276.2 459.6,280.6 460.7,284.3 461.9,287.5" stroke="#00ff36" stroke-opacity="0.22" stroke-width="0.7"/>
<path d="M405.5,283.5 406.6,280.4 407.7,277.4 408.9,274.4 410.0,271.3 411.1,267.9 412.2,264.4 413.4,260.8 414.5,257.1 415.6,253.5 416.7,250.1 417.9,247.1 419.0,244.4 420.1,242.0 421.3,239.9 422.4,237.8 423.5,235.7 424.6,233.4 425.8,230.8 426.9,228.1 428.0,225.2 429.2,222.3 430.3,219.6 431.4,217.0 432.5,214.7 433.7,212.7 434.8,211.1 435.9,209.8 437.1,209.0 438.2,208.7 439.3,209.1 440.4,210.2 441.6,211.8 442.7,214.0 443.8,216.8 444.9,220.2 446.1,224.0 447.2,228.3 448.3,232.8 449.5,237.4 450.6,241.9 451.7,246.3 452.8,250.5 454.0,254.6 455.1,258.6 456.2,262.6 457.4,266.7 458.5,271.0 459.6,275.4 460.7,279.9 461.9,284.4 463.0,288.8" stroke="#00ff4c" stroke-opacity="0.22" stroke-width="0.7"/>
<path d="M398.7,282.6 399.8,279.8 401.0,276.9 402.1,274.0 403.2,271.3 404.3,268.8 405.5,266.6 406.6,264.5 407.7,262.4 408.9,260.3 410.0,257.9 411.1,255.3 412.2,252.5 413.4,249.8 414.5,247.3 415.6,245.0 416.7,242.9 417.9,241.0 419.0,239.0 420.1,236.9 421.3,234.5 422.4,231.8 423.5,228.9 424.6,226.0 425.8,223.2 426.9,220.9 428.0,218.9 429.2,217.3 430.3,216.0 431.4,214.7 432.5,213.4 433.7,211.8 434.8,210.2 435.9,208.7 437.1,207.5 438.2,207.1 439.3,207.9 440.4,209.8 441.6,212.6 442.7,216.2 443.8,220.1 444.9,224.1 446.1,228.2 447.2,232.2 448.3,236.1 449.5,240.0 450.6,243.9 451.7,247.8 452.8,251.7 454.0,255.7 455.1,259.7 456.2,263.8 457.4,267.9 458.5,272.2 459.6,276.7 460.7,281.4 461.9,286.3" stroke="#00ff62" stroke-opacity="0.22" stroke-width="0.7"/>
<path d="M403.2,284.5 404.3,282.4 405.5,279.9 406.6,277.1 407.7,273.7 408.9,270.1 410.0,266.4 411.1,263.0 412.2,260.0 413.4,257.4 414.5,255.2 415.6,252.9 416.7,250.6 417.9,248.0 419.0,245.3 420.1,242.3 421.3,239.2 422.4,236.1 423.5,233.0 424.6,229.9 425.8,226.8 426.9,223.8 428.0,221.2 429.2,218.9 430.3,217.1 431.4,215.5 432.5,214.1 433.7,212.7 434.8,211.0 435.9,209.2 437.1,207.7 438.2,207.0 439.3,207.7 440.4,210.0 441.6,213.6 442.7,218.1 443.8,223.1 444.9,228.0 446.1,232.6 447.2,236.9 448.3,240.9 449.5,245.1 450.6,249.7 451.7,254.7 452.8,260.1 454.0,265.6 455.1,271.0 456.2,276.1 457.4,280.9 458.5,285.5" stroke="#00ff77" stroke-opacity="0.42" stroke-width="0.9"/>
<path d="M397.6,283.0 398.7,280.3 399.8,278.1 401.0,276.3 402.1,274.6 403.2,272.9 404.3,271.0 405.5,268.7 406.6,266.1 407.7,263.1 408.9,259.9 410.0,256.9 411.1,254.1 412.2,251.6 413.4,249.6 414.5,247.7 415.6,245.9 416.7,244.0 417.9,241.7 419.0,239.1 420.1,236.3 421.3,233.4 422.4,230.6 423.5,228.1 424.6,226.0 425.8,224.2 426.9,222.6 428.0,221.0 429.2,219.2 430.3,217.0 431.4,214.5 432.5,211.9 433.7,209.4 434.8,207.5 435.9,206.3 437.1,206.2 438.2,207.3 439.3,209.5 440.4,212.6 441.6,215.9 442.7,219.1 443.8,222.1 444.9,224.8 446.1,227.4 447.2,230.3 448.3,233.7 449.5,237.7 450.6,242.5 451.7,247.8 452.8,253.4 454.0,258.8 455.1,263.8 456.2,268.3 457.4,272.1 458.5,275.5 459.6,278.8 460.7,282.2 461.9,286.0" stroke="#00ff8d" stroke-opacity="0.22" stroke-width="0.7"/>
<path d="M408.9,282.0 410.0,277.5 411.1,273.0 412.2,269.1 413.4,266.0 414.5,263.6 415.6,261.6 416.7,259.4 417.9,256.6 419.0,252.9 420.1,248.3 421.3,243.5 422.4,238.9 423.5,235.1 424.6,232.4 425.8,230.6 426.9,229.1 428.0,227.4 429.2,224.8 430.3,221.2 431.4,216.9 432.5,212.6 433.7,209.1 434.8,206.9 435.9,206.3 437.1,207.3 438.2,209.2 439.3,211.6 440.4,213.9 441.6,215.7 442.7,217.1 443.8,218.9 444.9,221.3 446.1,225.0 447.2,229.7 448.3,235.3 449.5,241.0 450.6,246.2 451.7,250.5 452.8,253.9 454.0,256.8 455.1,259.6 456.2,263.0 457.4,267.2 458.5,272.2 459.6,277.8 460.7,283.4 461.9,288.6" stroke="#00ffa3" stroke-opacity="0.22" stroke-width="0.7"/>
<path d="M403.2,283.8 404.3,280.1 405.5,276.2 406.6,272.1 407.7,268.3 408.9,264.9 410.0,262.1 411.1,259.7 412.2,257.7 413.4,255.9 414.5,254.0 415.6,251.8 416.7,249.3 417.9,246.6 419.0,243.7 420.1,240.8 421.3,238.0 422.4,235.4 423.5,232.8 424.6,230.3 425.8,227.7 426.9,225.0 428.0,222.2 429.2,219.4 430.3,216.8 431.4,214.4 432.5,212.5 433.7,211.0 434.8,209.9 435.9,209.1 437.1,208.7 438.2,208.6 439.3,209.0 440.4,210.0 441.6,211.6 442.7,213.9 443.8,216.9 444.9,220.6 446.1,225.0 447.2,229.9 448.3,234.9 449.5,239.8 450.6,244.5 451.7,248.8 452.8,252.7 454.0,256.3 455.1,259.9 456.2,263.4 457.4,267.1 458.5,271.0 459.6,274.9 460.7,278.8 461.9,282.7 463.0,286.5" stroke="#00ffb8" stroke-opacity="0.22" stroke-width="0.7"/>
<path d="M393.1,284.2 394.2,282.3 395.3,280.6 396.4,278.7 397.6,276.6 398.7,274.3 399.8,271.8 401.0,269.0 402.1,266.2 403.2,263.3 404.3,260.7 405.5,258.3 406.6,256.1 407.7,254.0 408.9,252.1 410.0,250.1 411.1,247.9 412.2,245.5 413.4,242.7 414.5,239.6 415.6,236.3 416.7,233.1 417.9,229.9 419.0,227.1 420.1,224.6 421.3,222.6 422.4,221.0 423.5,219.8 424.6,218.7 425.8,217.6 426.9,216.4 428.0,215.0 429.2,213.4 430.3,211.8 431.4,210.3 432.5,209.2 433.7,208.6 434.8,208.9 435.9,210.5 437.1,213.0 438.2,216.3 439.3,219.9 440.4,223.8 441.6,227.6 442.7,231.2 443.8,234.8 444.9,238.3 446.1,241.8 447.2,245.4 448.3,249.4 449.5,253.7 450.6,258.5 451.7,263.6 452.8,268.9 454.0,274.4 455.1,279.7 456.2,284.8 457.4,289.0" stroke="#00ffce" stroke-opacity="0.22" stroke-width="0.7"/>
<path d="M408.9,282.8 410.0,279.9 411.1,276.7 412.2,273.2 413.4,269.6 414.5,265.9 415.6,262.3 416.7,258.8 417.9,255.3 419.0,251.8 420.1,248.2 421.3,244.5 422.4,240.8 423.5,237.0 424.6,233.4 425.8,230.1 426.9,227.1 428.0,224.5 429.2,222.1 430.3,219.8 431.4,217.4 432.5,215.0 433.7,212.5 434.8,210.1 435.9,208.1 437.1,206.9 438.2,206.8 439.3,208.1 440.4,210.5 441.6,213.9 442.7,217.9 443.8,222.1 444.9,226.3 446.1,230.5 447.2,234.5 448.3,238.5 449.5,242.5 450.6,246.6 451.7,250.9 452.8,255.3 454.0,259.7 455.1,264.1 456.2,268.5 457.4,272.8 458.5,277.1 459.6,281.6 460.7,286.3" stroke="#00ffe4" stroke-opacity="0.22" stroke-width="0.7"/>
<path d="M407.7,283.9 408.9,280.6 410.0,277.1 411.1,273.4 412.2,269.5 413.4,265.5 414.5,261.6 415.6,257.8 416.7,254.3 417.9,251.1 419.0,248.2 420.1,245.5 421.3,242.9 422.4,240.3 423.5,237.5 424.6,234.6 425.8,231.4 426.9,228.0 428.0,224.5 429.2,221.0 430.3,217.7 431.4,214.8 432.5,212.2 433.7,210.2 434.8,208.8 435.9,208.1 437.1,208.0 438.2,208.7 439.3,210.2 440.4,212.5 441.6,215.2 442.7,218.2 443.8,221.6 444.9,225.3 446.1,229.2 447.2,233.5 448.3,238.0 449.5,242.8 450.6,247.6 451.7,252.4 452.8,257.0 454.0,261.4 455.1,265.6 456.2,269.5 457.4,273.4 458.5,277.2 459.6,281.2 460.7,285.4" stroke="#00fffa" stroke-opacity="0.22" stroke-width="0.7"/>
<path d="M399.8,285.0 401.0,281.8 402.1,278.5 403.2,275.3 404.3,272.2 405.5,269.2 406.6,266.5 407.7,264.0 408.9,261.7 410.0,259.5 411.1,257.3 412.2,255.0 413.4,252.6 414.5,250.1 415.6,247.4 416.7,244.6 417.9,241.8 419.0,239.1 420.1,236.4 421.3,233.9 422.4,231.6 423.5,229.5 424.6,227.5 425.8,225.5 426.9,223.6 428.0,221.6 429.2,219.6 430.3,217.5 431.4,215.4 432.5,213.3 433.7,211.4 434.8,209.8 435.9,208.7 437.1,208.2 438.2,208.5 439.3,209.7 440.4,211.8 441.6,214.4 442.7,217.4 443.8,220.5 444.9,223.7 446.1,226.9 447.2,230.1 448.3,233.4 449.5,236.9 450.6,240.6 451.7,244.6 452.8,248.9 454.0,253.5 455.1,258.3 456.2,263.4 457.4,268.4 458.5,273.5 459.6,278.4 460.7,283.1 461.9,287.5" stroke="#00efff" stroke-opacity="0.22" stroke-width="0.7"/>
<path d="M399.8,284.9 401.0,283.4 402.1,281.8 403.2,279.8 404.3,277.2 405.5,273.9 406.6,270.3 407.7,266.6 408.9,263.1 410.0,260.2 411.1,257.7 412.2,255.6 413.4,253.6 414.5,251.6 415.6,249.3 416.7,246.9 417.9,244.2 419.0,241.5 420.1,238.8 421.3,236.2 422.4,233.6 423.5,231.1 424.6,228.7 425.8,226.2 426.9,223.7 428.0,221.1 429.2,218.5 430.3,215.9 431.4,213.4 432.5,211.2 433.7,209.4 434.8,208.4 435.9,208.0 437.1,208.4 438.2,209.4 439.3,211.1 440.4,213.2 441.6,215.4 442.7,217.6 443.8,220.1 444.9,223.1 446.1,226.8 447.2,231.3 448.3,236.3 449.5,241.6 450.6,246.6 451.7,251.3 452.8,255.4 454.0,259.2 455.1,263.1 456.2,267.3 457.4,272.2 458.5,277.5 459.6,283.1 460.7,288.4" stroke="#00d9ff" stroke-opacity="0.22" stroke-width="0.7"/>
<path d="M404.3,284.0 405.5,280.9 406.6,277.2 407.7,273.2 408.9,269.0 410.0,265.1 411.1,261.6 412.2,259.0 413.4,257.0 414.5,255.6 415.6,254.5 416.7,253.1 417.9,251.2 419.0,248.6 420.1,245.2 421.3,241.4 422.4,237.3 423.5,233.3 424.6,229.7 425.8,226.5 426.9,223.8 428.0,221.4 429.2,219.1 430.3,216.7 431.4,214.2 432.5,211.8 433.7,209.6 434.8,208.0 435.9,207.2 437.1,207.4 438.2,208.5 439.3,210.6 440.4,213.2 441.6,215.9 442.7,218.5 443.8,221.0 444.9,223.4 446.1,226.0 447.2,229.0 448.3,232.7 449.5,236.9 450.6,241.7 451.7,246.6 452.8,251.4 454.0,255.7 455.1,259.5 456.2,262.7 457.4,265.7 458.5,268.7 459.6,272.1 460.7,276.1 461.9,280.9 463.0,286.1" stroke="#00c3ff" stroke-opacity="0.22" stroke-width="0.7"/>
<path d="M405.5,283.8 406.6,281.1 407.7,278.7 408.9,276.6 410.0,274.7 411.1,272.6 412.2,270.2 413.4,267.6 414.5,264.7 415.6,261.7 416.7,258.9 417.9,256.4 419.0,254.3 420.1,252.3 421.3,250.5 422.4,248.5 423.5,246.2 424.6,243.5 425.8,240.4 426.9,237.2 428.0,234.0 429.2,231.3 430.3,229.0 431.4,227.3 432.5,226.0 433.7,224.8 434.8,223.5 435.9,221.8 437.1,219.6 438.2,217.1 439.3,214.3 440.4,211.7 441.6,209.4 442.7,207.8 443.8,207.2 444.9,207.4 446.1,208.9 447.2,211.3 448.3,214.2 449.5,217.3 450.6,220.6 451.7,224.1 452.8,228.0 454.0,232.2 455.1,237.0 456.2,242.1 457.4,247.3 458.5,252.4 459.6,257.2 460.7,261.6 461.9,265.6 463.0,269.4 464.1,273.2 465.3,277.3 466.4,281.9 467.5,287.1" stroke="#00aeff" stroke-opacity="0.22" stroke-width="0.7"/>
<path d="M407.7,282.7 408.9,280.5 410.0,278.5 411.1,276.8 412.2,275.1 413.4,273.5 414.5,271.6 415.6,269.5 416.7,267.1 417.9,264.2 419.0,260.9 420.1,257.3 421.3,253.4 422.4,249.6 423.5,245.8 424.6,242.4 425.8,239.3 426.9,236.8 428.0,234.7 429.2,233.0 430.3,231.7 431.4,230.4 432.5,229.2 433.7,227.7 434.8,225.9 435.9,223.7 437.1,221.1 438.2,218.2 439.3,215.0 440.4,211.9 441.6,209.1 442.7,206.8 443.8,205.4 444.9,205.0 446.1,206.1 447.2,208.5 448.3,211.9 449.5,215.9 450.6,220.2 451.7,224.6 452.8,229.0 454.0,233.2 455.1,237.1 456.2,240.8 457.4,244.4 458.5,247.9 459.6,251.5 460.7,255.2 461.9,259.1 463.0,263.3 464.1,267.7 465.3,272.2 466.4,276.9 467.5,281.6 468.6,286.2" stroke="#0098ff" stroke-opacity="0.22" stroke-width="0.7"/>
<path d="M406.6,282.1 407.7,278.8 408.9,275.4 410.0,272.2 411.1,269.5 412.2,267.2 413.4,265.4 414.5,263.7 415.6,261.9 416.7,259.8 417.9,257.3 419.0,254.5 420.1,251.7 421.3,249.1 422.4,246.9 423.5,245.2 424.6,243.7 425.8,242.3 426.9,240.6 428.0,238.4 429.2,235.7 430.3,232.8 431.4,229.8 432.5,227.0 433.7,224.6 434.8,222.6 435.9,220.9 437.1,219.1 438.2,217.0 439.3,214.6 440.4,211.9 441.6,209.3 442.7,207.2 443.8,205.9 444.9,205.7 446.1,207.2 447.2,210.0 448.3,213.6 449.5,217.4 450.6,221.2 451.7,225.0 452.8,228.9 454.0,233.1 455.1,237.8 456.2,243.1 457.4,248.8 458.5,254.7 459.6,260.4 460.7,265.8 461.9,270.8 463.0,275.4 464.1,280.0 465.3,284.7 466.4,289.0" stroke="#0082ff" stroke-opacity="0.22" stroke-width="0.7"/>
<path d="M408.9,284.5 410.0,281.3 411.1,278.0 412.2,274.8 413.4,271.6 414.5,268.6 415.6,265.9 416.7,263.4 417.9,261.2 419.0,259.1 420.1,257.1 421.3,255.1 422.4,253.0 423.5,250.6 424.6,247.9 425.8,245.0 426.9,241.9 428.0,238.6 429.2,235.2 430.3,231.9 431.4,228.9 432.5,226.0 433.7,223.5 434.8,221.4 435.9,219.5 437.1,217.9 438.2,216.3 439.3,214.9 440.4,213.4 441.6,211.9 442.7,210.6 443.8,209.4 444.9,208.8 446.1,209.1 447.2,210.2 448.3,212.2 449.5,214.9 450.6,218.1 451.7,221.9 452.8,226.2 454.0,230.8 455.1,235.6 456.2,240.5 457.4,245.4 458.5,250.1 459.6,254.6 460.7,258.8 461.9,262.8 463.0,266.6 464.1,270.2 465.3,273.8 466.4,277.5 467.5,281.3 468.6,285.4" stroke="#006dff" stroke-opacity="0.22" stroke-width="0.7"/>
<path d="M406.6,283.9 407.7,281.7 408.9,279.6 410.0,277.0 411.1,274.1 412.2,270.8 413.4,267.5 414.5,264.6 415.6,262.4 416.7,260.6 417.9,259.1 419.0,257.4 420.1,255.1 421.3,252.1 422.4,248.7 423.5,245.2 424.6,242.1 425.8,239.7 426.9,237.9 428.0,236.5 429.2,234.9 430.3,233.0 431.4,230.5 432.5,227.6 433.7,224.8 434.8,222.3 435.9,220.2 437.1,218.5 438.2,216.7 439.3,214.7 440.4,212.2 441.6,209.5 442.7,207.0 443.8,205.4 444.9,205.1 446.1,206.7 447.2,209.9 448.3,214.0 449.5,218.2 450.6,222.3 451.7,226.0 452.8,229.6 454.0,233.4 455.1,237.7 456.2,242.5 457.4,247.6 458.5,252.7 459.6,257.4 460.7,261.6 461.9,265.5 463.0,269.4 464.1,273.7 465.3,278.7 466.4,284.2 467.5,289.0" stroke="#0057ff" stroke-opacity="0.42" stroke-width="0.9"/>
<path d="M406.6,283.0 407.7,280.8 408.9,278.4 410.0,275.8 411.1,273.1 412.2,270.1 413.4,267.1 414.5,264.3 415.6,261.6 416.7,259.2 417.9,257.1 419.0,255.2 420.1,253.4 421.3,251.4 422.4,249.3 423.5,246.8 424.6,244.0 425.8,241.0 426.9,237.9 428.0,235.0 429.2,232.3 430.3,229.8 431.4,227.6 432.5,225.6 433.7,223.6 434.8,221.6 435.9,219.5 437.1,217.2 438.2,214.8 439.3,212.5 440.4,210.5 441.6,209.0 442.7,208.1 443.8,208.0 444.9,208.7 446.1,210.4 447.2,213.0 448.3,216.1 449.5,219.3 450.6,222.4 451.7,225.6 452.8,228.8 454.0,232.2 455.1,235.9 456.2,239.9 457.4,244.1 458.5,248.5 459.6,253.0 460.7,257.3 461.9,261.6 463.0,265.6 464.1,269.6 465.3,273.6 466.4,277.7 467.5,282.1 468.6,286.8" stroke="#0041ff" stroke-opacity="0.22" stroke-width="0.7"/>
<path d="M404.3,281.8 405.5,278.4 406.6,275.3 407.7,272.7 408.9,270.6 410.0,268.9 411.1,267.3 412.2,265.5 413.4,263.4 414.5,260.9 415.6,258.3 416.7,255.8 417.9,253.6 419.0,251.6 420.1,249.7 421.3,247.8 422.4,245.7 423.5,243.1 424.6,240.2 425.8,237.3 426.9,234.6 428.0,232.4 429.2,230.7 430.3,229.3 431.4,228.0 432.5,226.5 433.7,224.5 434.8,222.0 435.9,219.2 437.1,216.4 438.2,213.8 439.3,211.7 440.4,210.1 441.6,208.8 442.7,207.9 443.8,207.2 444.9,207.0 446.1,207.9 447.2,210.1 448.3,213.6 449.5,218.0 450.6,223.2 451.7,228.6 452.8,233.8 454.0,238.7 455.1,242.9 456.2,246.8 457.4,250.4 458.5,254.3 459.6,258.5 460.7,263.3 461.9,268.5 463.0,273.8 464.1,279.1 465.3,284.3 466.4,289.0" stroke="#002bff" stroke-opacity="0.22" stroke-width="0.7"/>
<path d="M402.1,283.4 403.2,280.4 404.3,276.8 405.5,273.0 406.6,269.6 407.7,267.0 408.9,265.2 410.0,264.0 411.1,263.1 412.2,262.1 413.4,260.5 414.5,258.3 415.6,255.6 416.7,252.7 417.9,249.9 419.0,247.6 420.1,245.8 421.3,244.4 422.4,243.2 423.5,241.8 424.6,239.9 425.8,237.6 426.9,234.8 428.0,231.7 429.2,228.8 430.3,226.1 431.4,223.8 432.5,222.0 433.7,220.5 434.8,219.1 435.9,217.8 437.1,216.5 438.2,215.0 439.3,213.5 440.4,212.0 441.6,210.6 442.7,209.3 443.8,208.4 444.9,208.0 446.1,208.7 447.2,210.6 448.3,213.4 449.5,217.1 450.6,221.4 451.7,226.0 452.8,230.6 454.0,235.3 455.1,239.7 456.2,243.9 457.4,248.2 458.5,252.7 459.6,257.7 460.7,263.1 461.9,268.9 463.0,274.8 464.1,280.5 465.3,285.7" stroke="#0016ff" stroke-opacity="0.22" stroke-width="0.7"/>
<path d="M398.7,283.1 399.8,280.7 401.0,278.5 402.1,276.7 403.2,275.0 404.3,273.5 405.5,272.0 406.6,270.5 407.7,268.9 408.9,267.0 410.0,264.9 411.1,262.7 412.2,260.2 413.4,257.8 414.5,255.3 415.6,253.0 416.7,250.8 417.9,248.7 419.0,246.8 420.1,244.9 421.3,243.0 422.4,241.0 423.5,239.1 424.6,237.0 425.8,234.9 426.9,232.8 428.0,230.8 429.2,228.8 430.3,226.9 431.4,225.1 432.5,223.3 433.7,221.6 434.8,219.9 435.9,218.2 437.1,216.4 438.2,214.6 439.3,212.7 440.4,211.0 441.6,209.4 442.7,208.2 443.8,207.4 444.9,207.3 446.1,208.3 447.2,210.4 448.3,213.4 449.5,216.9 450.6,220.8 451.7,224.9 452.8,229.3 454.0,233.8 455.1,238.4 456.2,243.1 457.4,247.8 458.5,252.6 459.6,257.4 460.7,262.1 461.9,266.7 463.0,271.2 464.1,275.6 465.3,279.9 466.4,284.2 467.5,288.6" stroke="#0000ff" stroke-opacity="0.22" stroke-width="0.7"/>
</g>
<g font-family="Liberation Sans, sans-serif" font-size="6.6" fill="#222">
<text x="370.4" y="286.0" text-anchor="middle" textLength="17.8" lengthAdjust="spacingAndGlyphs">−400</text>
<text x="398.9" y="286.0" text-anchor="middle" textLength="17.8" lengthAdjust="spacingAndGlyphs">−200</text>
<text x="426.9" y="286.0" text-anchor="middle" textLength="3.7" lengthAdjust="spacingAndGlyphs">0</text>
<text x="454.5" y="286.0" text-anchor="middle" textLength="10.6" lengthAdjust="spacingAndGlyphs">200</text>
<text x="483.0" y="286.0" text-anchor="middle" textLength="10.6" lengthAdjust="spacingAndGlyphs">400</text>
<text x="355.8" y="210.1" text-anchor="end" textLength="10.8" lengthAdjust="spacingAndGlyphs">1.0</text>
<text x="355.8" y="283.8" text-anchor="end" textLength="10.8" lengthAdjust="spacingAndGlyphs">0.8</text>
</g>
<text x="421.4" y="148.8" text-anchor="middle" font-family="Liberation Sans, sans-serif" font-weight="bold" font-size="16" fill="#f0003c">aSTG</text>
<g clip-path="url(#pc3)" fill="none" stroke-width="0.6" stroke-linejoin="round">
<path d="M557.7,278.6 558.8,273.9 560.0,269.3 561.1,264.7 562.3,260.1 563.5,255.5 564.6,250.9 565.8,246.4 566.9,241.8 568.1,237.3 569.3,232.9 570.4,228.5 571.6,224.2 572.7,220.0 573.9,216.1 575.1,212.4 576.2,209.2 577.4,206.9 578.5,205.7 579.7,206.2 580.9,208.5 582.0,211.9 583.2,216.2 584.3,221.0 585.5,226.0 586.7,231.3 587.8,236.7 589.0,242.2 590.1,247.7 591.3,253.3 592.5,258.9 593.6,264.6 594.8,270.3 595.9,276.0 597.1,281.7 598.3,286.6" stroke="#ff0000" stroke-opacity="0.22" stroke-width="0.7"/>
<path d="M557.7,279.1 558.8,274.4 560.0,269.7 561.1,265.1 562.3,260.4 563.5,255.8 564.6,251.2 565.8,246.6 566.9,242.1 568.1,237.5 569.3,233.1 570.4,228.6 571.6,224.3 572.7,220.1 573.9,216.1 575.1,212.4 576.2,209.3 577.4,206.9 578.5,205.7 579.7,206.2 580.9,208.4 582.0,211.8 583.2,216.0 584.3,220.7 585.5,225.7 586.7,230.9 587.8,236.2 589.0,241.6 590.1,247.0 591.3,252.5 592.5,258.1 593.6,263.7 594.8,269.3 595.9,274.9 597.1,280.5 598.3,286.2" stroke="#ff1600" stroke-opacity="0.22" stroke-width="0.7"/>
<path d="M557.7,278.0 558.8,273.4 560.0,268.8 561.1,264.2 562.3,259.7 563.5,255.1 564.6,250.6 565.8,246.0 566.9,241.5 568.1,237.1 569.3,232.7 570.4,228.3 571.6,224.1 572.7,219.9 573.9,216.0 575.1,212.3 576.2,209.2 577.4,206.9 578.5,205.7 579.7,206.2 580.9,208.4 582.0,211.9 583.2,216.1 584.3,220.9 585.5,225.9 586.7,231.1 587.8,236.4 589.0,241.9 590.1,247.4 591.3,252.9 592.5,258.5 593.6,264.1 594.8,269.8 595.9,275.4 597.1,281.1 598.3,286.6" stroke="#ff2b00" stroke-opacity="0.22" stroke-width="0.7"/>
<path d="M556.5,280.3 557.7,275.8 558.8,271.4 560.0,266.9 561.1,262.5 562.3,258.0 563.5,253.6 564.6,249.2 565.8,244.8 566.9,240.5 568.1,236.1 569.3,231.9 570.4,227.6 571.6,223.5 572.7,219.5 573.9,215.7 575.1,212.1 576.2,209.1 577.4,206.8 578.5,205.7 579.7,206.2 580.9,208.4 582.0,211.8 583.2,216.1 584.3,220.7 585.5,225.7 586.7,230.9 587.8,236.2 589.0,241.6 590.1,247.1 591.3,252.6 592.5,258.2 593.6,263.7 594.8,269.3 595.9,275.0 597.1,280.6 598.3,286.3" stroke="#ff4100" stroke-opacity="0.22" stroke-width="0.7"/>
<path d="M557.7,279.0 558.8,274.3 560.0,269.6 561.1,265.0 562.3,260.4 563.5,255.7 564.6,251.1 565.8,246.6 566.9,242.0 568.1,237.5 569.3,233.0 570.4,228.6 571.6,224.3 572.7,220.1 573.9,216.1 575.1,212.4 576.2,209.2 577.4,206.9 578.5,205.7 579.7,206.2 580.9,208.5 582.0,212.0 583.2,216.3 584.3,221.2 585.5,226.3 586.7,231.6 587.8,237.0 589.0,242.6 590.1,248.2 591.3,253.9 592.5,259.6 593.6,265.3 594.8,271.1 595.9,276.8 597.1,282.6" stroke="#ff5700" stroke-opacity="0.22" stroke-width="0.7"/>
<path d="M557.7,279.0 558.8,274.3 560.0,269.6 561.1,265.0 562.3,260.4 563.5,255.7 564.6,251.1 565.8,246.6 566.9,242.0 568.1,237.5 569.3,233.0 570.4,228.6 571.6,224.3 572.7,220.1 573.9,216.1 575.1,212.4 576.2,209.2 577.4,206.9 578.5,205.7 579.7,206.2 580.9,208.5 582.0,212.0 583.2,216.3 584.3,221.1 585.5,226.2 586.7,231.5 587.8,237.0 589.0,242.5 590.1,248.1 591.3,253.7 592.5,259.4 593.6,265.1 594.8,270.9 595.9,276.7 597.1,282.4 598.3,286.6" stroke="#ff6d00" stroke-opacity="0.22" stroke-width="0.7"/>
<path d="M556.5,280.6 557.7,276.1 558.8,271.6 560.0,267.1 561.1,262.7 562.3,258.2 563.5,253.8 564.6,249.4 565.8,245.0 566.9,240.6 568.1,236.2 569.3,232.0 570.4,227.7 571.6,223.6 572.7,219.5 573.9,215.7 575.1,212.2 576.2,209.1 577.4,206.8 578.5,205.7 579.7,206.2 580.9,208.4 582.0,211.9 583.2,216.2 584.3,220.9 585.5,225.9 586.7,231.1 587.8,236.5 589.0,241.9 590.1,247.5 591.3,253.0 592.5,258.6 593.6,264.3 594.8,269.9 595.9,275.6 597.1,281.3 598.3,286.6" stroke="#ff8200" stroke-opacity="0.22" stroke-width="0.7"/>
<path d="M546.1,281.8 547.2,278.9 548.4,275.9 549.5,272.9 550.7,269.9 551.9,267.0 553.0,264.0 554.2,261.0 555.3,258.1 556.5,255.1 557.7,252.1 558.8,249.2 560.0,246.2 561.1,243.3 562.3,240.3 563.5,237.4 564.6,234.5 565.8,231.6 566.9,228.7 568.1,225.8 569.3,223.0 570.4,220.2 571.6,217.5 572.7,214.8 573.9,212.3 575.1,210.0 576.2,207.9 577.4,206.4 578.5,205.7 579.7,206.2 580.9,208.5 582.0,211.9 583.2,216.2 584.3,221.0 585.5,226.1 586.7,231.3 587.8,236.7 589.0,242.2 590.1,247.8 591.3,253.4 592.5,259.0 593.6,264.7 594.8,270.4 595.9,276.1 597.1,281.8 598.3,286.6" stroke="#ff9800" stroke-opacity="0.22" stroke-width="0.7"/>
<path d="M556.5,281.6 557.7,277.0 558.8,272.5 560.0,267.9 561.1,263.4 562.3,258.9 563.5,254.4 564.6,249.9 565.8,245.5 566.9,241.0 568.1,236.6 569.3,232.3 570.4,228.0 571.6,223.8 572.7,219.7 573.9,215.8 575.1,212.2 576.2,209.2 577.4,206.9 578.5,205.7 579.7,206.2 580.9,208.4 582.0,211.8 583.2,216.0 584.3,220.7 585.5,225.7 586.7,230.8 587.8,236.1 589.0,241.5 590.1,247.0 591.3,252.5 592.5,258.0 593.6,263.6 594.8,269.2 595.9,274.8 597.1,280.4 598.3,286.1" stroke="#ffae00" stroke-opacity="0.22" stroke-width="0.7"/>
<path d="M557.7,278.4 558.8,273.8 560.0,269.1 561.1,264.5 562.3,259.9 563.5,255.4 564.6,250.8 565.8,246.2 566.9,241.7 568.1,237.2 569.3,232.8 570.4,228.4 571.6,224.1 572.7,220.0 573.9,216.0 575.1,212.4 576.2,209.2 577.4,206.9 578.5,205.7 579.7,206.2 580.9,208.5 582.0,212.0 583.2,216.3 584.3,221.1 585.5,226.2 586.7,231.5 587.8,236.9 589.0,242.5 590.1,248.0 591.3,253.7 592.5,259.4 593.6,265.1 594.8,270.8 595.9,276.6 597.1,282.3 598.3,286.6" stroke="#ffc300" stroke-opacity="0.22" stroke-width="0.7"/>
<path d="M554.2,279.7 555.3,275.7 556.5,271.8 557.7,267.8 558.8,263.9 560.0,259.9 561.1,256.0 562.3,252.0 563.5,248.1 564.6,244.2 565.8,240.3 566.9,236.5 568.1,232.7 569.3,228.9 570.4,225.1 571.6,221.5 572.7,217.9 573.9,214.5 575.1,211.4 576.2,208.7 577.4,206.7 578.5,205.7 579.7,206.1 580.9,207.9 582.0,210.7 583.2,214.2 584.3,218.0 585.5,222.1 586.7,226.4 587.8,230.7 589.0,235.1 590.1,239.6 591.3,244.1 592.5,248.7 593.6,253.2 594.8,257.8 595.9,262.4 597.1,267.1 598.3,271.7 599.4,276.3 600.6,281.0 601.7,285.6" stroke="#0000ff" stroke-opacity="0.22" stroke-width="0.7"/>
<path d="M553.0,282.0 554.2,278.1 555.3,274.2 556.5,270.4 557.7,266.5 558.8,262.6 560.0,258.8 561.1,254.9 562.3,251.1 563.5,247.2 564.6,243.4 565.8,239.6 566.9,235.8 568.1,232.1 569.3,228.4 570.4,224.7 571.6,221.1 572.7,217.7 573.9,214.3 575.1,211.3 576.2,208.6 577.4,206.7 578.5,205.7 579.7,206.1 580.9,207.9 582.0,210.8 583.2,214.3 584.3,218.1 585.5,222.3 586.7,226.6 587.8,230.9 589.0,235.4 590.1,239.9 591.3,244.5 592.5,249.1 593.6,253.7 594.8,258.4 595.9,263.0 597.1,267.7 598.3,272.3 599.4,277.0 600.6,281.7 601.7,286.4" stroke="#0016ff" stroke-opacity="0.22" stroke-width="0.7"/>
<path d="M554.2,278.9 555.3,275.0 556.5,271.1 557.7,267.2 558.8,263.3 560.0,259.4 561.1,255.5 562.3,251.6 563.5,247.7 564.6,243.8 565.8,240.0 566.9,236.2 568.1,232.4 569.3,228.6 570.4,224.9 571.6,221.3 572.7,217.8 573.9,214.4 575.1,211.3 576.2,208.7 577.4,206.7 578.5,205.7 579.7,206.1 580.9,208.0 582.0,210.8 583.2,214.3 584.3,218.2 585.5,222.3 586.7,226.6 587.8,231.1 589.0,235.5 590.1,240.1 591.3,244.7 592.5,249.3 593.6,253.9 594.8,258.6 595.9,263.2 597.1,267.9 598.3,272.6 599.4,277.3 600.6,282.0 601.7,286.6" stroke="#002bff" stroke-opacity="0.22" stroke-width="0.7"/>
<path d="M554.2,280.2 555.3,276.2 556.5,272.2 557.7,268.2 558.8,264.2 560.0,260.3 561.1,256.3 562.3,252.4 563.5,248.4 564.6,244.5 565.8,240.6 566.9,236.7 568.1,232.8 569.3,229.0 570.4,225.3 571.6,221.6 572.7,218.0 573.9,214.6 575.1,211.4 576.2,208.7 577.4,206.7 578.5,205.7 579.7,206.1 580.9,208.0 582.0,210.9 583.2,214.4 584.3,218.4 585.5,222.6 586.7,226.9 587.8,231.4 589.0,236.0 590.1,240.6 591.3,245.2 592.5,249.9 593.6,254.6 594.8,259.3 595.9,264.0 597.1,268.8 598.3,273.6 599.4,278.3 600.6,283.1" stroke="#0041ff" stroke-opacity="0.22" stroke-width="0.7"/>
<path d="M554.2,280.4 555.3,276.4 556.5,272.4 557.7,268.4 558.8,264.4 560.0,260.4 561.1,256.5 562.3,252.5 563.5,248.6 564.6,244.6 565.8,240.7 566.9,236.8 568.1,232.9 569.3,229.1 570.4,225.3 571.6,221.6 572.7,218.0 573.9,214.6 575.1,211.5 576.2,208.7 577.4,206.7 578.5,205.7 579.7,206.1 580.9,208.0 582.0,210.8 583.2,214.3 584.3,218.2 585.5,222.4 586.7,226.7 587.8,231.1 589.0,235.6 590.1,240.1 591.3,244.7 592.5,249.3 593.6,254.0 594.8,258.6 595.9,263.3 597.1,268.0 598.3,272.7 599.4,277.4 600.6,282.1 601.7,286.6" stroke="#0057ff" stroke-opacity="0.22" stroke-width="0.7"/>
<path d="M554.2,280.5 555.3,276.5 556.5,272.5 557.7,268.5 558.8,264.5 560.0,260.5 561.1,256.5 562.3,252.6 563.5,248.6 564.6,244.7 565.8,240.7 566.9,236.8 568.1,233.0 569.3,229.1 570.4,225.3 571.6,221.6 572.7,218.0 573.9,214.6 575.1,211.5 576.2,208.7 577.4,206.7 578.5,205.7 579.7,206.2 580.9,208.0 582.0,210.9 583.2,214.5 584.3,218.5 585.5,222.7 586.7,227.1 587.8,231.6 589.0,236.2 590.1,240.8 591.3,245.5 592.5,250.2 593.6,254.9 594.8,259.7 595.9,264.4 597.1,269.2 598.3,274.0 599.4,278.8 600.6,283.6" stroke="#006dff" stroke-opacity="0.22" stroke-width="0.7"/>
<path d="M554.2,281.3 555.3,277.3 556.5,273.2 557.7,269.2 558.8,265.1 560.0,261.1 561.1,257.1 562.3,253.1 563.5,249.1 564.6,245.1 565.8,241.1 566.9,237.2 568.1,233.3 569.3,229.4 570.4,225.6 571.6,221.8 572.7,218.2 573.9,214.7 575.1,211.5 576.2,208.8 577.4,206.7 578.5,205.7 579.7,206.2 580.9,208.0 582.0,210.9 583.2,214.5 584.3,218.5 585.5,222.8 586.7,227.2 587.8,231.7 589.0,236.3 590.1,241.0 591.3,245.7 592.5,250.4 593.6,255.2 594.8,260.0 595.9,264.8 597.1,269.6 598.3,274.4 599.4,279.2 600.6,284.1" stroke="#0082ff" stroke-opacity="0.22" stroke-width="0.7"/>
<path d="M554.2,280.1 555.3,276.1 556.5,272.2 557.7,268.2 558.8,264.2 560.0,260.2 561.1,256.3 562.3,252.3 563.5,248.4 564.6,244.5 565.8,240.6 566.9,236.7 568.1,232.8 569.3,229.0 570.4,225.2 571.6,221.6 572.7,218.0 573.9,214.6 575.1,211.4 576.2,208.7 577.4,206.7 578.5,205.7 579.7,206.2 580.9,208.0 582.0,211.0 583.2,214.6 584.3,218.6 585.5,222.8 586.7,227.3 587.8,231.8 589.0,236.4 590.1,241.1 591.3,245.8 592.5,250.6 593.6,255.4 594.8,260.2 595.9,265.0 597.1,269.8 598.3,274.6 599.4,279.5 600.6,284.3" stroke="#0098ff" stroke-opacity="0.22" stroke-width="0.7"/>
<path d="M554.2,282.4 555.3,278.3 556.5,274.2 557.7,270.1 558.8,266.0 560.0,261.9 561.1,257.8 562.3,253.8 563.5,249.7 564.6,245.7 565.8,241.6 566.9,237.6 568.1,233.7 569.3,229.7 570.4,225.8 571.6,222.0 572.7,218.4 573.9,214.9 575.1,211.6 576.2,208.8 577.4,206.7 578.5,205.7 579.7,206.2 580.9,208.0 582.0,211.0 583.2,214.6 584.3,218.6 585.5,222.9 586.7,227.4 587.8,232.0 589.0,236.6 590.1,241.3 591.3,246.1 592.5,250.8 593.6,255.6 594.8,260.5 595.9,265.3 597.1,270.2 598.3,275.0 599.4,279.9 600.6,284.8" stroke="#00aeff" stroke-opacity="0.22" stroke-width="0.7"/>
<path d="M554.2,279.9 555.3,275.9 556.5,272.0 557.7,268.0 558.8,264.0 560.0,260.1 561.1,256.1 562.3,252.2 563.5,248.3 564.6,244.3 565.8,240.4 566.9,236.6 568.1,232.7 569.3,228.9 570.4,225.2 571.6,221.5 572.7,217.9 573.9,214.6 575.1,211.4 576.2,208.7 577.4,206.7 578.5,205.7 579.7,206.2 580.9,208.0 582.0,210.9 583.2,214.5 584.3,218.5 585.5,222.7 586.7,227.2 587.8,231.7 589.0,236.3 590.1,240.9 591.3,245.6 592.5,250.3 593.6,255.1 594.8,259.9 595.9,264.7 597.1,269.4 598.3,274.3 599.4,279.1 600.6,283.9" stroke="#00c3ff" stroke-opacity="0.22" stroke-width="0.7"/>
<path d="M554.2,280.9 555.3,276.8 556.5,272.8 557.7,268.8 558.8,264.8 560.0,260.8 561.1,256.8 562.3,252.8 563.5,248.8 564.6,244.8 565.8,240.9 566.9,237.0 568.1,233.1 569.3,229.2 570.4,225.4 571.6,221.7 572.7,218.1 573.9,214.7 575.1,211.5 576.2,208.8 577.4,206.7 578.5,205.7 579.7,206.2 580.9,208.0 582.0,211.0 583.2,214.6 584.3,218.7 585.5,223.0 586.7,227.4 587.8,232.0 589.0,236.6 590.1,241.3 591.3,246.1 592.5,250.9 593.6,255.7 594.8,260.5 595.9,265.3 597.1,270.2 598.3,275.1 599.4,279.9 600.6,284.8" stroke="#00d9ff" stroke-opacity="0.22" stroke-width="0.7"/>
<path d="M555.3,278.6 556.5,274.4 557.7,270.3 558.8,266.2 560.0,262.1 561.1,258.0 562.3,253.9 563.5,249.8 564.6,245.8 565.8,241.7 566.9,237.7 568.1,233.7 569.3,229.8 570.4,225.9 571.6,222.1 572.7,218.4 573.9,214.9 575.1,211.6 576.2,208.8 577.4,206.7 578.5,205.7 579.7,206.2 580.9,208.1 582.0,211.1 583.2,214.8 584.3,218.9 585.5,223.2 586.7,227.8 587.8,232.4 589.0,237.2 590.1,241.9 591.3,246.8 592.5,251.6 593.6,256.5 594.8,261.4 595.9,266.4 597.1,271.3 598.3,276.2 599.4,281.2 600.6,286.2" stroke="#00efff" stroke-opacity="0.22" stroke-width="0.7"/>
<path d="M554.2,281.8 555.3,277.7 556.5,273.6 557.7,269.5 558.8,265.5 560.0,261.4 561.1,257.4 562.3,253.3 563.5,249.3 564.6,245.3 565.8,241.3 566.9,237.3 568.1,233.4 569.3,229.5 570.4,225.7 571.6,221.9 572.7,218.3 573.9,214.8 575.1,211.6 576.2,208.8 577.4,206.7 578.5,205.7 579.7,206.2 580.9,208.1 582.0,211.0 583.2,214.7 584.3,218.7 585.5,223.0 586.7,227.5 587.8,232.1 589.0,236.8 590.1,241.5 591.3,246.3 592.5,251.1 593.6,255.9 594.8,260.8 595.9,265.7 597.1,270.5 598.3,275.4 599.4,280.3 600.6,285.2" stroke="#00fffa" stroke-opacity="0.22" stroke-width="0.7"/>
<path d="M554.2,281.3 555.3,277.3 556.5,273.2 557.7,269.2 558.8,265.2 560.0,261.1 561.1,257.1 562.3,253.1 563.5,249.1 564.6,245.1 565.8,241.1 566.9,237.2 568.1,233.3 569.3,229.4 570.4,225.6 571.6,221.8 572.7,218.2 573.9,214.7 575.1,211.5 576.2,208.8 577.4,206.7 578.5,205.7 579.7,206.2 580.9,208.1 582.0,211.2 583.2,214.9 584.3,219.1 585.5,223.5 586.7,228.1 587.8,232.8 589.0,237.6 590.1,242.5 591.3,247.4 592.5,252.3 593.6,257.3 594.8,262.2 595.9,267.2 597.1,272.3 598.3,277.3 599.4,282.3 600.6,286.6" stroke="#00ffe4" stroke-opacity="0.22" stroke-width="0.7"/>
<path d="M555.3,279.8 556.5,275.6 557.7,271.4 558.8,267.2 560.0,263.0 561.1,258.9 562.3,254.7 563.5,250.6 564.6,246.5 565.8,242.3 566.9,238.3 568.1,234.2 569.3,230.2 570.4,226.2 571.6,222.4 572.7,218.6 573.9,215.0 575.1,211.7 576.2,208.9 577.4,206.8 578.5,205.7 579.7,206.2 580.9,208.1 582.0,211.2 583.2,214.9 584.3,219.1 585.5,223.5 586.7,228.1 587.8,232.8 589.0,237.6 590.1,242.5 591.3,247.4 592.5,252.3 593.6,257.3 594.8,262.3 595.9,267.3 597.1,272.3 598.3,277.3 599.4,282.3 600.6,286.6" stroke="#00ffce" stroke-opacity="0.22" stroke-width="0.7"/>
<path d="M554.2,281.8 555.3,277.7 556.5,273.7 557.7,269.6 558.8,265.5 560.0,261.5 561.1,257.4 562.3,253.4 563.5,249.3 564.6,245.3 565.8,241.3 566.9,237.4 568.1,233.4 569.3,229.5 570.4,225.7 571.6,221.9 572.7,218.3 573.9,214.8 575.1,211.6 576.2,208.8 577.4,206.7 578.5,205.7 579.7,206.2 580.9,208.1 582.0,211.2 583.2,214.9 584.3,219.0 585.5,223.5 586.7,228.1 587.8,232.8 589.0,237.6 590.1,242.4 591.3,247.3 592.5,252.2 593.6,257.2 594.8,262.1 595.9,267.1 597.1,272.1 598.3,277.1 599.4,282.2 600.6,286.6" stroke="#00ffb8" stroke-opacity="0.22" stroke-width="0.7"/>
<path d="M554.2,282.4 555.3,278.3 556.5,274.2 557.7,270.1 558.8,266.0 560.0,261.9 561.1,257.8 562.3,253.7 563.5,249.7 564.6,245.6 565.8,241.6 566.9,237.6 568.1,233.6 569.3,229.7 570.4,225.8 571.6,222.0 572.7,218.4 573.9,214.8 575.1,211.6 576.2,208.8 577.4,206.7 578.5,205.7 579.7,206.2 580.9,208.1 582.0,211.2 583.2,215.0 584.3,219.2 585.5,223.7 586.7,228.3 587.8,233.1 589.0,237.9 590.1,242.8 591.3,247.8 592.5,252.8 593.6,257.8 594.8,262.8 595.9,267.8 597.1,272.9 598.3,278.0 599.4,283.1" stroke="#00ffa3" stroke-opacity="0.22" stroke-width="0.7"/>
<path d="M555.3,281.2 556.5,277.0 557.7,272.7 558.8,268.4 560.0,264.2 561.1,259.9 562.3,255.7 563.5,251.5 564.6,247.3 565.8,243.1 566.9,238.9 568.1,234.8 569.3,230.7 570.4,226.7 571.6,222.7 572.7,218.9 573.9,215.2 575.1,211.9 576.2,208.9 577.4,206.8 578.5,205.7 579.7,206.2 580.9,208.2 582.0,211.3 583.2,215.2 584.3,219.4 585.5,224.0 586.7,228.7 587.8,233.6 589.0,238.5 590.1,243.5 591.3,248.6 592.5,253.6 593.6,258.7 594.8,263.8 595.9,269.0 597.1,274.1 598.3,279.3 599.4,284.5" stroke="#00ff8d" stroke-opacity="0.22" stroke-width="0.7"/>
<path d="M555.3,281.3 556.5,277.0 557.7,272.8 558.8,268.5 560.0,264.2 561.1,260.0 562.3,255.7 563.5,251.5 564.6,247.3 565.8,243.1 566.9,238.9 568.1,234.8 569.3,230.7 570.4,226.7 571.6,222.7 572.7,218.9 573.9,215.2 575.1,211.9 576.2,208.9 577.4,206.8 578.5,205.7 579.7,206.2 580.9,208.2 582.0,211.3 583.2,215.2 584.3,219.5 585.5,224.0 586.7,228.8 587.8,233.6 589.0,238.6 590.1,243.6 591.3,248.6 592.5,253.7 593.6,258.8 594.8,263.9 595.9,269.1 597.1,274.2 598.3,279.4 599.4,284.6" stroke="#00ff77" stroke-opacity="0.22" stroke-width="0.7"/>
<path d="M555.3,280.6 556.5,276.3 557.7,272.1 558.8,267.9 560.0,263.7 561.1,259.5 562.3,255.3 563.5,251.1 564.6,246.9 565.8,242.7 566.9,238.6 568.1,234.5 569.3,230.5 570.4,226.5 571.6,222.6 572.7,218.8 573.9,215.1 575.1,211.8 576.2,208.9 577.4,206.8 578.5,205.7 579.7,206.2 580.9,208.2 582.0,211.3 583.2,215.1 584.3,219.4 585.5,223.9 586.7,228.7 587.8,233.5 589.0,238.4 590.1,243.4 591.3,248.4 592.5,253.5 593.6,258.6 594.8,263.7 595.9,268.8 597.1,273.9 598.3,279.1 599.4,284.2" stroke="#00ff62" stroke-opacity="0.22" stroke-width="0.7"/>
<path d="M555.3,282.3 556.5,278.0 557.7,273.6 558.8,269.3 560.0,265.0 561.1,260.7 562.3,256.4 563.5,252.1 564.6,247.9 565.8,243.6 566.9,239.4 568.1,235.2 569.3,231.0 570.4,227.0 571.6,222.9 572.7,219.1 573.9,215.4 575.1,211.9 576.2,209.0 577.4,206.8 578.5,205.7 579.7,206.2 580.9,208.2 582.0,211.4 583.2,215.3 584.3,219.6 585.5,224.2 586.7,229.0 587.8,233.9 589.0,238.8 590.1,243.9 591.3,249.0 592.5,254.1 593.6,259.3 594.8,264.4 595.9,269.6 597.1,274.8 598.3,280.0 599.4,285.3" stroke="#00ff4c" stroke-opacity="0.42" stroke-width="0.9"/>
<path d="M555.3,279.5 556.5,275.4 557.7,271.2 558.8,267.0 560.0,262.9 561.1,258.7 562.3,254.6 563.5,250.4 564.6,246.3 565.8,242.2 566.9,238.2 568.1,234.1 569.3,230.1 570.4,226.2 571.6,222.3 572.7,218.6 573.9,215.0 575.1,211.7 576.2,208.9 577.4,206.8 578.5,205.7 579.7,206.2 580.9,208.2 582.0,211.5 583.2,215.4 584.3,219.8 585.5,224.5 586.7,229.3 587.8,234.3 589.0,239.4 590.1,244.5 591.3,249.6 592.5,254.8 593.6,260.1 594.8,265.3 595.9,270.6 597.1,275.9 598.3,281.2 599.4,286.5" stroke="#00ff36" stroke-opacity="0.22" stroke-width="0.7"/>
<path d="M555.3,281.2 556.5,277.0 557.7,272.7 558.8,268.4 560.0,264.2 561.1,259.9 562.3,255.7 563.5,251.5 564.6,247.3 565.8,243.1 566.9,238.9 568.1,234.8 569.3,230.7 570.4,226.7 571.6,222.7 572.7,218.9 573.9,215.2 575.1,211.9 576.2,208.9 577.4,206.8 578.5,205.7 579.7,206.2 580.9,208.2 582.0,211.4 583.2,215.4 584.3,219.8 585.5,224.4 586.7,229.3 587.8,234.2 589.0,239.3 590.1,244.4 591.3,249.5 592.5,254.7 593.6,259.9 594.8,265.2 595.9,270.4 597.1,275.7 598.3,281.0 599.4,286.3" stroke="#00ff21" stroke-opacity="0.22" stroke-width="0.7"/>
<path d="M556.5,278.5 557.7,274.1 558.8,269.8 560.0,265.4 561.1,261.1 562.3,256.8 563.5,252.4 564.6,248.1 565.8,243.9 566.9,239.6 568.1,235.4 569.3,231.2 570.4,227.1 571.6,223.1 572.7,219.2 573.9,215.4 575.1,212.0 576.2,209.0 577.4,206.8 578.5,205.7 579.7,206.2 580.9,208.3 582.0,211.5 583.2,215.4 584.3,219.8 585.5,224.5 586.7,229.4 587.8,234.3 589.0,239.4 590.1,244.5 591.3,249.7 592.5,254.9 593.6,260.2 594.8,265.4 595.9,270.7 597.1,276.0 598.3,281.3 599.4,286.6" stroke="#00ff0b" stroke-opacity="0.22" stroke-width="0.7"/>
<path d="M556.5,278.5 557.7,274.1 558.8,269.8 560.0,265.4 561.1,261.1 562.3,256.8 563.5,252.5 564.6,248.2 565.8,243.9 566.9,239.6 568.1,235.4 569.3,231.2 570.4,227.1 571.6,223.1 572.7,219.2 573.9,215.4 575.1,212.0 576.2,209.0 577.4,206.8 578.5,205.7 579.7,206.2 580.9,208.2 582.0,211.4 583.2,215.3 584.3,219.7 585.5,224.4 586.7,229.2 587.8,234.1 589.0,239.2 590.1,244.3 591.3,249.4 592.5,254.6 593.6,259.8 594.8,265.0 595.9,270.2 597.1,275.5 598.3,280.7 599.4,286.0" stroke="#0bff00" stroke-opacity="0.22" stroke-width="0.7"/>
<path d="M556.5,279.5 557.7,275.0 558.8,270.6 560.0,266.2 561.1,261.8 562.3,257.4 563.5,253.1 564.6,248.7 565.8,244.4 566.9,240.1 568.1,235.8 569.3,231.6 570.4,227.4 571.6,223.3 572.7,219.3 573.9,215.6 575.1,212.1 576.2,209.1 577.4,206.8 578.5,205.7 579.7,206.2 580.9,208.2 582.0,211.4 583.2,215.3 584.3,219.6 585.5,224.3 586.7,229.1 587.8,234.0 589.0,239.0 590.1,244.1 591.3,249.2 592.5,254.3 593.6,259.5 594.8,264.7 595.9,269.9 597.1,275.1 598.3,280.4 599.4,285.6" stroke="#21ff00" stroke-opacity="0.22" stroke-width="0.7"/>
<path d="M555.3,282.6 556.5,278.2 557.7,273.9 558.8,269.5 560.0,265.2 561.1,260.9 562.3,256.6 563.5,252.3 564.6,248.0 565.8,243.7 566.9,239.5 568.1,235.3 569.3,231.1 570.4,227.0 571.6,223.0 572.7,219.1 573.9,215.4 575.1,212.0 576.2,209.0 577.4,206.8 578.5,205.7 579.7,206.2 580.9,208.3 582.0,211.5 583.2,215.5 584.3,219.9 585.5,224.6 586.7,229.5 587.8,234.5 589.0,239.5 590.1,244.7 591.3,249.9 592.5,255.1 593.6,260.4 594.8,265.7 595.9,271.0 597.1,276.3 598.3,281.6 599.4,286.6" stroke="#36ff00" stroke-opacity="0.22" stroke-width="0.7"/>
<path d="M555.3,281.4 556.5,277.2 557.7,272.9 558.8,268.6 560.0,264.3 561.1,260.1 562.3,255.8 563.5,251.6 564.6,247.4 565.8,243.2 566.9,239.0 568.1,234.9 569.3,230.8 570.4,226.7 571.6,222.7 572.7,218.9 573.9,215.2 575.1,211.9 576.2,209.0 577.4,206.8 578.5,205.7 579.7,206.2 580.9,208.3 582.0,211.5 583.2,215.5 584.3,219.9 585.5,224.6 586.7,229.5 587.8,234.5 589.0,239.6 590.1,244.7 591.3,249.9 592.5,255.2 593.6,260.4 594.8,265.7 595.9,271.0 597.1,276.3 598.3,281.6 599.4,286.6" stroke="#4cff00" stroke-opacity="0.22" stroke-width="0.7"/>
<path d="M556.5,280.4 557.7,275.9 558.8,271.4 560.0,267.0 561.1,262.5 562.3,258.1 563.5,253.6 564.6,249.2 565.8,244.8 566.9,240.5 568.1,236.2 569.3,231.9 570.4,227.7 571.6,223.5 572.7,219.5 573.9,215.7 575.1,212.1 576.2,209.1 577.4,206.8 578.5,205.7 579.7,206.2 580.9,208.3 582.0,211.5 583.2,215.5 584.3,220.0 585.5,224.7 586.7,229.6 587.8,234.7 589.0,239.8 590.1,245.0 591.3,250.2 592.5,255.5 593.6,260.8 594.8,266.1 595.9,271.4 597.1,276.8 598.3,282.2 599.4,286.6" stroke="#62ff00" stroke-opacity="0.22" stroke-width="0.7"/>
<path d="M556.5,278.6 557.7,274.2 558.8,269.8 560.0,265.5 561.1,261.1 562.3,256.8 563.5,252.5 564.6,248.2 565.8,243.9 566.9,239.6 568.1,235.4 569.3,231.2 570.4,227.1 571.6,223.1 572.7,219.2 573.9,215.4 575.1,212.0 576.2,209.0 577.4,206.8 578.5,205.7 579.7,206.2 580.9,208.3 582.0,211.6 583.2,215.6 584.3,220.1 585.5,224.8 586.7,229.8 587.8,234.8 589.0,240.0 590.1,245.2 591.3,250.5 592.5,255.8 593.6,261.1 594.8,266.5 595.9,271.8 597.1,277.2 598.3,282.6" stroke="#77ff00" stroke-opacity="0.22" stroke-width="0.7"/>
<path d="M556.5,278.9 557.7,274.5 558.8,270.2 560.0,265.8 561.1,261.4 562.3,257.1 563.5,252.7 564.6,248.4 565.8,244.1 566.9,239.8 568.1,235.6 569.3,231.4 570.4,227.2 571.6,223.2 572.7,219.2 573.9,215.5 575.1,212.0 576.2,209.0 577.4,206.8 578.5,205.7 579.7,206.2 580.9,208.3 582.0,211.6 583.2,215.7 584.3,220.2 585.5,225.0 586.7,230.0 587.8,235.1 589.0,240.3 590.1,245.5 591.3,250.8 592.5,256.2 593.6,261.6 594.8,267.0 595.9,272.4 597.1,277.8 598.3,283.2" stroke="#8dff00" stroke-opacity="0.22" stroke-width="0.7"/>
<path d="M556.5,279.9 557.7,275.5 558.8,271.0 560.0,266.6 561.1,262.2 562.3,257.8 563.5,253.4 564.6,249.0 565.8,244.6 566.9,240.3 568.1,236.0 569.3,231.7 570.4,227.5 571.6,223.4 572.7,219.4 573.9,215.6 575.1,212.1 576.2,209.1 577.4,206.8 578.5,205.7 579.7,206.2 580.9,208.3 582.0,211.7 583.2,215.7 584.3,220.3 585.5,225.1 586.7,230.1 587.8,235.3 589.0,240.5 590.1,245.8 591.3,251.2 592.5,256.6 593.6,262.0 594.8,267.4 595.9,272.9 597.1,278.3 598.3,283.8" stroke="#a3ff00" stroke-opacity="0.22" stroke-width="0.7"/>
<path d="M556.5,280.3 557.7,275.9 558.8,271.4 560.0,266.9 561.1,262.5 562.3,258.1 563.5,253.6 564.6,249.2 565.8,244.8 566.9,240.5 568.1,236.2 569.3,231.9 570.4,227.6 571.6,223.5 572.7,219.5 573.9,215.7 575.1,212.1 576.2,209.1 577.4,206.8 578.5,205.7 579.7,206.2 580.9,208.4 582.0,211.8 583.2,216.0 584.3,220.7 585.5,225.6 586.7,230.8 587.8,236.1 589.0,241.4 590.1,246.9 591.3,252.4 592.5,257.9 593.6,263.4 594.8,269.0 595.9,274.6 597.1,280.2 598.3,285.8" stroke="#b8ff00" stroke-opacity="0.22" stroke-width="0.7"/>
<path d="M544.9,282.0 546.1,279.1 547.2,276.2 548.4,273.4 549.5,270.5 550.7,267.6 551.9,264.8 553.0,261.9 554.2,259.0 555.3,256.2 556.5,253.3 557.7,250.5 558.8,247.6 560.0,244.8 561.1,241.9 562.3,239.1 563.5,236.3 564.6,233.5 565.8,230.7 566.9,227.9 568.1,225.1 569.3,222.4 570.4,219.7 571.6,217.1 572.7,214.5 573.9,212.1 575.1,209.8 576.2,207.9 577.4,206.4 578.5,205.7 579.7,206.2 580.9,208.4 582.0,211.7 583.2,215.9 584.3,220.4 585.5,225.3 586.7,230.4 587.8,235.6 589.0,240.9 590.1,246.3 591.3,251.7 592.5,257.1 593.6,262.6 594.8,268.1 595.9,273.6 597.1,279.1 598.3,284.6" stroke="#ceff00" stroke-opacity="0.22" stroke-width="0.7"/>
<path d="M556.5,279.5 557.7,275.1 558.8,270.7 560.0,266.3 561.1,261.9 562.3,257.5 563.5,253.1 564.6,248.7 565.8,244.4 566.9,240.1 568.1,235.8 569.3,231.6 570.4,227.4 571.6,223.3 572.7,219.3 573.9,215.6 575.1,212.1 576.2,209.1 577.4,206.8 578.5,205.7 579.7,206.2 580.9,208.5 582.0,211.9 583.2,216.2 584.3,220.9 585.5,226.0 586.7,231.2 587.8,236.6 589.0,242.0 590.1,247.6 591.3,253.2 592.5,258.8 593.6,264.4 594.8,270.1 595.9,275.8 597.1,281.5 598.3,286.6" stroke="#e4ff00" stroke-opacity="0.22" stroke-width="0.7"/>
<path d="M556.5,282.0 557.7,277.4 558.8,272.9 560.0,268.3 561.1,263.8 562.3,259.2 563.5,254.7 564.6,250.2 565.8,245.7 566.9,241.2 568.1,236.8 569.3,232.4 570.4,228.1 571.6,223.9 572.7,219.8 573.9,215.9 575.1,212.3 576.2,209.2 577.4,206.9 578.5,205.7 579.7,206.2 580.9,208.4 582.0,211.9 583.2,216.1 584.3,220.9 585.5,225.9 586.7,231.1 587.8,236.5 589.0,241.9 590.1,247.4 591.3,253.0 592.5,258.6 593.6,264.2 594.8,269.8 595.9,275.5 597.1,281.2 598.3,286.6" stroke="#faff00" stroke-opacity="0.22" stroke-width="0.7"/>
<path d="M548.4,279.9 549.5,276.8 550.7,273.6 551.9,270.5 553.0,267.3 554.2,264.2 555.3,261.1 556.5,257.9 557.7,254.8 558.8,251.7 560.0,248.6 561.1,245.4 562.3,242.3 563.5,239.2 564.6,236.2 565.8,233.1 566.9,230.0 568.1,227.0 569.3,224.0 570.4,221.1 571.6,218.2 572.7,215.4 573.9,212.7 575.1,210.2 576.2,208.1 577.4,206.5 578.5,205.7 579.7,206.2 580.9,208.4 582.0,211.8 583.2,216.0 584.3,220.7 585.5,225.6 586.7,230.8 587.8,236.1 589.0,241.5 590.1,246.9 591.3,252.4 592.5,257.9 593.6,263.5 594.8,269.1 595.9,274.7 597.1,280.3 598.3,285.9" stroke="#ffef00" stroke-opacity="0.22" stroke-width="0.7"/>
<path d="M556.5,281.3 557.7,276.8 558.8,272.2 560.0,267.7 561.1,263.2 562.3,258.7 563.5,254.3 564.6,249.8 565.8,245.3 566.9,240.9 568.1,236.5 569.3,232.2 570.4,227.9 571.6,223.7 572.7,219.7 573.9,215.8 575.1,212.2 576.2,209.1 577.4,206.8 578.5,205.7 579.7,206.2 580.9,208.4 582.0,211.9 583.2,216.1 584.3,220.8 585.5,225.8 586.7,231.0 587.8,236.3 589.0,241.7 590.1,247.2 591.3,252.7 592.5,258.3 593.6,263.9 594.8,269.5 595.9,275.1 597.1,280.8 598.3,286.4" stroke="#ffd900" stroke-opacity="0.22" stroke-width="0.7"/>
</g>
<g font-family="Liberation Sans, sans-serif" font-size="6.6" fill="#222">
<text x="528.2" y="283.5" text-anchor="middle" textLength="17.8" lengthAdjust="spacingAndGlyphs">−400</text>
<text x="557.3" y="283.5" text-anchor="middle" textLength="17.8" lengthAdjust="spacingAndGlyphs">−200</text>
<text x="585.2" y="283.5" text-anchor="middle" textLength="3.7" lengthAdjust="spacingAndGlyphs">0</text>
<text x="614.0" y="283.5" text-anchor="middle" textLength="10.6" lengthAdjust="spacingAndGlyphs">200</text>
<text x="645.1" y="283.5" text-anchor="middle" textLength="10.6" lengthAdjust="spacingAndGlyphs">400</text>
<text x="512.6" y="208.1" text-anchor="end" textLength="10.8" lengthAdjust="spacingAndGlyphs">1.0</text>
<text x="512.6" y="281.0" text-anchor="end" textLength="10.8" lengthAdjust="spacingAndGlyphs">0.8</text>
</g>
<text x="583.0" y="148.8" text-anchor="middle" font-family="Liberation Sans, sans-serif" font-weight="bold" font-size="16" fill="#00e000">mSTG</text>
<defs><clipPath id="tpclip"><rect x="0" y="270" width="157.6" height="30"/></clipPath></defs>
<circle cx="89.5" cy="189.2" r="1.15" fill="#ff0000" fill-opacity="0.90"/>
<circle cx="96.5" cy="189.2" r="1.15" fill="#ff1600" fill-opacity="0.90"/>
<circle cx="96.5" cy="187.3" r="1.15" fill="#ff2b00" fill-opacity="0.90"/>
<circle cx="96.5" cy="185.5" r="1.15" fill="#ff4100" fill-opacity="0.90"/>
<circle cx="96.5" cy="183.6" r="1.15" fill="#ff5700" fill-opacity="0.90"/>
<circle cx="96.5" cy="181.8" r="1.15" fill="#ff6d00" fill-opacity="0.90"/>
<circle cx="96.5" cy="179.9" r="1.15" fill="#ff8200" fill-opacity="0.90"/>
<circle cx="96.5" cy="178.1" r="1.15" fill="#ff9800" fill-opacity="0.90"/>
<circle cx="96.5" cy="176.2" r="1.15" fill="#ffae00" fill-opacity="0.90"/>
<circle cx="114.0" cy="189.2" r="1.15" fill="#ffc300" fill-opacity="0.90"/>
<circle cx="114.0" cy="187.3" r="1.15" fill="#ffd900" fill-opacity="0.90"/>
<circle cx="114.0" cy="185.5" r="1.15" fill="#ffef00" fill-opacity="0.90"/>
<circle cx="114.0" cy="183.6" r="1.15" fill="#faff00" fill-opacity="0.90"/>
<circle cx="114.0" cy="181.8" r="1.15" fill="#e4ff00" fill-opacity="0.90"/>
<circle cx="114.0" cy="179.9" r="1.15" fill="#ceff00" fill-opacity="0.90"/>
<circle cx="114.0" cy="178.1" r="1.15" fill="#b8ff00" fill-opacity="0.90"/>
<circle cx="114.0" cy="176.2" r="1.15" fill="#a3ff00" fill-opacity="0.90"/>
<circle cx="117.7" cy="189.2" r="1.15" fill="#8dff00" fill-opacity="0.90"/>
<circle cx="117.7" cy="187.3" r="1.15" fill="#77ff00" fill-opacity="0.90"/>
<circle cx="117.7" cy="185.5" r="1.15" fill="#62ff00" fill-opacity="0.90"/>
<circle cx="117.7" cy="183.6" r="1.15" fill="#4cff00" fill-opacity="0.90"/>
<circle cx="117.7" cy="181.8" r="1.15" fill="#36ff00" fill-opacity="0.90"/>
<circle cx="117.7" cy="179.9" r="1.15" fill="#21ff00" fill-opacity="0.90"/>
<circle cx="117.7" cy="178.1" r="1.15" fill="#0bff00" fill-opacity="0.90"/>
<circle cx="127.9" cy="189.2" r="1.15" fill="#00ff0b" fill-opacity="0.90"/>
<circle cx="131.7" cy="189.2" r="1.15" fill="#00ff21" fill-opacity="0.90"/>
<circle cx="131.7" cy="187.3" r="1.15" fill="#00ff36" fill-opacity="0.90"/>
<circle cx="131.7" cy="185.5" r="1.15" fill="#00ff4c" fill-opacity="0.90"/>
<circle cx="131.7" cy="183.6" r="1.15" fill="#00ff62" fill-opacity="0.90"/>
<circle cx="131.7" cy="181.8" r="1.15" fill="#00ff77" fill-opacity="0.90"/>
<circle cx="131.7" cy="179.9" r="1.15" fill="#00ff8d" fill-opacity="0.90"/>
<circle cx="131.7" cy="178.1" r="1.15" fill="#00ffa3" fill-opacity="0.90"/>
<circle cx="131.7" cy="176.2" r="1.15" fill="#00ffb8" fill-opacity="0.90"/>
<circle cx="131.7" cy="174.4" r="1.15" fill="#00ffce" fill-opacity="0.90"/>
<circle cx="131.7" cy="172.5" r="1.15" fill="#00ffe4" fill-opacity="0.90"/>
<circle cx="131.7" cy="170.7" r="1.15" fill="#00fffa" fill-opacity="0.90"/>
<circle cx="131.7" cy="168.8" r="1.15" fill="#00efff" fill-opacity="0.90"/>
<circle cx="131.7" cy="167.0" r="1.15" fill="#00d9ff" fill-opacity="0.90"/>
<circle cx="131.7" cy="165.1" r="1.15" fill="#00c3ff" fill-opacity="0.90"/>
<circle cx="131.7" cy="163.3" r="1.15" fill="#00aeff" fill-opacity="0.90"/>
<circle cx="131.7" cy="161.4" r="1.15" fill="#0098ff" fill-opacity="0.90"/>
<circle cx="131.7" cy="159.6" r="1.15" fill="#0082ff" fill-opacity="0.90"/>
<circle cx="135.2" cy="189.2" r="1.15" fill="#006dff" fill-opacity="0.90"/>
<circle cx="135.2" cy="187.3" r="1.15" fill="#0057ff" fill-opacity="0.90"/>
<circle cx="152.6" cy="189.2" r="1.15" fill="#0041ff" fill-opacity="0.90"/>
<circle cx="152.6" cy="187.3" r="1.15" fill="#002bff" fill-opacity="0.90"/>
<circle cx="152.6" cy="185.5" r="1.15" fill="#0016ff" fill-opacity="0.90"/>
<circle cx="152.6" cy="183.6" r="1.15" fill="#0000ff" fill-opacity="0.90"/>
<circle cx="260.0" cy="195.1" r="1.20" fill="#ff0000" fill-opacity="0.90"/>
<circle cx="260.0" cy="193.2" r="1.20" fill="#ff2b00" fill-opacity="0.90"/>
<circle cx="260.0" cy="191.4" r="1.20" fill="#ff6d00" fill-opacity="0.90"/>
<circle cx="260.0" cy="189.5" r="1.20" fill="#ff8200" fill-opacity="0.90"/>
<circle cx="260.0" cy="187.7" r="1.20" fill="#77ff00" fill-opacity="0.90"/>
<circle cx="260.0" cy="185.8" r="1.20" fill="#4cff00" fill-opacity="0.90"/>
<circle cx="260.0" cy="184.0" r="1.20" fill="#36ff00" fill-opacity="0.90"/>
<circle cx="260.0" cy="182.2" r="1.20" fill="#21ff00" fill-opacity="0.90"/>
<circle cx="263.4" cy="195.1" r="1.20" fill="#ff1600" fill-opacity="0.90"/>
<circle cx="263.4" cy="193.2" r="1.20" fill="#ff5700" fill-opacity="0.90"/>
<circle cx="263.4" cy="191.4" r="1.20" fill="#ff9800" fill-opacity="0.90"/>
<circle cx="263.4" cy="189.5" r="1.20" fill="#ffc300" fill-opacity="0.90"/>
<circle cx="263.4" cy="187.7" r="1.20" fill="#ffef00" fill-opacity="0.90"/>
<circle cx="263.4" cy="185.8" r="1.20" fill="#e4ff00" fill-opacity="0.90"/>
<circle cx="263.4" cy="184.0" r="1.20" fill="#b8ff00" fill-opacity="0.90"/>
<circle cx="263.4" cy="182.2" r="1.20" fill="#8dff00" fill-opacity="0.90"/>
<circle cx="263.4" cy="180.3" r="1.20" fill="#62ff00" fill-opacity="0.90"/>
<circle cx="266.9" cy="195.1" r="1.20" fill="#ff4100" fill-opacity="0.90"/>
<circle cx="266.9" cy="193.2" r="1.20" fill="#ffae00" fill-opacity="0.90"/>
<circle cx="266.9" cy="191.4" r="1.20" fill="#ffd900" fill-opacity="0.90"/>
<circle cx="266.9" cy="189.5" r="1.20" fill="#faff00" fill-opacity="0.90"/>
<circle cx="266.9" cy="187.7" r="1.20" fill="#ceff00" fill-opacity="0.90"/>
<circle cx="266.9" cy="185.8" r="1.20" fill="#a3ff00" fill-opacity="0.90"/>
<circle cx="266.9" cy="184.0" r="1.20" fill="#0bff00" fill-opacity="0.90"/>
<circle cx="266.9" cy="182.2" r="1.20" fill="#00ff0b" fill-opacity="0.90"/>
<circle cx="266.9" cy="180.3" r="1.20" fill="#00ff21" fill-opacity="0.90"/>
<circle cx="277.0" cy="195.1" r="1.20" fill="#00ff36" fill-opacity="0.90"/>
<circle cx="277.0" cy="193.2" r="1.20" fill="#00ff4c" fill-opacity="0.90"/>
<circle cx="277.0" cy="191.4" r="1.20" fill="#00ff62" fill-opacity="0.90"/>
<circle cx="280.7" cy="195.1" r="1.20" fill="#00ff77" fill-opacity="0.90"/>
<circle cx="280.7" cy="193.2" r="1.20" fill="#00ff8d" fill-opacity="0.90"/>
<circle cx="283.9" cy="195.1" r="1.20" fill="#006dff" fill-opacity="0.90"/>
<circle cx="283.9" cy="193.2" r="1.20" fill="#0057ff" fill-opacity="0.90"/>
<circle cx="283.9" cy="191.4" r="1.20" fill="#0041ff" fill-opacity="0.90"/>
<circle cx="283.9" cy="189.5" r="1.20" fill="#002bff" fill-opacity="0.90"/>
<circle cx="283.9" cy="187.7" r="1.20" fill="#0016ff" fill-opacity="0.90"/>
<circle cx="283.9" cy="185.8" r="1.20" fill="#0000ff" fill-opacity="0.90"/>
<circle cx="287.2" cy="195.1" r="1.20" fill="#00ffa3" fill-opacity="0.90"/>
<circle cx="287.2" cy="193.2" r="1.20" fill="#00ffb8" fill-opacity="0.90"/>
<circle cx="287.2" cy="191.4" r="1.20" fill="#00ffce" fill-opacity="0.90"/>
<circle cx="287.2" cy="189.5" r="1.20" fill="#00ffe4" fill-opacity="0.90"/>
<circle cx="287.2" cy="187.7" r="1.20" fill="#00fffa" fill-opacity="0.90"/>
<circle cx="287.2" cy="185.8" r="1.20" fill="#00efff" fill-opacity="0.90"/>
<circle cx="287.2" cy="184.0" r="1.20" fill="#00d9ff" fill-opacity="0.90"/>
<circle cx="287.2" cy="182.2" r="1.20" fill="#00c3ff" fill-opacity="0.90"/>
<circle cx="287.2" cy="180.3" r="1.20" fill="#00aeff" fill-opacity="0.90"/>
<circle cx="287.2" cy="178.4" r="1.20" fill="#0098ff" fill-opacity="0.90"/>
<circle cx="287.2" cy="176.6" r="1.20" fill="#0082ff" fill-opacity="0.90"/>
<circle cx="412.7" cy="189.4" r="1.20" fill="#ff0000" fill-opacity="0.90"/>
<circle cx="412.7" cy="187.6" r="1.20" fill="#ff1600" fill-opacity="0.90"/>
<circle cx="412.7" cy="185.7" r="1.20" fill="#ff2b00" fill-opacity="0.90"/>
<circle cx="412.7" cy="183.8" r="1.20" fill="#ff5700" fill-opacity="0.90"/>
<circle cx="416.2" cy="189.4" r="1.20" fill="#ff6d00" fill-opacity="0.90"/>
<circle cx="416.2" cy="187.6" r="1.20" fill="#ff8200" fill-opacity="0.90"/>
<circle cx="416.2" cy="185.7" r="1.20" fill="#ff9800" fill-opacity="0.90"/>
<circle cx="416.2" cy="183.8" r="1.20" fill="#ffae00" fill-opacity="0.90"/>
<circle cx="416.2" cy="182.0" r="1.20" fill="#ffc300" fill-opacity="0.90"/>
<circle cx="419.7" cy="189.4" r="1.20" fill="#ffd900" fill-opacity="0.90"/>
<circle cx="419.7" cy="187.6" r="1.20" fill="#ffef00" fill-opacity="0.90"/>
<circle cx="419.7" cy="185.7" r="1.20" fill="#faff00" fill-opacity="0.90"/>
<circle cx="419.7" cy="183.8" r="1.20" fill="#e4ff00" fill-opacity="0.90"/>
<circle cx="423.2" cy="189.4" r="1.20" fill="#ff4100" fill-opacity="0.90"/>
<circle cx="423.2" cy="187.6" r="1.20" fill="#ceff00" fill-opacity="0.90"/>
<circle cx="423.2" cy="185.7" r="1.20" fill="#b8ff00" fill-opacity="0.90"/>
<circle cx="423.2" cy="183.8" r="1.20" fill="#a3ff00" fill-opacity="0.90"/>
<circle cx="423.2" cy="182.0" r="1.20" fill="#8dff00" fill-opacity="0.90"/>
<circle cx="433.7" cy="189.4" r="1.20" fill="#36ff00" fill-opacity="0.90"/>
<circle cx="433.7" cy="187.6" r="1.20" fill="#21ff00" fill-opacity="0.90"/>
<circle cx="433.7" cy="185.7" r="1.20" fill="#0bff00" fill-opacity="0.90"/>
<circle cx="433.7" cy="183.8" r="1.20" fill="#00ff0b" fill-opacity="0.90"/>
<circle cx="433.7" cy="182.0" r="1.20" fill="#00ffce" fill-opacity="0.90"/>
<circle cx="437.4" cy="189.4" r="1.20" fill="#77ff00" fill-opacity="0.90"/>
<circle cx="437.4" cy="187.6" r="1.20" fill="#62ff00" fill-opacity="0.90"/>
<circle cx="437.4" cy="185.7" r="1.20" fill="#4cff00" fill-opacity="0.90"/>
<circle cx="437.4" cy="183.8" r="1.20" fill="#00ff21" fill-opacity="0.90"/>
<circle cx="437.4" cy="182.0" r="1.20" fill="#00ff36" fill-opacity="0.90"/>
<circle cx="437.4" cy="180.2" r="1.20" fill="#00ff4c" fill-opacity="0.90"/>
<circle cx="437.4" cy="178.3" r="1.20" fill="#00ff62" fill-opacity="0.90"/>
<circle cx="437.4" cy="176.5" r="1.20" fill="#00ff77" fill-opacity="0.90"/>
<circle cx="437.4" cy="174.6" r="1.20" fill="#00ff8d" fill-opacity="0.90"/>
<circle cx="437.4" cy="172.8" r="1.20" fill="#00ffa3" fill-opacity="0.90"/>
<circle cx="437.4" cy="170.9" r="1.20" fill="#00ffb8" fill-opacity="0.90"/>
<circle cx="437.4" cy="169.1" r="1.20" fill="#00ffe4" fill-opacity="0.90"/>
<circle cx="437.4" cy="167.2" r="1.20" fill="#00fffa" fill-opacity="0.90"/>
<circle cx="437.4" cy="165.3" r="1.20" fill="#00efff" fill-opacity="0.90"/>
<circle cx="437.4" cy="163.5" r="1.20" fill="#00d9ff" fill-opacity="0.90"/>
<circle cx="437.4" cy="161.7" r="1.20" fill="#00c3ff" fill-opacity="0.90"/>
<circle cx="444.5" cy="189.4" r="1.20" fill="#00aeff" fill-opacity="0.90"/>
<circle cx="444.5" cy="187.6" r="1.20" fill="#0098ff" fill-opacity="0.90"/>
<circle cx="444.5" cy="185.7" r="1.20" fill="#0082ff" fill-opacity="0.90"/>
<circle cx="444.5" cy="183.8" r="1.20" fill="#006dff" fill-opacity="0.90"/>
<circle cx="444.5" cy="182.0" r="1.20" fill="#0057ff" fill-opacity="0.90"/>
<circle cx="444.5" cy="180.2" r="1.20" fill="#0041ff" fill-opacity="0.90"/>
<circle cx="444.5" cy="178.3" r="1.20" fill="#002bff" fill-opacity="0.90"/>
<circle cx="444.5" cy="176.5" r="1.20" fill="#0016ff" fill-opacity="0.90"/>
<circle cx="444.5" cy="174.6" r="1.20" fill="#0000ff" fill-opacity="0.90"/>
<circle cx="377.3" cy="208.3" r="1.3" fill="#44ff44" fill-opacity="0.7"/>
<circle cx="578.5" cy="187.5" r="1.20" fill="#ff1600" fill-opacity="0.90"/>
<circle cx="578.5" cy="185.9" r="1.20" fill="#ff2b00" fill-opacity="0.90"/>
<circle cx="578.5" cy="184.3" r="1.20" fill="#ff4100" fill-opacity="0.90"/>
<circle cx="578.5" cy="182.7" r="1.20" fill="#ff5700" fill-opacity="0.90"/>
<circle cx="578.5" cy="181.1" r="1.20" fill="#ff6d00" fill-opacity="0.90"/>
<circle cx="578.5" cy="179.5" r="1.20" fill="#ff8200" fill-opacity="0.90"/>
<circle cx="578.5" cy="177.9" r="1.20" fill="#ff9800" fill-opacity="0.90"/>
<circle cx="578.5" cy="176.3" r="1.20" fill="#ffae00" fill-opacity="0.90"/>
<circle cx="578.5" cy="174.7" r="1.20" fill="#ffc300" fill-opacity="0.90"/>
<circle cx="578.5" cy="173.1" r="1.20" fill="#ffd900" fill-opacity="0.90"/>
<circle cx="578.5" cy="171.5" r="1.20" fill="#ffef00" fill-opacity="0.90"/>
<circle cx="578.5" cy="169.9" r="1.20" fill="#faff00" fill-opacity="0.90"/>
<circle cx="578.5" cy="168.3" r="1.20" fill="#e4ff00" fill-opacity="0.90"/>
<circle cx="578.5" cy="166.7" r="1.20" fill="#ceff00" fill-opacity="0.90"/>
<circle cx="578.5" cy="165.1" r="1.20" fill="#b8ff00" fill-opacity="0.90"/>
<circle cx="578.5" cy="163.5" r="1.20" fill="#a3ff00" fill-opacity="0.90"/>
<circle cx="578.5" cy="161.9" r="1.20" fill="#8dff00" fill-opacity="0.90"/>
<circle cx="578.5" cy="160.3" r="1.20" fill="#77ff00" fill-opacity="0.90"/>
<circle cx="578.5" cy="158.7" r="1.20" fill="#62ff00" fill-opacity="0.90"/>
<circle cx="578.5" cy="157.1" r="1.20" fill="#4cff00" fill-opacity="0.90"/>
<circle cx="578.5" cy="155.5" r="1.20" fill="#36ff00" fill-opacity="0.90"/>
<circle cx="578.5" cy="153.9" r="1.20" fill="#21ff00" fill-opacity="0.90"/>
<circle cx="578.5" cy="152.3" r="1.20" fill="#0bff00" fill-opacity="0.90"/>
<circle cx="582.0" cy="186.8" r="1.10" fill="#ff0000" fill-opacity="0.90"/>
<defs><linearGradient id="cb" x1="0" y1="1" x2="0" y2="0">
<stop offset="0.000" stop-color="#ff0000"/>
<stop offset="0.083" stop-color="#ff5500"/>
<stop offset="0.167" stop-color="#ffaa00"/>
<stop offset="0.250" stop-color="#ffff00"/>
<stop offset="0.333" stop-color="#aaff00"/>
<stop offset="0.417" stop-color="#55ff00"/>
<stop offset="0.500" stop-color="#00ff00"/>
<stop offset="0.583" stop-color="#00ff55"/>
<stop offset="0.667" stop-color="#00ffaa"/>
<stop offset="0.750" stop-color="#00ffff"/>
<stop offset="0.833" stop-color="#00aaff"/>
<stop offset="0.917" stop-color="#0055ff"/>
<stop offset="1.000" stop-color="#0000ff"/>
</linearGradient></defs>
<rect x="667.2" y="150.7" width="8.0" height="127.6" fill="url(#cb)"/>
<g font-family="Liberation Sans, sans-serif" font-size="6.4" fill="#222">
<text x="676.3" y="153.0">48</text>
<text x="676.3" y="184.9">36</text>
<text x="676.3" y="216.7">24</text>
<text x="676.3" y="248.6">12</text>
<text x="676.3" y="280.6">1</text>
</g>
<text x="336.7" y="310.1" text-anchor="middle" font-family="Liberation Sans, sans-serif" font-weight="bold" font-size="15.2" fill="#000" textLength="65.6" lengthAdjust="spacingAndGlyphs">Lag (ms)</text>
<rect x="39.9" y="340.5" width="133.5" height="123.0" fill="none" stroke="#a8a8a8" stroke-width="1"/>
<g font-family="Liberation Sans, sans-serif" font-size="9" fill="#333">
<line x1="37.4" x2="39.9" y1="463.4" y2="463.4" stroke="#a8a8a8" stroke-width="0.8"/>
<text x="35.9" y="466.6" text-anchor="end" textLength="21.6" lengthAdjust="spacingAndGlyphs">−200</text>
<line x1="37.4" x2="39.9" y1="445.9" y2="445.9" stroke="#a8a8a8" stroke-width="0.8"/>
<text x="35.9" y="449.1" text-anchor="end" textLength="21.6" lengthAdjust="spacingAndGlyphs">−100</text>
<line x1="37.4" x2="39.9" y1="428.3" y2="428.3" stroke="#a8a8a8" stroke-width="0.8"/>
<text x="35.9" y="431.5" text-anchor="end" textLength="5.2" lengthAdjust="spacingAndGlyphs">0</text>
<line x1="37.4" x2="39.9" y1="410.7" y2="410.7" stroke="#a8a8a8" stroke-width="0.8"/>
<text x="35.9" y="413.9" text-anchor="end" textLength="15.2" lengthAdjust="spacingAndGlyphs">100</text>
<line x1="37.4" x2="39.9" y1="393.2" y2="393.2" stroke="#a8a8a8" stroke-width="0.8"/>
<text x="35.9" y="396.4" text-anchor="end" textLength="15.2" lengthAdjust="spacingAndGlyphs">200</text>
<line x1="37.4" x2="39.9" y1="375.6" y2="375.6" stroke="#a8a8a8" stroke-width="0.8"/>
<text x="35.9" y="378.8" text-anchor="end" textLength="15.2" lengthAdjust="spacingAndGlyphs">300</text>
<line x1="37.4" x2="39.9" y1="358.0" y2="358.0" stroke="#a8a8a8" stroke-width="0.8"/>
<text x="35.9" y="361.2" text-anchor="end" textLength="15.2" lengthAdjust="spacingAndGlyphs">400</text>
<line x1="37.4" x2="39.9" y1="340.5" y2="340.5" stroke="#a8a8a8" stroke-width="0.8"/>
<text x="35.9" y="343.7" text-anchor="end" textLength="15.2" lengthAdjust="spacingAndGlyphs">500</text>
<line x1="46.4" x2="46.4" y1="463.5" y2="466.0" stroke="#a8a8a8" stroke-width="0.8"/>
<text x="46.4" y="473.3" text-anchor="middle" textLength="5.2" lengthAdjust="spacingAndGlyphs">0</text>
<line x1="98.2" x2="98.2" y1="463.5" y2="466.0" stroke="#a8a8a8" stroke-width="0.8"/>
<text x="98.2" y="473.3" text-anchor="middle" textLength="10.4" lengthAdjust="spacingAndGlyphs">20</text>
<line x1="150.0" x2="150.0" y1="463.5" y2="466.0" stroke="#a8a8a8" stroke-width="0.8"/>
<text x="150.0" y="473.3" text-anchor="middle" textLength="10.4" lengthAdjust="spacingAndGlyphs">40</text>
</g>
<circle cx="46.4" cy="432.7" r="1.65" fill="#0000ff"/>
<circle cx="49.0" cy="437.1" r="1.65" fill="#0000ff"/>
<circle cx="51.6" cy="437.1" r="1.65" fill="#0000ff"/>
<circle cx="54.2" cy="437.1" r="1.65" fill="#0000ff"/>
<circle cx="56.8" cy="437.1" r="1.65" fill="#0000ff"/>
<circle cx="59.3" cy="437.1" r="1.65" fill="#0000ff"/>
<circle cx="61.9" cy="437.1" r="1.65" fill="#0000ff"/>
<circle cx="64.5" cy="437.1" r="1.65" fill="#0000ff"/>
<circle cx="67.1" cy="437.1" r="1.65" fill="#0000ff"/>
<circle cx="69.7" cy="437.1" r="1.65" fill="#0000ff"/>
<circle cx="72.3" cy="437.1" r="1.65" fill="#0000ff"/>
<circle cx="74.9" cy="437.1" r="1.65" fill="#0000ff"/>
<circle cx="77.5" cy="437.1" r="1.65" fill="#0000ff"/>
<circle cx="80.1" cy="437.1" r="1.65" fill="#0000ff"/>
<circle cx="82.6" cy="437.1" r="1.65" fill="#0000ff"/>
<circle cx="85.2" cy="437.1" r="1.65" fill="#0000ff"/>
<circle cx="87.8" cy="437.1" r="1.65" fill="#0000ff"/>
<circle cx="90.4" cy="437.1" r="1.65" fill="#0000ff"/>
<circle cx="93.0" cy="437.1" r="1.65" fill="#0000ff"/>
<circle cx="95.6" cy="437.1" r="1.65" fill="#0000ff"/>
<circle cx="98.2" cy="437.1" r="1.65" fill="#0000ff"/>
<circle cx="100.8" cy="437.1" r="1.65" fill="#0000ff"/>
<circle cx="103.4" cy="437.1" r="1.65" fill="#0000ff"/>
<circle cx="105.9" cy="437.1" r="1.65" fill="#0000ff"/>
<circle cx="108.5" cy="437.1" r="1.65" fill="#0000ff"/>
<circle cx="111.1" cy="437.1" r="1.65" fill="#0000ff"/>
<circle cx="113.7" cy="437.1" r="1.65" fill="#0000ff"/>
<circle cx="116.3" cy="437.1" r="1.65" fill="#0000ff"/>
<circle cx="118.9" cy="437.1" r="1.65" fill="#0000ff"/>
<circle cx="121.5" cy="437.1" r="1.65" fill="#0000ff"/>
<circle cx="124.1" cy="437.1" r="1.65" fill="#0000ff"/>
<circle cx="126.7" cy="437.1" r="1.65" fill="#0000ff"/>
<circle cx="129.2" cy="437.1" r="1.65" fill="#0000ff"/>
<circle cx="131.8" cy="437.1" r="1.65" fill="#0000ff"/>
<circle cx="134.4" cy="437.1" r="1.65" fill="#0000ff"/>
<circle cx="137.0" cy="437.1" r="1.65" fill="#0000ff"/>
<circle cx="139.6" cy="437.1" r="1.65" fill="#0000ff"/>
<circle cx="142.2" cy="437.1" r="1.65" fill="#0000ff"/>
<circle cx="144.8" cy="437.1" r="1.65" fill="#0000ff"/>
<circle cx="147.4" cy="437.1" r="1.65" fill="#0000ff"/>
<circle cx="150.0" cy="437.1" r="1.65" fill="#0000ff"/>
<circle cx="152.5" cy="437.1" r="1.65" fill="#0000ff"/>
<circle cx="155.1" cy="437.1" r="1.65" fill="#0000ff"/>
<circle cx="157.7" cy="437.1" r="1.65" fill="#0000ff"/>
<circle cx="160.3" cy="437.1" r="1.65" fill="#0000ff"/>
<circle cx="162.9" cy="437.1" r="1.65" fill="#0000ff"/>
<circle cx="165.5" cy="437.1" r="1.65" fill="#0000ff"/>
<circle cx="168.1" cy="437.1" r="1.65" fill="#0000ff"/>
<text x="46.5" y="355.4" font-family="Liberation Sans, sans-serif" font-weight="bold" font-size="15.5" fill="#0000ff" textLength="91.8" lengthAdjust="spacingAndGlyphs">r=.93, p&lt;.001</text>
<rect x="200.1" y="340.5" width="133.9" height="123.0" fill="none" stroke="#a8a8a8" stroke-width="1"/>
<g font-family="Liberation Sans, sans-serif" font-size="9" fill="#333">
<line x1="197.6" x2="200.1" y1="463.4" y2="463.4" stroke="#a8a8a8" stroke-width="0.8"/>
<text x="196.1" y="466.6" text-anchor="end" textLength="21.6" lengthAdjust="spacingAndGlyphs">−200</text>
<line x1="197.6" x2="200.1" y1="445.9" y2="445.9" stroke="#a8a8a8" stroke-width="0.8"/>
<text x="196.1" y="449.1" text-anchor="end" textLength="21.6" lengthAdjust="spacingAndGlyphs">−100</text>
<line x1="197.6" x2="200.1" y1="428.3" y2="428.3" stroke="#a8a8a8" stroke-width="0.8"/>
<text x="196.1" y="431.5" text-anchor="end" textLength="5.2" lengthAdjust="spacingAndGlyphs">0</text>
<line x1="197.6" x2="200.1" y1="410.7" y2="410.7" stroke="#a8a8a8" stroke-width="0.8"/>
<text x="196.1" y="413.9" text-anchor="end" textLength="15.2" lengthAdjust="spacingAndGlyphs">100</text>
<line x1="197.6" x2="200.1" y1="393.2" y2="393.2" stroke="#a8a8a8" stroke-width="0.8"/>
<text x="196.1" y="396.4" text-anchor="end" textLength="15.2" lengthAdjust="spacingAndGlyphs">200</text>
<line x1="197.6" x2="200.1" y1="375.6" y2="375.6" stroke="#a8a8a8" stroke-width="0.8"/>
<text x="196.1" y="378.8" text-anchor="end" textLength="15.2" lengthAdjust="spacingAndGlyphs">300</text>
<line x1="197.6" x2="200.1" y1="358.0" y2="358.0" stroke="#a8a8a8" stroke-width="0.8"/>
<text x="196.1" y="361.2" text-anchor="end" textLength="15.2" lengthAdjust="spacingAndGlyphs">400</text>
<line x1="197.6" x2="200.1" y1="340.5" y2="340.5" stroke="#a8a8a8" stroke-width="0.8"/>
<text x="196.1" y="343.7" text-anchor="end" textLength="15.2" lengthAdjust="spacingAndGlyphs">500</text>
<line x1="206.6" x2="206.6" y1="463.5" y2="466.0" stroke="#a8a8a8" stroke-width="0.8"/>
<text x="206.6" y="473.3" text-anchor="middle" textLength="5.2" lengthAdjust="spacingAndGlyphs">0</text>
<line x1="258.4" x2="258.4" y1="463.5" y2="466.0" stroke="#a8a8a8" stroke-width="0.8"/>
<text x="258.4" y="473.3" text-anchor="middle" textLength="10.4" lengthAdjust="spacingAndGlyphs">20</text>
<line x1="310.2" x2="310.2" y1="463.5" y2="466.0" stroke="#a8a8a8" stroke-width="0.8"/>
<text x="310.2" y="473.3" text-anchor="middle" textLength="10.4" lengthAdjust="spacingAndGlyphs">40</text>
</g>
<circle cx="206.6" cy="441.5" r="1.65" fill="#000000"/>
<circle cx="209.2" cy="432.7" r="1.65" fill="#000000"/>
<circle cx="211.8" cy="445.9" r="1.65" fill="#000000"/>
<circle cx="214.4" cy="445.9" r="1.65" fill="#000000"/>
<circle cx="217.0" cy="445.9" r="1.65" fill="#000000"/>
<circle cx="219.5" cy="445.9" r="1.65" fill="#000000"/>
<circle cx="222.1" cy="441.5" r="1.65" fill="#000000"/>
<circle cx="224.7" cy="441.5" r="1.65" fill="#000000"/>
<circle cx="227.3" cy="441.5" r="1.65" fill="#000000"/>
<circle cx="229.9" cy="432.7" r="1.65" fill="#000000"/>
<circle cx="232.5" cy="441.5" r="1.65" fill="#000000"/>
<circle cx="235.1" cy="437.1" r="1.65" fill="#000000"/>
<circle cx="237.7" cy="437.1" r="1.65" fill="#000000"/>
<circle cx="240.3" cy="437.1" r="1.65" fill="#000000"/>
<circle cx="242.8" cy="432.7" r="1.65" fill="#000000"/>
<circle cx="245.4" cy="415.1" r="1.65" fill="#000000"/>
<circle cx="248.0" cy="437.1" r="1.65" fill="#000000"/>
<circle cx="250.6" cy="432.7" r="1.65" fill="#000000"/>
<circle cx="253.2" cy="432.7" r="1.65" fill="#000000"/>
<circle cx="255.8" cy="419.5" r="1.65" fill="#000000"/>
<circle cx="258.4" cy="419.5" r="1.65" fill="#000000"/>
<circle cx="261.0" cy="419.5" r="1.65" fill="#000000"/>
<circle cx="263.6" cy="419.5" r="1.65" fill="#000000"/>
<circle cx="266.1" cy="415.1" r="1.65" fill="#000000"/>
<circle cx="268.7" cy="415.1" r="1.65" fill="#000000"/>
<circle cx="271.3" cy="415.1" r="1.65" fill="#000000"/>
<circle cx="273.9" cy="415.1" r="1.65" fill="#000000"/>
<circle cx="276.5" cy="415.1" r="1.65" fill="#000000"/>
<circle cx="279.1" cy="415.1" r="1.65" fill="#000000"/>
<circle cx="281.7" cy="415.1" r="1.65" fill="#000000"/>
<circle cx="284.3" cy="415.1" r="1.65" fill="#000000"/>
<circle cx="286.9" cy="415.1" r="1.65" fill="#000000"/>
<circle cx="289.4" cy="415.1" r="1.65" fill="#000000"/>
<circle cx="292.0" cy="419.5" r="1.65" fill="#000000"/>
<circle cx="294.6" cy="415.1" r="1.65" fill="#000000"/>
<circle cx="297.2" cy="415.1" r="1.65" fill="#000000"/>
<circle cx="299.8" cy="415.1" r="1.65" fill="#000000"/>
<circle cx="302.4" cy="415.1" r="1.65" fill="#000000"/>
<circle cx="305.0" cy="415.1" r="1.65" fill="#000000"/>
<circle cx="307.6" cy="406.3" r="1.65" fill="#000000"/>
<circle cx="310.2" cy="406.3" r="1.65" fill="#000000"/>
<circle cx="312.7" cy="406.3" r="1.65" fill="#000000"/>
<circle cx="315.3" cy="406.3" r="1.65" fill="#000000"/>
<circle cx="317.9" cy="406.3" r="1.65" fill="#000000"/>
<circle cx="320.5" cy="406.3" r="1.65" fill="#000000"/>
<circle cx="323.1" cy="406.3" r="1.65" fill="#000000"/>
<circle cx="325.7" cy="406.3" r="1.65" fill="#000000"/>
<circle cx="328.3" cy="406.3" r="1.65" fill="#000000"/>
<line x1="206.6" y1="442.9" x2="328.3" y2="401.8" stroke="#000000" stroke-width="0.8" stroke-dasharray="3,1.6"/>
<text x="207.6" y="355.4" font-family="Liberation Sans, sans-serif" font-weight="bold" font-size="15.5" fill="#000000" textLength="88.2" lengthAdjust="spacingAndGlyphs">r=.85,p&lt;.001</text>
<rect x="360.2" y="340.5" width="134.1" height="123.0" fill="none" stroke="#a8a8a8" stroke-width="1"/>
<g font-family="Liberation Sans, sans-serif" font-size="9" fill="#333">
<line x1="357.7" x2="360.2" y1="463.4" y2="463.4" stroke="#a8a8a8" stroke-width="0.8"/>
<text x="356.2" y="466.6" text-anchor="end" textLength="21.6" lengthAdjust="spacingAndGlyphs">−200</text>
<line x1="357.7" x2="360.2" y1="445.9" y2="445.9" stroke="#a8a8a8" stroke-width="0.8"/>
<text x="356.2" y="449.1" text-anchor="end" textLength="21.6" lengthAdjust="spacingAndGlyphs">−100</text>
<line x1="357.7" x2="360.2" y1="428.3" y2="428.3" stroke="#a8a8a8" stroke-width="0.8"/>
<text x="356.2" y="431.5" text-anchor="end" textLength="5.2" lengthAdjust="spacingAndGlyphs">0</text>
<line x1="357.7" x2="360.2" y1="410.7" y2="410.7" stroke="#a8a8a8" stroke-width="0.8"/>
<text x="356.2" y="413.9" text-anchor="end" textLength="15.2" lengthAdjust="spacingAndGlyphs">100</text>
<line x1="357.7" x2="360.2" y1="393.2" y2="393.2" stroke="#a8a8a8" stroke-width="0.8"/>
<text x="356.2" y="396.4" text-anchor="end" textLength="15.2" lengthAdjust="spacingAndGlyphs">200</text>
<line x1="357.7" x2="360.2" y1="375.6" y2="375.6" stroke="#a8a8a8" stroke-width="0.8"/>
<text x="356.2" y="378.8" text-anchor="end" textLength="15.2" lengthAdjust="spacingAndGlyphs">300</text>
<line x1="357.7" x2="360.2" y1="358.0" y2="358.0" stroke="#a8a8a8" stroke-width="0.8"/>
<text x="356.2" y="361.2" text-anchor="end" textLength="15.2" lengthAdjust="spacingAndGlyphs">400</text>
<line x1="357.7" x2="360.2" y1="340.5" y2="340.5" stroke="#a8a8a8" stroke-width="0.8"/>
<text x="356.2" y="343.7" text-anchor="end" textLength="15.2" lengthAdjust="spacingAndGlyphs">500</text>
<line x1="366.7" x2="366.7" y1="463.5" y2="466.0" stroke="#a8a8a8" stroke-width="0.8"/>
<text x="366.7" y="473.3" text-anchor="middle" textLength="5.2" lengthAdjust="spacingAndGlyphs">0</text>
<line x1="418.5" x2="418.5" y1="463.5" y2="466.0" stroke="#a8a8a8" stroke-width="0.8"/>
<text x="418.5" y="473.3" text-anchor="middle" textLength="10.4" lengthAdjust="spacingAndGlyphs">20</text>
<line x1="470.3" x2="470.3" y1="463.5" y2="466.0" stroke="#a8a8a8" stroke-width="0.8"/>
<text x="470.3" y="473.3" text-anchor="middle" textLength="10.4" lengthAdjust="spacingAndGlyphs">40</text>
</g>
<circle cx="366.7" cy="410.7" r="1.65" fill="#ff0000"/>
<circle cx="369.3" cy="410.7" r="1.65" fill="#ff0000"/>
<circle cx="371.9" cy="415.1" r="1.65" fill="#ff0000"/>
<circle cx="374.5" cy="419.5" r="1.65" fill="#ff0000"/>
<circle cx="377.1" cy="419.5" r="1.65" fill="#ff0000"/>
<circle cx="379.6" cy="419.5" r="1.65" fill="#ff0000"/>
<circle cx="382.2" cy="419.5" r="1.65" fill="#ff0000"/>
<circle cx="384.8" cy="419.5" r="1.65" fill="#ff0000"/>
<circle cx="387.4" cy="415.1" r="1.65" fill="#ff0000"/>
<circle cx="390.0" cy="415.1" r="1.65" fill="#ff0000"/>
<circle cx="392.6" cy="415.1" r="1.65" fill="#ff0000"/>
<circle cx="395.2" cy="410.7" r="1.65" fill="#ff0000"/>
<circle cx="397.8" cy="410.7" r="1.65" fill="#ff0000"/>
<circle cx="400.4" cy="415.1" r="1.65" fill="#ff0000"/>
<circle cx="402.9" cy="410.7" r="1.65" fill="#ff0000"/>
<circle cx="405.5" cy="415.1" r="1.65" fill="#ff0000"/>
<circle cx="408.1" cy="415.1" r="1.65" fill="#ff0000"/>
<circle cx="410.7" cy="415.1" r="1.65" fill="#ff0000"/>
<circle cx="413.3" cy="415.1" r="1.65" fill="#ff0000"/>
<circle cx="415.9" cy="419.5" r="1.65" fill="#ff0000"/>
<circle cx="418.5" cy="419.5" r="1.65" fill="#ff0000"/>
<circle cx="421.1" cy="397.6" r="1.65" fill="#ff0000"/>
<circle cx="423.7" cy="410.7" r="1.65" fill="#ff0000"/>
<circle cx="426.2" cy="397.6" r="1.65" fill="#ff0000"/>
<circle cx="428.8" cy="397.6" r="1.65" fill="#ff0000"/>
<circle cx="431.4" cy="419.5" r="1.65" fill="#ff0000"/>
<circle cx="434.0" cy="410.7" r="1.65" fill="#ff0000"/>
<circle cx="436.6" cy="410.7" r="1.65" fill="#ff0000"/>
<circle cx="439.2" cy="410.7" r="1.65" fill="#ff0000"/>
<circle cx="441.8" cy="393.2" r="1.65" fill="#ff0000"/>
<circle cx="444.4" cy="393.2" r="1.65" fill="#ff0000"/>
<circle cx="447.0" cy="384.4" r="1.65" fill="#ff0000"/>
<circle cx="449.5" cy="384.4" r="1.65" fill="#ff0000"/>
<circle cx="452.1" cy="384.4" r="1.65" fill="#ff0000"/>
<circle cx="454.7" cy="384.4" r="1.65" fill="#ff0000"/>
<circle cx="457.3" cy="384.4" r="1.65" fill="#ff0000"/>
<circle cx="459.9" cy="384.4" r="1.65" fill="#ff0000"/>
<circle cx="462.5" cy="384.4" r="1.65" fill="#ff0000"/>
<circle cx="465.1" cy="384.4" r="1.65" fill="#ff0000"/>
<circle cx="467.7" cy="384.4" r="1.65" fill="#ff0000"/>
<circle cx="470.3" cy="384.4" r="1.65" fill="#ff0000"/>
<circle cx="472.8" cy="384.4" r="1.65" fill="#ff0000"/>
<circle cx="475.4" cy="388.8" r="1.65" fill="#ff0000"/>
<circle cx="478.0" cy="388.8" r="1.65" fill="#ff0000"/>
<circle cx="480.6" cy="388.8" r="1.65" fill="#ff0000"/>
<circle cx="483.2" cy="388.8" r="1.65" fill="#ff0000"/>
<circle cx="485.8" cy="388.8" r="1.65" fill="#ff0000"/>
<circle cx="488.4" cy="388.8" r="1.65" fill="#ff0000"/>
<line x1="366.7" y1="422.7" x2="488.4" y2="381.6" stroke="#ff0000" stroke-width="0.8" stroke-dasharray="3,1.6"/>
<text x="366.5" y="355.4" font-family="Liberation Sans, sans-serif" font-weight="bold" font-size="15.5" fill="#e8003c" textLength="91.8" lengthAdjust="spacingAndGlyphs">r=.92, p&lt;.001</text>
<rect x="521.0" y="340.5" width="133.4" height="123.0" fill="none" stroke="#a8a8a8" stroke-width="1"/>
<g font-family="Liberation Sans, sans-serif" font-size="9" fill="#333">
<line x1="518.5" x2="521.0" y1="463.4" y2="463.4" stroke="#a8a8a8" stroke-width="0.8"/>
<text x="517.0" y="466.6" text-anchor="end" textLength="21.6" lengthAdjust="spacingAndGlyphs">−200</text>
<line x1="518.5" x2="521.0" y1="445.9" y2="445.9" stroke="#a8a8a8" stroke-width="0.8"/>
<text x="517.0" y="449.1" text-anchor="end" textLength="21.6" lengthAdjust="spacingAndGlyphs">−100</text>
<line x1="518.5" x2="521.0" y1="428.3" y2="428.3" stroke="#a8a8a8" stroke-width="0.8"/>
<text x="517.0" y="431.5" text-anchor="end" textLength="5.2" lengthAdjust="spacingAndGlyphs">0</text>
<line x1="518.5" x2="521.0" y1="410.7" y2="410.7" stroke="#a8a8a8" stroke-width="0.8"/>
<text x="517.0" y="413.9" text-anchor="end" textLength="15.2" lengthAdjust="spacingAndGlyphs">100</text>
<line x1="518.5" x2="521.0" y1="393.2" y2="393.2" stroke="#a8a8a8" stroke-width="0.8"/>
<text x="517.0" y="396.4" text-anchor="end" textLength="15.2" lengthAdjust="spacingAndGlyphs">200</text>
<line x1="518.5" x2="521.0" y1="375.6" y2="375.6" stroke="#a8a8a8" stroke-width="0.8"/>
<text x="517.0" y="378.8" text-anchor="end" textLength="15.2" lengthAdjust="spacingAndGlyphs">300</text>
<line x1="518.5" x2="521.0" y1="358.0" y2="358.0" stroke="#a8a8a8" stroke-width="0.8"/>
<text x="517.0" y="361.2" text-anchor="end" textLength="15.2" lengthAdjust="spacingAndGlyphs">400</text>
<line x1="518.5" x2="521.0" y1="340.5" y2="340.5" stroke="#a8a8a8" stroke-width="0.8"/>
<text x="517.0" y="343.7" text-anchor="end" textLength="15.2" lengthAdjust="spacingAndGlyphs">500</text>
<line x1="527.5" x2="527.5" y1="463.5" y2="466.0" stroke="#a8a8a8" stroke-width="0.8"/>
<text x="527.5" y="473.3" text-anchor="middle" textLength="5.2" lengthAdjust="spacingAndGlyphs">0</text>
<line x1="579.3" x2="579.3" y1="463.5" y2="466.0" stroke="#a8a8a8" stroke-width="0.8"/>
<text x="579.3" y="473.3" text-anchor="middle" textLength="10.4" lengthAdjust="spacingAndGlyphs">20</text>
<line x1="631.1" x2="631.1" y1="463.5" y2="466.0" stroke="#a8a8a8" stroke-width="0.8"/>
<text x="631.1" y="473.3" text-anchor="middle" textLength="10.4" lengthAdjust="spacingAndGlyphs">40</text>
</g>
<circle cx="527.5" cy="441.5" r="1.65" fill="#008000"/>
<circle cx="530.1" cy="432.7" r="1.65" fill="#008000"/>
<circle cx="532.7" cy="432.7" r="1.65" fill="#008000"/>
<circle cx="535.3" cy="432.7" r="1.65" fill="#008000"/>
<circle cx="537.9" cy="432.7" r="1.65" fill="#008000"/>
<circle cx="540.4" cy="432.7" r="1.65" fill="#008000"/>
<circle cx="543.0" cy="432.7" r="1.65" fill="#008000"/>
<circle cx="545.6" cy="432.7" r="1.65" fill="#008000"/>
<circle cx="548.2" cy="432.7" r="1.65" fill="#008000"/>
<circle cx="550.8" cy="410.7" r="1.65" fill="#008000"/>
<circle cx="553.4" cy="410.7" r="1.65" fill="#008000"/>
<circle cx="556.0" cy="410.7" r="1.65" fill="#008000"/>
<circle cx="558.6" cy="410.7" r="1.65" fill="#008000"/>
<circle cx="561.2" cy="410.7" r="1.65" fill="#008000"/>
<circle cx="563.7" cy="410.7" r="1.65" fill="#008000"/>
<circle cx="566.3" cy="410.7" r="1.65" fill="#008000"/>
<circle cx="568.9" cy="410.7" r="1.65" fill="#008000"/>
<circle cx="571.5" cy="406.3" r="1.65" fill="#008000"/>
<circle cx="574.1" cy="406.3" r="1.65" fill="#008000"/>
<circle cx="576.7" cy="406.3" r="1.65" fill="#008000"/>
<circle cx="579.3" cy="406.3" r="1.65" fill="#008000"/>
<circle cx="581.9" cy="393.2" r="1.65" fill="#008000"/>
<circle cx="584.5" cy="406.3" r="1.65" fill="#008000"/>
<circle cx="587.0" cy="406.3" r="1.65" fill="#008000"/>
<circle cx="589.6" cy="406.3" r="1.65" fill="#008000"/>
<circle cx="592.2" cy="388.8" r="1.65" fill="#008000"/>
<circle cx="594.8" cy="388.8" r="1.65" fill="#008000"/>
<circle cx="597.4" cy="388.8" r="1.65" fill="#008000"/>
<circle cx="600.0" cy="388.8" r="1.65" fill="#008000"/>
<circle cx="602.6" cy="388.8" r="1.65" fill="#008000"/>
<circle cx="605.2" cy="388.8" r="1.65" fill="#008000"/>
<circle cx="607.8" cy="388.8" r="1.65" fill="#008000"/>
<circle cx="610.3" cy="388.8" r="1.65" fill="#008000"/>
<circle cx="612.9" cy="388.8" r="1.65" fill="#008000"/>
<circle cx="615.5" cy="388.8" r="1.65" fill="#008000"/>
<circle cx="618.1" cy="388.8" r="1.65" fill="#008000"/>
<circle cx="620.7" cy="388.8" r="1.65" fill="#008000"/>
<circle cx="623.3" cy="384.4" r="1.65" fill="#008000"/>
<circle cx="625.9" cy="388.8" r="1.65" fill="#008000"/>
<circle cx="628.5" cy="388.8" r="1.65" fill="#008000"/>
<circle cx="631.1" cy="388.8" r="1.65" fill="#008000"/>
<circle cx="633.6" cy="388.8" r="1.65" fill="#008000"/>
<circle cx="636.2" cy="388.8" r="1.65" fill="#008000"/>
<circle cx="638.8" cy="384.4" r="1.65" fill="#008000"/>
<circle cx="641.4" cy="384.4" r="1.65" fill="#008000"/>
<circle cx="644.0" cy="362.4" r="1.65" fill="#008000"/>
<circle cx="646.6" cy="362.4" r="1.65" fill="#008000"/>
<circle cx="649.2" cy="362.4" r="1.65" fill="#008000"/>
<line x1="527.5" y1="432.5" x2="649.2" y2="370.4" stroke="#008000" stroke-width="0.8" stroke-dasharray="3,1.6"/>
<text x="527.0" y="355.4" font-family="Liberation Sans, sans-serif" font-weight="bold" font-size="15.5" fill="#118811" textLength="90.6" lengthAdjust="spacingAndGlyphs">r=-.24, p=.09</text>
<text transform="translate(11.6,398.8) rotate(-90)" text-anchor="middle" font-family="Liberation Sans, sans-serif" font-weight="bold" font-size="15.2" fill="#000" textLength="64" lengthAdjust="spacingAndGlyphs">Lag (ms)</text>
<text x="347.2" y="490.7" text-anchor="middle" font-family="Liberation Sans, sans-serif" font-weight="bold" font-size="15.3" fill="#000" textLength="132.6" lengthAdjust="spacingAndGlyphs">Layer Index (1-48)</text>
</svg></body></html>
